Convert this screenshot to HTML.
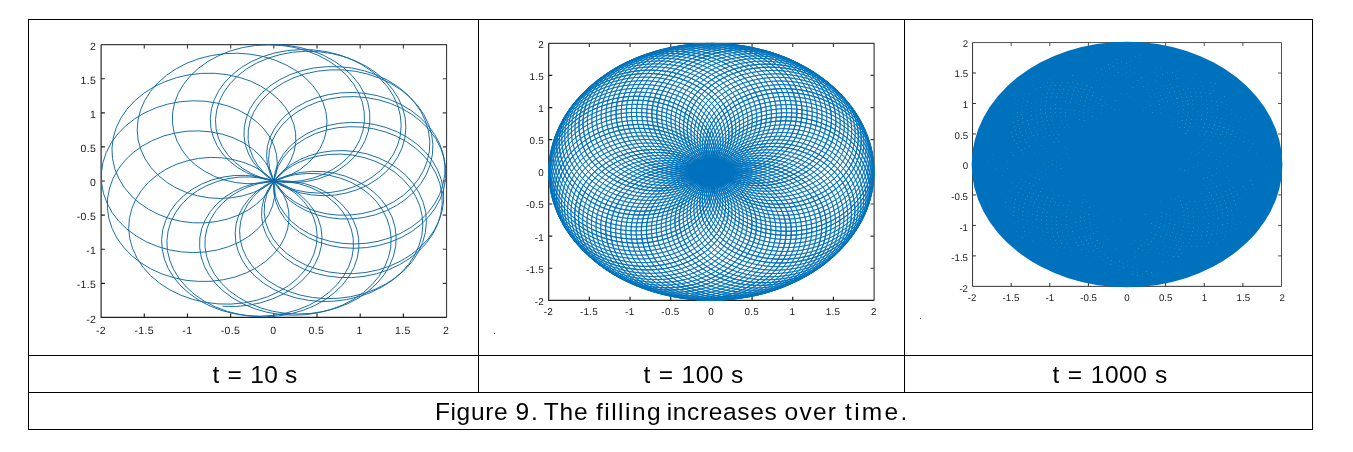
<!DOCTYPE html>
<html lang="en"><head><meta charset="utf-8"><title>Figure 9. The filling increases over time.</title>
<style>
html,body{margin:0;padding:0;background:#fff}
body{width:1353px;height:452px;position:relative;overflow:hidden;font-family:"Liberation Sans",sans-serif;color:#000}
.frame{position:absolute;left:28px;top:19px;width:1283px;height:409px;border:1px solid #000}
.v{position:absolute;top:19px;width:1px;height:374px;background:#000}
.h{position:absolute;left:28px;width:1285px;height:1px;background:#000}
.row{position:absolute;left:0;width:1353px;height:40px;font-size:24.5px;line-height:40px;white-space:nowrap;margin:0}
.row span{position:absolute;top:0;white-space:nowrap}
svg{position:absolute;left:0;top:0}
.dot{position:absolute;width:1px;height:1px;background:#555}
</style></head><body>
<div class="frame"></div>
<div class="v" style="left:478px"></div>
<div class="v" style="left:904px"></div>
<div class="h" style="top:355px"></div>
<div class="h" style="top:392px"></div>
<svg width="1353" height="452" viewBox="0 0 1353 452">
<g id="plot-t10"><g fill="none" stroke="#1f1f1f" stroke-width="1.15">
<path d="M101.10 44.65H446.55V317.40M144.28 44.65v3.80M446.55 78.74h-3.80M187.46 44.65v3.80M446.55 112.84h-3.80M230.64 44.65v3.80M446.55 146.93h-3.80M273.83 44.65v3.80M446.55 181.03h-3.80M317.01 44.65v3.80M446.55 215.12h-3.80M360.19 44.65v3.80M446.55 249.21h-3.80M403.37 44.65v3.80M446.55 283.31h-3.80" stroke-opacity=".85"/>
<path d="M101.10 44.65V317.40H446.55M144.28 317.40v-3.80M101.10 78.74h3.80M187.46 317.40v-3.80M101.10 112.84h3.80M230.64 317.40v-3.80M101.10 146.93h3.80M273.83 317.40v-3.80M101.10 181.03h3.80M317.01 317.40v-3.80M101.10 215.12h3.80M360.19 317.40v-3.80M101.10 249.21h3.80M403.37 317.40v-3.80M101.10 283.31h3.80"/>
</g>
<path fill="none" stroke="#0f67a3" stroke-width="0.95" stroke-linejoin="round" d="M273.8 44.6l13.1 .7 12.8 2.1 12.3 3.3 11.6 4.6 10.6 5.8 9.6 6.8 8.3 7.7 6.8 8.4 5.2 9.1 3.7 9.4 1.9 9.7 .1 9.7-1.5 9.5-3.2 9.2-4.8 8.7-6.2 7.9-7.6 7.1-8.7 6.1-9.7 4.9-10.5 3.8-11 2.4-11.3 1.1-11.4-.2-11.1-1.6-10.8-2.9-10-4.1-9.2-5.3-8.1-6.4-6.9-7.3-5.5-8.1-3.9-8.6-2.3-9.1-.6-9.4 1.2-9.4 2.8-9.3 4.5-8.9 6.1-8.4 7.6-7.8 9-6.9 10.1-5.9 11.2-4.8 12-3.6 12.5-2.4 12.9-.9 13 .4 12.8 1.7 12.5 3.1 11.8 4.4 11 5.5 9.9 6.7 8.8 7.6 7.3 8.5 5.9 9.1 4.2 9.5 2.5 9.9 .8 10-1 9.9-2.6 9.7-4.2 9.1-5.8 8.6-7.2 7.7-8.4 6.8-9.4 5.8-10.4 4.5-10.9 3.3-11.4 2-11.5 .6-11.4-.8-11.2-2-10.5-3.4-9.8-4.5-8.8-5.7-7.6-6.6-6.2-7.5-4.8-8.2-3.2-8.7-1.5-9 .2-9.2 1.9-9.1 3.5-8.8 5.3-8.4 6.7-7.9 8.2-7 9.5-6.1 10.5-5.1 11.4-3.9 12.1-2.6 12.5-1.3 12.8 0 12.7 1.4 12.4 2.8 11.9 4.1 11.1 5.2 10.2 6.5 9 7.4 7.7 8.4 6.2 9 4.7 9.6 3 10 1.3 10.2-.5 10.2-2.2 10-3.8 9.6-5.4 9-6.9 8.4-8.2 7.4-9.3 6.4-10.3 5.2-11 4.1-11.5 2.7-11.7 1.4-11.8 0-11.6-1.3-11.2-2.6-10.4-3.9-9.5-5-8.5-6.1-7.1-7-5.8-7.7-4.2-8.3-2.5-8.7-.9-9 .8-9 2.6-8.8 4.2-8.5 5.8-7.9 7.3-7.2 8.5-6.4 9.8-5.4 10.7-4.3 11.5-3 12.1-1.8 12.3-.4 12.4 1 12.2 2.3 11.8 3.6 11.2 4.9 10.2 6.1 9.2 7.2 8 8 6.5 8.9 5 9.5 3.3 10 1.7 10.2-.1 10.3-1.8 10.2-3.5 9.9-5.1 9.4-6.6 8.8-8 7.9-9.2 6.9-10.3 5.9-11.1 4.6-11.7 3.4-12 2-12.2 .7-12.1-.7-11.7-2-11.1-3.3-10.4-4.4-9.3-5.6-8.1-6.6-6.7-7.3-5.3-8.1-3.6-8.5-2-8.8-.3-9 1.5-8.9 3.1-8.6 4.8-8.2 6.2-7.5 7.7-6.7 8.9-5.8 9.9-4.8 10.9-3.5 11.4-2.3 11.9-1 12 .4 11.9 1.7 11.6 3.1 11.1 4.3 10.3 5.6 9.3 6.7 8.1 7.7 6.8 8.5 5.3 9.3 3.7 9.7 2 10.2 .3 10.2-1.5 10.3-3.1 10-4.8 9.6-6.4 9-7.8 8.2-9.1 7.3-10.2 6.3-11.1 5.1-11.9 3.9-12.3 2.6-12.5 1.2-12.5-.2-12.3-1.5-11.8-2.8-11.1-4-10.1-5.2-9-6.3-7.7-7.1-6.3-7.8-4.7-8.5-3.1-8.8-1.3-9 .3-9 2.1-8.9 3.7-8.5 5.3-7.9 6.7-7.2 8-6.3 9.2-5.4 10.1-4.2 10.9-2.9 11.3-1.7 11.7-.3 11.6 1 11.5 2.4 11 3.7 10.3 4.9 9.4 6.1 8.3 7.1 7 8.1 5.6 8.8 4.1 9.4 2.4 9.9 .7 10-1 10.2-2.8 9.9-4.4 9.7-6 9.1-7.6 8.4-8.8 7.6-10.1 6.5-11.1 5.5-11.9 4.2-12.4 3-12.8 1.6-12.8 .3-12.7-1.2-12.4-2.4-11.7-3.7-10.8-4.9-9.8-6-8.6-7-7.2-7.7-5.7-8.4-4-8.9-2.4-9.2-.6-9.2 1-9.2 2.7-8.9 4.4-8.4 5.8-7.7 7.3-7 8.4-6 9.5-4.9 10.3-3.7 10.9-2.5 11.3-1.1 11.5 .2 11.3 1.6 11 2.9 10.4 4.1 9.6 5.4 8.5 6.5 7.4 7.4 6 8.3 4.5 8.9 2.9 9.5 1.2 9.7-.4 9.9-2.3 9.8-3.9 9.5-5.5 9.1-7.1 8.5-8.5 7.7-9.8 6.8-10.9 5.7-11.7 4.5-12.4 3.2-12.8 2-13.1 .5-13-.8-12.6-2.1-12.2-3.5-11.4-4.7-10.4-5.8-9.3-6.8-8-7.7-6.5-8.4-4.9-9-3.2-9.4-1.5-9.5 .1-9.5 1.9-9.3 3.6-8.9 5.1-8.3 6.5-7.6 7.8-6.7 9-5.7 9.9-4.6 10.6-3.3 11-2 11.3-.6 11.3 .7 11.1 2 10.6 3.4 9.9 4.5 8.9 5.8 7.9 6.7 6.5 7.6 5.1 8.4 3.5 9 1.9 9.3 .2 9.6-1.5 9.5-3.3 9.4-4.9 9-6.5 8.5-7.9 7.7-9.3 6.9-10.4 5.9-11.5 4.7-12.1 3.5-12.7 2.2-13 .9-13.1-.6-12.8-1.8-12.4-3.2-11.8-4.5-10.8-5.6-9.8-6.8-8.6-7.6-7.1-8.4-5.6-9.1-3.9-9.5-2.2-9.8-.6-9.8 1.2-9.7 2.9-9.4 4.5-8.9 6-8.3 7.3-7.4 8.6-6.4 9.5-5.3 10.4-4.2 11-2.8 11.3-1.6 11.4-.1 11.3 1.1 10.9 2.5 10.3 3.8 9.4 4.9 8.4 6.1 7.2 6.9 5.9 7.8 4.3 8.5 2.7 8.9 1 9.2-.6 9.3-2.4 9.2-4.1 8.9-5.7 8.4-7.2 7.8-8.6 7-9.9 6-10.9 5-11.7 3.7-12.3 2.5-12.8 1.2-12.9-.2-12.8-1.6-12.5-2.9-11.9-4.2-11.1-5.4-10.1-6.6-8.9-7.5-7.6-8.4-6-9.1-4.5-9.6-2.8-9.9-1.1-10.1 .7-10 2.4-9.9 4-9.4 5.5-8.7 7-8.1 8.3-7.1 9.3-6.1 10.3-4.9 11-3.6 11.4-2.4 11.6-1 11.6 .4 11.3 1.7 10.8 3 10.1 4.2 9.1 5.3 8 6.4 6.7 7.2 5.2 8 3.7 8.5 2 8.8 .3 9.1-1.4 9-3.1 8.9-4.7 8.4-6.3 7.9-7.8 7.1-9.1 6.3-10.1 5.2-11.1 4.1-11.9 2.8-12.3 1.6-12.6 .1-12.6-1.1-12.3-2.6-11.9-3.8-11.2-5.1-10.2-6.3-9.2-7.3-7.8-8.2-6.5-9-4.8-9.6-3.2-10-1.5-10.2 .2-10.2 2-10.1 3.6-9.8 5.2-9.2 6.7-8.6 8.1-7.7 9.2-6.6 10.3-5.6 11-4.4 11.5-3 11.9-1.8 12-.3 11.8 1 11.4 2.3 10.8 3.5 9.9 4.8 8.8 5.8 7.6 6.7 6.3 7.6 4.6 8.1 3.1 8.7 1.4 8.8-.3 9-2 8.8-3.7 8.6-5.3 8-6.8 7.4-8.2 6.6-9.3 5.5-10.4 4.5-11.2 3.3-11.8 2-12.1 .7-12.2-.7-12.1-2-11.8-3.4-11.1-4.6-10.3-5.9-9.3-6.9-8.1-7.9-6.7-8.7-5.1-9.4-3.6-9.9-1.8-10.2-.2-10.3 1.6-10.3 3.3-10 4.9-9.5 6.5-8.9 7.9-8.1 9.1-7.1 10.2-6.1 11.1-4.9 11.8-3.7 12.1-2.3 12.4-1 12.3 .4 11.9 1.8 11.5 3 10.7 4.2 9.7 5.4 8.5 6.4 7.2 7.2 5.8 7.9 4.1 8.5 2.5 8.8 .8 9-.9 8.9-2.6 8.7-4.2 8.3-5.8 7.8-7.2 6.9-8.5 6.1-9.6 5-10.5 3.8-11.2 2.6-11.6 1.3-11.8 0-11.9-1.4-11.5-2.7-11.1-4.1-10.3-5.3-9.4-6.4-8.2-7.4-6.9-8.3-5.5-9.1-3.9-9.6-2.2-10-.5-10.2 1.2-10.3 2.9-10 4.6-9.6 6.2-9.1 7.7-8.4 9-7.4 10.1-6.5 11.1-5.3 11.8-4.1 12.4-2.8 12.6-1.4 12.7-.1 12.5 1.3 12.1 2.6 11.3 3.8 10.5 5.1 9.4 6.1 8.2 7 6.7 7.7 5.2 8.4 3.6 8.9 1.8 9 .2 9.2-1.6 8.9-3.2 8.7-4.8 8.1-6.3 7.5-7.6 6.6-8.8 5.7-9.9 4.5-10.5 3.3-11.2 2-11.5 .8-11.5-.7-11.4-2-11-3.3-10.4-4.6-9.5-5.7-8.4-6.9-7.2-7.7-5.8-8.6-4.3-9.2-2.7-9.7-1-9.9 .8-10.1 2.5-9.9 4.2-9.6 5.8-9.2 7.3-8.4 8.7-7.7 9.9-6.7 11-5.6 11.8-4.4 12.4-3.1 12.8-1.8 13-.5 12.8 1 12.5 2.2 12 3.6 11.1 4.8 10.2 5.8 8.9 6.9 7.6 7.7 6.1 8.4 4.5 8.9 2.8 9.2 1.1 9.4-.6 9.3-2.3 9.1-3.9 8.6-5.5 8-6.9 7.3-8.1 6.3-9.2 5.3-10.1 4.1-10.7 2.9-11.2 1.5-11.4 .2-11.3-1.1-11-2.5-10.5-3.8-9.7-5-8.8-6.1-7.6-7.1-6.2-8-4.8-8.7-3.2-9.2-1.6-9.6 .2-9.7 1.9-9.8 3.6-9.5 5.2-9 6.8-8.5 8.3-7.8 9.5-6.8 10.7-5.8 11.6-4.7 12.3-3.4 12.8-2.1 13-.7 13.1 .6 12.8 2 12.3 3.3 11.6 4.6 10.7 5.7 9.5 6.7 8.3 7.7 6.8 8.4 5.3 9 3.6 9.4 1.9 9.6 .2 9.7-1.5 9.5-3.2 9.1-4.8 8.6-6.2 7.9-7.6 7.1-8.7 6-9.7 4.9-10.4 3.7-11 2.4-11.3 1.1-11.4-.2-11.1-1.7-10.7-2.9-10.1-4.2-9.2-5.3-8.1-6.4-6.9-7.4-5.4-8.1-3.9-8.7-2.3-9.1-.6-9.4 1.2-9.5 2.8-9.3 4.5-9 6.1-8.4 7.7-7.8 8.9-7 10.2-6 11.2-4.8 12-3.7 12.5-2.3 12.9-1 13 .3 12.9 1.7 12.5 3.1 11.8 4.3 11.1 5.5 9.9 6.6 8.8 7.6 7.4 8.4 5.8 9.1 4.3 9.5 2.5 9.9 .9 9.9-.9 9.9-2.6 9.6-4.2 9.1-5.8 8.5-7.1 7.8-8.4 6.7-9.4 5.7-10.3 4.5-10.9 3.3-11.3 1.9-11.5 .6-11.4-.8-11.1-2.1-10.6-3.3-9.7-4.6-8.8-5.7-7.5-6.7-6.3-7.5-4.7-8.2-3.2-8.7-1.5-9.1 .3-9.2 1.9-9.1 3.6-8.9 5.3-8.4 6.8-7.9 8.2-7.1 9.5-6.1 10.5-5.1 11.5-3.9 12.1-2.7 12.6-1.3 12.8 0 12.7 1.3 12.5 2.8 11.9 4 11.2 5.3 10.2 6.4 9.1 7.4 7.7 8.3 6.3 9 4.7 9.6 3 10 1.4 10.1-.4 10.2-2.2 10-3.7 9.5-5.4 9.1-6.8 8.3-8.1 7.4-9.3 6.3-10.2 5.3-11 4-11.4 2.7-11.8 1.4-11.7 0-11.6-1.3-11-2.7-10.4-3.8-9.5-5.1-8.4-6.1-7.1-7-5.7-7.7-4.2-8.3-2.5-8.8-.8-8.9 .8-9 2.6-8.9 4.3-8.5 5.8-7.9 7.3-7.3 8.7-6.4 9.8-5.4 10.8-4.3 11.5-3 12.1-1.8 12.4-.4 12.4 .9 12.3 2.3 11.9 3.6 11.2 4.9 10.3 6.1 9.2 7.1 8 8.1 6.6 8.9 5.1 9.5 3.4 9.9 1.7 10.3 0 10.3-1.8 10.1-3.4 9.9-5 9.4-6.6 8.8-7.9 7.9-9.2 6.9-10.2 5.9-11 4.6-11.7 3.4-12 2-12.1 .7-12-.7-11.7-2-11.1-3.2-10.2-4.5-9.3-5.6-8.1-6.5-6.7-7.4-5.2-8-3.6-8.6-1.9-8.8-.2-9 1.5-8.8 3.2-8.7 4.8-8.1 6.3-7.5 7.7-6.8 8.9-5.8 10-4.7 10.9-3.6 11.5-2.3 11.9-1 12.1 .4 12 1.7 11.7 3.1 11.1 4.4 10.3 5.6 9.4 6.7 8.2 7.7 6.8 8.5 5.3 9.3 3.8 9.8 2.1 10.1 .3 10.3-1.4 10.2-3.1 10-4.7 9.7-6.3 9-7.8 8.2-9 7.4-10.2 6.3-11 5.1-11.8 3.9-12.3 2.6-12.4 1.2-12.5-.1-12.3-1.5-11.7-2.8-11-4-10.1-5.2-9-6.2-7.6-7.1-6.3-7.8-4.6-8.4-3.1-8.8-1.3-9 .4-9 2.1-8.9 3.8-8.4 5.3-7.9 6.7-7.2 8.1-6.4 9.2-5.3 10.2-4.1 10.9-3 11.4-1.6 11.7-.3 11.7 1 11.5 2.4 11 3.7 10.4 5 9.4 6.1 8.4 7.1 7.1 8.1 5.6 8.9 4.1 9.4 2.5 9.9 .7 10.1-1 10.1-2.7 10-4.4 9.7-5.9 9.2-7.5 8.4-8.8 7.6-10.1 6.6-11 5.5-11.8 4.3-12.4 3-12.8 1.6-12.8 .3-12.7-1.1-12.3-2.4-11.6-3.7-10.8-4.8-9.8-6-8.6-6.9-7.1-7.7-5.7-8.4-4-8.8-2.4-9.2-.6-9.2 1.1-9.1 2.7-8.9 4.4-8.3 5.9-7.7 7.3-7 8.4-5.9 9.5-4.9 10.4-3.7 10.9-2.4 11.3-1.1 11.5 .2 11.4 1.6 11 3 10.4 4.2 9.6 5.4 8.6 6.5 7.4 7.4 6 8.3 4.6 9 2.9 9.5 1.3 9.8-.5 9.9-2.2 9.8-3.9 9.6-5.5 9.2-7.1 8.5-8.5 7.7-9.7 6.9-10.9 5.7-11.7 4.5-12.4 3.3-12.8 2-13 .6-13-.7-12.6-2.1-12.2-3.4-11.4-4.7-10.4-5.8-9.3-6.7-7.9-7.7-6.5-8.4-4.9-8.9-3.2-9.3-1.6-9.5 .2-9.5 1.9-9.2 3.6-8.9 5.1-8.3 6.5-7.5 7.8-6.7 9-5.6 9.9-4.5 10.5-3.3 11.1-2 11.3-.6 11.3 .8 11.1 2 10.6 3.4 9.9 4.6 8.9 5.8 7.9 6.8 6.5 7.6 5.1 8.4 3.6 9 1.9 9.4 .2 9.6-1.6 9.6-3.2 9.5-4.9 9-6.5 8.5-8 7.8-9.2 7-10.5 5.9-11.4 4.7-12.2 3.6-12.7 2.2-13 .9-13-.4-12.9-1.9-12.4-3.1-11.8-4.4-10.9-5.6-9.8-6.7-8.5-7.6-7.2-8.4-5.5-9-4-9.5-2.3-9.7-.5-9.8 1.2-9.7 2.8-9.3 4.5-8.9 5.9-8.2 7.4-7.4 8.5-6.4 9.5-5.2 10.4-4.1 10.9-2.9 11.3-1.5 11.4-.1 11.2 1.2 10.9 2.5 10.3 3.8 9.4 5 8.5 6.1 7.1 7 5.9 7.8 4.3 8.5 2.7 8.9 1 9.3-.7 9.3-2.5 9.2-4.1 9-5.7 8.5-7.2 7.8-8.6 7-9.9 6.1-10.9 5-11.8 3.8-12.3 2.5-12.8 1.2-12.9-.2"/>
<g font-family="'Liberation Sans',sans-serif" font-size="10.50" fill="#1a1a1a" text-rendering="geometricPrecision" letter-spacing="0.35">
<g text-anchor="middle">
<text x="100.98" y="334.06">-2</text>
<text x="144.16" y="334.06">-1.5</text>
<text x="187.34" y="334.06">-1</text>
<text x="230.52" y="334.06">-0.5</text>
<text x="273.25" y="334.06">0</text>
<text x="316.43" y="334.06">0.5</text>
<text x="359.61" y="334.06">1</text>
<text x="402.79" y="334.06">1.5</text>
<text x="445.98" y="334.06">2</text>
</g><g text-anchor="end">
<text x="96.25" y="322.50">-2</text>
<text x="96.25" y="288.41">-1.5</text>
<text x="96.25" y="254.32">-1</text>
<text x="96.25" y="220.22">-0.5</text>
<text x="96.25" y="186.13">0</text>
<text x="96.25" y="152.03">0.5</text>
<text x="96.25" y="117.94">1</text>
<text x="96.25" y="83.85">1.5</text>
<text x="96.25" y="49.75">2</text>
</g></g></g>
<g id="plot-t100"><g fill="none" stroke="#1f1f1f" stroke-width="1.20">
<path d="M548.70 43.30H874.10V300.40M589.38 43.30v3.58M874.10 75.44h-3.58M630.05 43.30v3.58M874.10 107.57h-3.58M670.73 43.30v3.58M874.10 139.71h-3.58M711.40 43.30v3.58M874.10 171.85h-3.58M752.08 43.30v3.58M874.10 203.99h-3.58M792.75 43.30v3.58M874.10 236.12h-3.58M833.42 43.30v3.58M874.10 268.26h-3.58" stroke-opacity=".85"/>
<path d="M548.70 43.30V300.40H874.10M589.38 300.40v-3.58M548.70 75.44h3.58M630.05 300.40v-3.58M548.70 107.57h3.58M670.73 300.40v-3.58M548.70 139.71h3.58M711.40 300.40v-3.58M548.70 171.85h3.58M752.08 300.40v-3.58M548.70 203.99h3.58M792.75 300.40v-3.58M548.70 236.12h3.58M833.42 300.40v-3.58M548.70 268.26h3.58"/>
</g>
<path fill="none" stroke="#0072BD" stroke-width="0.80" stroke-linejoin="round" d="M711.4 43.3l12.3 .6 12 2 11.6 3.1 11 4.4 10 5.4 9 6.4 7.8 7.3 6.4 7.9 5 8.6 3.4 8.9 1.8 9.1 .1 9.1-1.4 9-3 8.7-4.5 8.1-5.9 7.5-7.1 6.7-8.3 5.7-9.1 4.7-9.9 3.5-10.3 2.3-10.7 1.1-10.7-.3-10.5-1.4-10.1-2.8-9.5-3.9-8.7-5-7.6-6-6.5-6.9-5.1-7.6-3.7-8.1-2.1-8.6-.6-8.8 1.1-8.9 2.6-8.7 4.3-8.5 5.7-7.9 7.2-7.3 8.4-6.5 9.6-5.6 10.5-4.6 11.3-3.4 11.8-2.1 12.1-1 12.2 .4 12.1 1.7 11.8 2.9 11.1 4.1 10.4 5.2 9.4 6.3 8.2 7.2 6.9 8 5.5 8.5 4 9.1 2.3 9.3 .8 9.4-.9 9.3-2.5 9.1-4 8.7-5.4 8-6.7 7.3-8 6.4-8.9 5.4-9.7 4.3-10.3 3.1-10.7 1.9-10.9 .6-10.8-.7-10.4-2-10-3.1-9.2-4.3-8.3-5.4-7.1-6.2-5.9-7.1-4.5-7.7-3-8.2-1.5-8.5 .2-8.6 1.8-8.6 3.4-8.3 4.9-8 6.4-7.3 7.7-6.7 8.9-5.7 9.9-4.8 10.8-3.7 11.4-2.5 11.8-1.2 12 0 11.9 1.4 11.7 2.6 11.2 3.8 10.5 5 9.6 6 8.5 7.1 7.2 7.8 5.9 8.5 4.4 9.1 2.8 9.4 1.2 9.6-.4 9.6-2.1 9.5-3.6 9-5.1 8.5-6.5 7.9-7.7 7-8.7 6-9.7 5-10.4 3.8-10.8 2.5-11.1 1.3-11.1 .1-10.9-1.3-10.5-2.4-9.8-3.7-9-4.7-8-5.7-6.7-6.6-5.4-7.3-4-7.8-2.4-8.3-.8-8.4 .8-8.5 2.4-8.3 3.9-8 5.5-7.5 6.8-6.8 8.1-6 9.2-5.1 10.1-4 10.8-2.9 11.4-1.6 11.6-.4 11.7 .9 11.5 2.2 11.1 3.4 10.5 4.6 9.7 5.7 8.6 6.8 7.5 7.6 6.2 8.4 4.7 8.9 3.1 9.4 1.6 9.7-.1 9.7-1.7 9.6-3.3 9.3-4.8 8.9-6.2 8.2-7.6 7.5-8.6 6.5-9.7 5.5-10.4 4.4-11.1 3.2-11.3 1.9-11.5 .7-11.4-.7-11-1.9-10.5-3.1-9.7-4.2-8.8-5.2-7.6-6.2-6.4-7-4.9-7.5-3.5-8.1-1.8-8.3-.3-8.4 1.4-8.4 2.9-8.1 4.5-7.7 5.9-7.1 7.2-6.4 8.4-5.5 9.4-4.4 10.2-3.4 10.8-2.2 11.1-.9 11.4 .4 11.2 1.6 11 2.9 10.4 4.1 9.7 5.3 8.7 6.3 7.7 7.2 6.3 8.1 5 8.7 3.5 9.2 1.9 9.5 .3 9.7-1.4 9.7-3 9.4-4.5 9.1-6 8.4-7.3 7.8-8.6 6.9-9.6 5.9-10.5 4.9-11.1 3.6-11.6 2.4-11.8 1.2-11.8-.2-11.6-1.4-11.1-2.7-10.4-3.8-9.6-4.9-8.5-5.8-7.2-6.7-5.9-7.5-4.5-7.9-2.9-8.3-1.2-8.5 .3-8.5 1.9-8.4 3.5-8 5-7.4 6.3-6.8 7.6-6 8.6-5 9.6-4 10.2-2.8 10.7-1.5 10.9-.4 11 1 10.8 2.2 10.4 3.5 9.7 4.7 8.8 5.7 7.9 6.7 6.6 7.6 5.3 8.4 3.8 8.8 2.2 9.3 .7 9.5-1 9.5-2.5 9.5-4.2 9-5.7 8.6-7.1 8-8.3 7.1-9.5 6.2-10.5 5.1-11.1 4-11.7 2.8-12.1 1.5-12.1 .3-12-1.1-11.6-2.3-11-3.5-10.2-4.6-9.2-5.7-8.1-6.5-6.8-7.3-5.3-8-3.9-8.3-2.2-8.7-.6-8.7 1-8.6 2.5-8.4 4.1-7.9 5.5-7.3 6.9-6.6 7.9-5.6 8.9-4.6 9.8-3.6 10.3-2.3 10.6-1 10.8 .2 10.6 1.4 10.4 2.8 9.8 3.9 9 5 8.1 6.1 6.9 7.1 5.7 7.7 4.2 8.5 2.8 8.9 1.1 9.2-.5 9.3-2 9.2-3.7 9-5.3 8.6-6.7 8-8 7.3-9.2 6.3-10.2 5.4-11.1 4.2-11.6 3.1-12.1 1.8-12.3 .5-12.2-.7-12-2-11.4-3.3-10.8-4.4-9.8-5.5-8.7-6.4-7.5-7.3-6.1-7.9-4.7-8.5-3-8.8-1.5-9 .2-8.9 1.8-8.8 3.3-8.4 4.8-7.9 6.2-7.1 7.4-6.3 8.4-5.4 9.3-4.3 10-3.1 10.4-1.9 10.6-.6 10.7 .7 10.4 1.9 10 3.1 9.3 4.4 8.4 5.3 7.4 6.4 6.2 7.2 4.8 7.9 3.3 8.4 1.8 8.8 .2 9-1.5 9.1-3 8.8-4.7 8.5-6.1 8-7.5 7.3-8.7 6.5-9.8 5.5-10.8 4.5-11.5 3.3-11.9 2-12.2 .8-12.3-.5-12.1-1.7-11.7-3-11.1-4.3-10.2-5.3-9.3-6.3-8-7.2-6.7-8-5.3-8.5-3.7-9-2.1-9.2-.5-9.2 1.2-9.2 2.7-8.9 4.2-8.4 5.6-7.7 6.9-7 8.1-6.1 9-5 9.8-3.9 10.3-2.7 10.6-1.4 10.8-.2 10.6 1.1 10.3 2.4 9.7 3.5 8.9 4.7 7.9 5.7 6.8 6.5 5.5 7.4 4.1 7.9 2.5 8.4 1 8.7-.6 8.8-2.3 8.6-3.8 8.4-5.4 8-6.8 7.3-8.1 6.6-9.3 5.7-10.2 4.7-11.1 3.5-11.6 2.4-12 1.1-12.2-.2-12-1.5-11.8-2.8-11.2-3.9-10.4-5.1-9.6-6.2-8.4-7.1-7.1-7.9-5.7-8.6-4.2-9-2.6-9.4-1.1-9.5 .7-9.5 2.2-9.2 3.8-8.9 5.2-8.3 6.6-7.5 7.8-6.7 8.8-5.8 9.6-4.6 10.4-3.4 10.7-2.3 11-.9 10.9 .3 10.6 1.6 10.2 2.8 9.5 4 8.6 5.1 7.6 5.9 6.2 6.9 5 7.5 3.4 8 1.9 8.3 .3 8.6-1.3 8.5-2.9 8.3-4.5 8-5.9 7.4-7.4 6.8-8.5 5.9-9.6 4.9-10.4 3.8-11.2 2.7-11.6 1.4-11.8 .2-11.9-1.1-11.6-2.4-11.2-3.6-10.5-4.8-9.7-5.9-8.6-6.9-7.4-7.8-6.1-8.4-4.6-9.1-3-9.4-1.4-9.6 .2-9.7 1.9-9.5 3.4-9.2 4.9-8.7 6.3-8.1 7.6-7.2 8.7-6.3 9.7-5.3 10.3-4.1 10.9-2.9 11.2-1.6 11.3-.3 11.1 .9 10.8 2.2 10.1 3.3 9.3 4.5 8.4 5.5 7.1 6.3 5.9 7.1 4.4 7.7 2.9 8.2 1.3 8.3-.3 8.5-1.9 8.3-3.4 8.1-5 7.6-6.4 6.9-7.7 6.2-8.8 5.3-9.8 4.2-10.5 3.1-11.1 1.9-11.5 .6-11.5-.6-11.4-1.9-11.1-3.2-10.5-4.4-9.7-5.5-8.7-6.5-7.6-7.5-6.3-8.2-4.9-8.9-3.3-9.3-1.8-9.6-.1-9.7 1.5-9.7 3.1-9.4 4.7-9 6.1-8.3 7.4-7.7 8.6-6.7 9.6-5.8 10.4-4.6 11.1-3.4 11.5-2.2 11.6-.9 11.6 .3 11.2 1.7 10.8 2.8 10.1 4 9.1 5.1 8.1 6 6.8 6.8 5.4 7.5 3.9 8 2.4 8.3 .7 8.4-.8 8.4-2.5 8.3-4 7.8-5.5 7.3-6.7 6.5-8 5.7-9.1 4.7-9.8 3.7-10.6 2.4-10.9 1.3-11.2-.1-11.1-1.3-10.9-2.6-10.4-3.8-9.8-5-8.8-6-7.7-7-6.6-7.9-5.1-8.5-3.7-9.1-2.1-9.4-.4-9.6 1.1-9.7 2.8-9.4 4.3-9.1 5.8-8.6 7.2-7.8 8.5-7.1 9.5-6.1 10.5-5 11.1-3.9 11.7-2.6 11.9-1.3 12-.1 11.7 1.2 11.4 2.5 10.7 3.6 9.9 4.7 8.8 5.8 7.7 6.6 6.3 7.3 4.9 7.9 3.4 8.4 1.7 8.5 .2 8.6-1.5 8.5-3 8.1-4.5 7.7-6 7-7.2 6.3-8.3 5.3-9.2 4.3-10 3.1-10.5 1.9-10.8 .7-10.9-.6-10.7-1.9-10.4-3.1-9.7-4.3-9-5.5-7.9-6.4-6.8-7.3-5.5-8.1-4-8.7-2.5-9.1-1-9.4 .8-9.5 2.3-9.3 3.9-9.1 5.5-8.6 6.9-8 8.2-7.2 9.3-6.3 10.4-5.3 11.1-4.2 11.7-2.9 12.1-1.7 12.2-.4 12.1 .9 11.8 2.1 11.2 3.4 10.5 4.5 9.6 5.5 8.4 6.5 7.1 7.2 5.8 7.9 4.2 8.4 2.7 8.7 1 8.9-.6 8.7-2.1 8.6-3.7 8.1-5.2 7.6-6.5 6.8-7.6 6-8.7 5-9.5 3.8-10.1 2.7-10.5 1.5-10.8 .2-10.6-1.1-10.4-2.4-9.9-3.5-9.1-4.7-8.3-5.8-7.1-6.7-5.9-7.5-4.5-8.2-3.1-8.7-1.4-9 .1-9.2 1.8-9.2 3.4-8.9 5-8.6 6.4-8 7.7-7.3 9-6.5 10.1-5.4 10.9-4.4 11.6-3.2 12-2 12.3-.7 12.3 .6 12.1 1.9 11.6 3.1 10.9 4.3 10 5.4 9.1 6.4 7.7 7.2 6.5 7.9 4.9 8.5 3.4 8.9 1.8 9 .2 9.1-1.4 9-3 8.6-4.5 8.1-5.9 7.5-7.1 6.6-8.2 5.7-9.2 4.6-9.8 3.5-10.4 2.3-10.6 1-10.7-.3-10.5-1.5-10.1-2.7-9.5-4-8.6-5-7.7-6.1-6.4-6.9-5.1-7.6-3.7-8.2-2.2-8.6-.5-8.9 1.1-8.9 2.6-8.8 4.3-8.5 5.8-7.9 7.1-7.4 8.5-6.5 9.6-5.7 10.5-4.5 11.3-3.5 11.8-2.2 12.2-1 12.2 .4 12.1 1.6 11.8 2.8 11.2 4.1 10.3 5.2 9.5 6.3 8.2 7.1 7 7.9 5.5 8.6 4 9 2.4 9.2 .8 9.4-.9 9.3-2.4 9.1-4 8.6-5.4 8-6.7 7.3-7.9 6.4-8.9 5.3-9.7 4.3-10.3 3.1-10.6 1.8-10.9 .5-10.7-.7-10.5-2-9.9-3.1-9.2-4.4-8.2-5.3-7.1-6.3-5.9-7.1-4.5-7.7-3-8.3-1.4-8.5 .2-8.6 1.9-8.6 3.4-8.4 4.9-8 6.4-7.4 7.8-6.7 8.9-5.8 10-4.8 10.7-3.7 11.5-2.5 11.8-1.2 12.1 0 11.9 1.3 11.8 2.5 11.2 3.8 10.6 5 9.6 6 8.5 7 7.3 7.8 6 8.5 4.4 9.1 2.8 9.4 1.3 9.6-.4 9.5-2 9.4-3.6 9.1-5 8.5-6.4 7.8-7.7 7-8.7 6-9.6 4.9-10.4 3.8-10.7 2.6-11.1 1.3-11.1 0-10.8-1.3-10.5-2.5-9.8-3.6-8.9-4.8-7.9-5.7-6.7-6.6-5.4-7.3-3.9-7.8-2.4-8.3-.7-8.4 .8-8.5 2.4-8.4 4-8 5.5-7.5 6.9-6.8 8.2-6 9.2-5.1 10.2-4.1 10.8-2.8 11.4-1.7 11.7-.4 11.7 .9 11.6 2.1 11.1 3.4 10.6 4.6 9.7 5.8 8.7 6.7 7.6 7.6 6.2 8.4 4.7 8.9 3.2 9.4 1.6 9.7 0 9.7-1.6 9.6-3.2 9.3-4.8 8.8-6.2 8.3-7.5 7.4-8.6 6.6-9.6 5.5-10.4 4.4-10.9 3.1-11.3 2-11.5 .6-11.3-.6-11-1.9-10.4-3.1-9.7-4.2-8.7-5.3-7.6-6.1-6.3-7-4.9-7.6-3.4-8-1.8-8.3-.2-8.5 1.4-8.3 3-8.2 4.5-7.6 5.9-7.1 7.3-6.4 8.4-5.5 9.5-4.4 10.2-3.4 10.8-2.2 11.2-.9 11.4 .4 11.3 1.6 11 2.9 10.5 4.1 9.7 5.3 8.9 6.3 7.7 7.3 6.4 8 5 8.7 3.5 9.3 2 9.5 .3 9.7-1.3 9.7-2.9 9.4-4.5 9.1-5.9 8.5-7.3 7.8-8.5 6.9-9.6 5.9-10.4 4.9-11.1 3.6-11.5 2.5-11.8 1.1-11.8-.1-11.5-1.4-11-2.6-10.4-3.8-9.5-4.9-8.5-5.9-7.2-6.6-5.9-7.4-4.3-8-2.9-8.2-1.2-8.5 .3-8.5 2-8.3 3.5-8 5-7.5 6.4-6.8 7.6-5.9 8.7-5 9.6-3.9 10.2-2.8 10.8-1.6 11-.3 11 1 10.8 2.3 10.4 3.5 9.8 4.6 8.9 5.8 7.9 6.8 6.6 7.6 5.3 8.3 3.9 8.9 2.3 9.3 .7 9.5-.9 9.6-2.5 9.4-4.2 9.2-5.6 8.6-7 7.9-8.4 7.2-9.4 6.2-10.4 5.2-11.1 4-11.7 2.9-12 1.5-12.1 .3-11.9-1-11.6-2.3-11-3.5-10.2-4.6-9.2-5.6-8.1-6.5-6.7-7.3-5.3-7.9-3.8-8.3-2.2-8.6-.6-8.7 1-8.6 2.6-8.3 4.1-7.9 5.5-7.3 6.9-6.5 8-5.6 8.9-4.6 9.7-3.5 10.4-2.3 10.6-1 10.8 .2 10.7 1.5 10.4 2.8 9.8 3.9 9.1 5.1 8.1 6.1 6.9 7.1 5.7 7.8 4.3 8.5 2.8 8.9 1.1 9.2-.4 9.4-2.1 9.3-3.6 9-5.2 8.6-6.7 8.1-8 7.3-9.2 6.4-10.2 5.4-11 4.3-11.7 3.1-12.1 1.8-12.2 .6-12.2-.7-12-2-11.4-3.2-10.7-4.4-9.9-5.4-8.7-6.4-7.5-7.2-6.1-7.9-4.6-8.4-3.1-8.8-1.4-8.9 .2-9 1.8-8.7 3.3-8.4 4.8-7.8 6.2-7.1 7.3-6.3 8.5-5.3 9.3-4.2 10-3.1 10.4-1.9 10.6-.5 10.7 .7 10.4 1.9 10 3.2 9.3 4.3 8.4 5.5 7.4 6.4 6.2 7.2 4.8 7.9 3.3 8.5 1.8 8.9 .2 9-1.4 9-3.1 8.9-4.6 8.6-6.1 8-7.5 7.4-8.8 6.5-9.8 5.6-10.8 4.5-11.4 3.3-12 2.1-12.2 .9-12.3-.5-12.1-1.7-11.7-3-11.1-4.1-10.3-5.3-9.2-6.3-8.1-7.2-6.7-7.9-5.3-8.5-3.7-8.9-2.1-9.2-.5-9.2 1.1-9.1 2.7-8.8 4.2-8.4 5.6-7.7 6.9-7 8-6 9-5 9.8-3.8 10.3-2.7 10.6-1.4 10.7-.2 10.6 1.2 10.3 2.4 9.6 3.5 8.9 4.7 8 5.7 6.7 6.7 5.5 7.3 4.1 8 2.5 8.5 .9 8.7-.6 8.8-2.3 8.7-3.9 8.4-5.3 8-6.9 7.4-8.1 6.6-9.3 5.7-10.3 4.7-11 3.6-11.7 2.4-12 1.1-12.2-.1-12.1-1.5-11.8-2.7-11.2-3.9-10.5-5.1-9.6-6.1-8.4-7.1-7.2-7.8-5.7-8.6-4.3-9-2.6-9.3-1.1-9.5 .6-9.4 2.2-9.3 3.7-8.8 5.2-8.3 6.5-7.5 7.8-6.7 8.8-5.7 9.6-4.6 10.3-3.4 10.7-2.2 10.9-.9 10.9 .3 10.6 1.7 10.1 2.8 9.5 4 8.6 5.1 7.5 6 6.2 6.8 4.9 7.5 3.4 8.1 1.9 8.4 .3 8.5-1.4 8.6-3 8.3-4.5 8-6 7.5-7.3 6.7-8.6 5.9-9.6 5-10.5 3.9-11.2 2.7-11.6 1.4-11.9 .2-11.9-1.1-11.7-2.3-11.2-3.6-10.6-4.8-9.7-5.9-8.7-6.9-7.5-7.7-6.1-8.4-4.6-9.1-3.1-9.4-1.4-9.6 .1-9.6 1.8-9.5 3.4-9.2 4.9-8.7 6.2-8 7.6-7.3 8.6-6.3 9.6-5.2 10.3-4.1 10.9-2.9 11.1-1.6 11.3-.3 11 .9 10.7 2.2 10.1 3.3 9.3 4.5 8.3 5.5 7.1 6.4 5.8 7.1 4.4 7.7 2.9 8.1 1.2 8.4-.3 8.5-2 8.3-3.5 8.1-5 7.5-6.5 7-7.7 6.2-8.9 5.3-9.8 4.2-10.6 3.1-11.1 1.9-11.5 .7-11.6-.7-11.4-1.9-11.2-3.1-10.5-4.4-9.8-5.5-8.8-6.5-7.6-7.5-6.4-8.2-4.9-8.9-3.4-9.3-1.8-9.6-.2-9.7 1.5-9.7 3-9.4 4.6-9 6-8.4 7.4-7.6 8.6-6.8 9.5-5.7 10.4-4.6 11-3.5 11.4-2.2 11.6-.9 11.5 .3 11.3 1.7 10.7 2.8 10 4 9.1 5.1 8 5.9 6.7 6.8 5.4 7.5 3.9 8 2.3 8.3 .7 8.4-.9 8.4-2.5 8.2-4 7.8-5.5 7.3-6.9 6.6-8 5.7-9.1 4.7-9.9 3.6-10.6 2.5-11 1.2-11.2-.1-11.2-1.3-10.9-2.6-10.5-3.8-9.7-5-8.9-6.1-7.8-7-6.6-7.9-5.2-8.5-3.7-9.1-2.2-9.5-.5-9.6 1.1-9.6 2.7-9.5 4.3-9.1 5.8-8.6 7.1-7.9 8.4-7.1 9.5-6.1 10.4-5 11.1-3.9 11.6-2.7 11.9-1.3 11.9-.1 11.8 1.1 11.3 2.5 10.6 3.6 9.9 4.7 8.8 5.7 7.6 6.6 6.4 7.3 4.8 7.9 3.3 8.3 1.8 8.5 .1 8.6-1.5 8.4-3.1 8.1-4.6 7.7-5.9 7-7.3 6.2-8.3 5.3-9.3 4.2-10 3.1-10.5 1.9-10.9 .7-10.9-.6-10.8-1.9-10.3-3.2-9.8-4.3-9-5.5-8-6.5-6.9-7.3-5.5-8.1-4-8.7-2.6-9.2-.9-9.4 .7-9.5 2.3-9.4 3.9-9.1 5.4-8.6 6.8-8.1 8.2-7.2 9.3-6.4 10.3-5.3 11.1-4.2 11.7-3 12-1.7 12.2-.4 12.1 .8 11.7 2.1 11.3 3.3 10.4 4.5 9.6 5.5 8.4 6.4 7.1 7.2 5.7 7.9 4.2 8.4 2.7 8.6 1 8.8-.6 8.8-2.2 8.5-3.7 8.1-5.1 7.5-6.5 6.8-7.7 5.9-8.7 5-9.5 3.8-10.1 2.7-10.6 1.4-10.7 .1-10.7-1.1-10.4-2.4-9.9-3.6-9.1-4.7-8.3-5.8-7.2-6.7-5.9-7.6-4.5-8.2-3.1-8.8-1.4-9 .1-9.2 1.8-9.2 3.3-9 5-8.6 6.4-8.1 7.7-7.4 9-6.4 10.1-5.6 10.9-4.4 11.6-3.2 12-2.1 12.3-.7 12.2 .6 12.1 1.8 11.6 3.1 10.9 4.2 10.1 5.4 9 6.3 7.8 7.2 6.4 7.8 5 8.5 3.4 8.8 1.8 9 .2 9.1-1.4 8.9-3 8.6-4.5 8.1-5.9 7.4-7.1 6.6-8.2 5.6-9.1 4.6-9.9 3.5-10.3 2.2-10.6 1-10.7-.3-10.5-1.6-10.1-2.8-9.5-3.9-8.6-5.1-7.7-6.1-6.4-6.9-5.1-7.7-3.7-8.3-2.2-8.6-.5-8.9 1.1-9 2.7-8.8 4.2-8.5 5.8-8 7.2-7.4 8.4-6.6 9.6-5.7 10.6-4.6 11.3-3.5 11.8-2.2 12.2-1 12.3 .2 12.1 1.6 11.8 2.8 11.2 4.1 10.4 5.1 9.4 6.2 8.3 7.1 6.9 7.9 5.6 8.5 4 9 2.5 9.2 .8 9.4-.9 9.2-2.4 9.1-3.9 8.5-5.4 8-6.7 7.3-7.8 6.3-8.9 5.4-9.6 4.2-10.3 3-10.6 1.8-10.8 .5-10.8-.7-10.4-2-9.9-3.2-9.1-4.4-8.2-5.4-7.1-6.3-5.9-7.1-4.4-7.8-3-8.2-1.4-8.6 .3-8.7 1.8-8.6 3.5-8.4 4.9-8 6.5-7.5 7.7-6.7 9-5.8 10-4.8 10.8-3.8 11.5-2.5 11.8-1.3 12.1 0 12 1.2 11.8 2.6 11.3 3.7 10.6 4.9 9.6 6 8.6 7 7.4 7.8 5.9 8.5 4.5 9 2.9 9.4 1.3 9.5-.3 9.6-2 9.4-3.5 9-5 8.5-6.4 7.7-7.6 7-8.7 6-9.5 4.9-10.3 3.8-10.8 2.5-11 1.3-11 0-10.8-1.3-10.4-2.5-9.8-3.6-8.9-4.8-7.8-5.8-6.7-6.6-5.3-7.3-3.9-7.8-2.3-8.3-.8-8.5 .9-8.5 2.5-8.3 4.1-8 5.5-7.6 6.9-6.8 8.2-6.1 9.3-5.1 10.2-4 10.9-2.9 11.4-1.7 11.7-.4 11.8 .8 11.6 2.2 11.2 3.4 10.6 4.5 9.8 5.7 8.8 6.8 7.6 7.6 6.2 8.3 4.9 9 3.2 9.3 1.7 9.7 0 9.7-1.5 9.6-3.2 9.3-4.7 8.8-6.1 8.2-7.5 7.5-8.5 6.5-9.6 5.5-10.3 4.4-10.9 3.2-11.3 1.9-11.4 .7-11.2-.7-11-1.8-10.4-3.1-9.6-4.2-8.7-5.3-7.5-6.2-6.3-6.9-4.8-7.6-3.4-8-1.7-8.4-.2-8.4 1.4-8.4 3.1-8.1 4.5-7.7 6-7.1 7.3-6.3 8.5-5.5 9.5-4.5 10.3-3.3 10.9-2.2 11.2-.9 11.5 .3 11.3 1.7 11.1 2.9 10.5 4.1 9.8 5.3 8.9 6.3 7.7 7.2 6.5 8.1 5.1 8.7 3.6 9.3 2 9.5 .4 9.7-1.3 9.7-2.8 9.4-4.5 9.1-5.8 8.5-7.3 7.8-8.4 7-9.6 5.9-10.3 4.9-11.1 3.7-11.5 2.4-11.7 1.2-11.7-.1-11.5-1.4-11-2.6-10.3-3.8-9.5-4.8-8.4-5.9-7.1-6.6-5.9-7.4-4.3-7.9-2.8-8.3-1.2-8.5 .4-8.4 2-8.3 3.6-8 5-7.4 6.4-6.8 7.7-5.9 8.7-5 9.6-3.9 10.3-2.8 10.8-1.5 11-.3 11.1 1 10.9 2.3 10.4 3.5 9.8 4.7 9 5.7 7.9 6.8 6.7 7.6 5.4 8.4 3.9 8.9 2.3 9.4 .8 9.5-.9 9.6-2.5 9.5-4.1 9.1-5.6 8.7-7 7.9-8.2 7.2-9.4 6.3-10.4 5.2-11.1 4.1-11.6 2.8-12 1.6-12 .3-11.9-1-11.6-2.2-10.9-3.4-10.2-4.6-9.2-5.6-8-6.5-6.7-7.2-5.3-7.9-3.8-8.3-2.2-8.5-.5-8.7 1-8.6 2.6-8.3 4.2-7.8 5.5-7.3 6.9-6.5 8-5.6 9-4.5 9.8-3.5 10.3-2.2 10.7-1.1 10.8 .3 10.7 1.5 10.4 2.8 9.9 4 9.1 5.2 8.1 6.1 7 7.1 5.7 7.9 4.3 8.4 2.8 9 1.2 9.3-.4 9.4-2 9.3-3.7 9.1-5.1 8.6-6.7 8.1-7.9 7.3-9.2 6.5-10.2 5.4-11 4.4-11.6 3.1-12.1 1.9-12.2 .6-12.2-.6-12-2-11.4-3.1-10.7-4.4-9.8-5.4-8.7-6.3-7.5-7.2-6.1-7.9-4.6-8.3-3.1-8.8-1.4-8.9 .2-8.8 1.8-8.7 3.3-8.4 4.8-7.7 6.2-7.1 7.4-6.3 8.4-5.2 9.3-4.2 10-3.1 10.4-1.8 10.7-.6 10.7 .8 10.4 2 10 3.2 9.3 4.4 8.4 5.4 7.4 6.5 6.2 7.2 4.8 8 3.4 8.5 1.8 8.9 .1 9.1-1.4 9.1-3 8.9-4.7 8.6-6.1 8.1-7.5 7.4-8.7 6.5-9.8 5.7-10.8 4.5-11.5 3.4-11.9 2.2-12.3 .8-12.3-.4-12.1-1.6-11.7-3-11.1-4.1-10.3-5.2-9.2-6.3-8.1-7.1-6.7-7.9-5.3-8.4-3.7-8.9-2.2-9.1-.5-9.2 1.1-9.1 2.7-8.8 4.1-8.3 5.6-7.7 6.9-6.9 8-6 9-4.9 9.7-3.9 10.3-2.6 10.6-1.4 10.7-.1 10.6 1.2 10.3 2.4 9.6 3.6 8.9 4.8 7.9 5.7 6.8 6.7 5.4 7.4 4.1 8 2.5 8.5 .9 8.7-.7 8.8-2.2 8.8-3.9 8.5-5.4 8-6.9 7.4-8.1 6.7-9.3 5.7-10.3 4.8-11.1 3.6-11.7 2.4-12.1 1.2-12.2-.1-12.1-1.4-11.8-2.7-11.3-3.9-10.5-5-9.6-6.1-8.4-7-7.2-7.9-5.8-8.5-4.3-8.9-2.7-9.4-1.1-9.4 .5-9.4 2.2-9.2 3.7-8.8 5.1-8.2 6.5-7.5 7.7-6.7 8.8-5.7 9.6-4.5 10.2-3.4 10.7-2.2 10.9-.9 10.8 .4 10.6 1.6 10.1 2.9 9.4 4 8.6 5.1 7.4 6 6.3 6.9 4.8 7.5 3.4 8.1 1.8 8.4 .3 8.6-1.4 8.6-3 8.4-4.6 8-6 7.5-7.4 6.7-8.6 6-9.6 5-10.6 3.9-11.2 2.7-11.7 1.5-11.9 .2-12-1.1-11.7-2.3-11.3-3.6-10.6-4.7-9.8-5.9-8.7-6.8-7.5-7.7-6.1-8.5-4.7-9-3.2-9.3-1.5-9.6 .1-9.7 1.8-9.5 3.3-9.1 4.8-8.7 6.2-8 7.5-7.2 8.6-6.3 9.6-5.2 10.2-4.1 10.8-2.9 11.1-1.6 11.2-.3 11 .9 10.7 2.2 10 3.4 9.3 4.4 8.2 5.5 7.1 6.4 5.8 7.1 4.3 7.8 2.8 8.1 1.2 8.4-.3 8.5-2 8.3-3.6 8.1-5.1 7.6-6.5 7-7.8 6.2-8.9 5.2-9.8 4.3-10.7 3.1-11.2 1.9-11.5 .7-11.6-.6-11.5-1.9-11.2-3.2-10.6-4.4-9.8-5.5-8.9-6.5-7.7-7.4-6.4-8.2-5-8.9-3.4-9.3-1.9-9.6-.2-9.8 1.3-9.6 3-9.4 4.6-9 5.9-8.4 7.4-7.6 8.5-6.8 9.5-5.7 10.3-4.7 10.9-3.4 11.4-2.2 11.5-1 11.5 .4 11.2 1.6 10.7 2.8 9.9 4 9.1 5.1 7.9 5.9 6.7 6.8 5.4 7.5 3.8 7.9 2.3 8.3 .6 8.5-.9 8.4-2.6 8.2-4 7.8-5.6 7.2-6.9 6.6-8.1 5.7-9.1 4.7-9.9 3.6-10.7 2.4-11 1.3-11.3-.1-11.2-1.3-11-2.6-10.5-3.9-9.8-5-9-6-7.8-7.1-6.7-7.9-5.2-8.5-3.8-9.1-2.2-9.5-.6-9.6 1.1-9.7 2.6-9.5 4.3-9.1 5.7-8.6 7.1-8 8.4-7 9.4-6.2 10.4-5 11-3.9 11.6-2.7 11.8-1.4 11.9-.1 11.7 1.1 11.2 2.4 10.7 3.6 9.8 4.7 8.8 5.7 7.6 6.5 6.2 7.3 4.8 7.9 3.3 8.2 1.7 8.5 .1 8.6-1.5 8.4-3.2 8.1-4.6 7.6-6 7-7.2 6.2-8.4 5.3-9.3 4.2-10 3.1-10.6 1.9-10.9 .6-11-.7-10.8-1.9-10.4-3.2-9.8-4.3-9.1-5.5-8-6.5-6.9-7.4-5.5-8.1-4.1-8.8-2.6-9.1-1-9.5 .6-9.5 2.3-9.4 3.9-9.2 5.4-8.6 6.8-8.1 8.1-7.3 9.3-6.4 10.2-5.4 11.1-4.2 11.6-3 12.1-1.8 12.1-.5 12.1 .8 11.7 2.1 11.2 3.3 10.5 4.4 9.5 5.5 8.3 6.4 7.1 7.1 5.7 7.9 4.2 8.3 2.7 8.6 1 8.8-.6 8.7-2.2 8.5-3.8 8-5.1 7.5-6.5 6.8-7.7 5.9-8.7 4.9-9.6 3.8-10.1 2.6-10.6 1.4-10.7 .1-10.7-1.1-10.4-2.4-9.9-3.7-9.2-4.7-8.3-5.9-7.2-6.8-6-7.5-4.5-8.3-3.1-8.8-1.5-9.1 .2-9.2 1.7-9.3 3.4-9 4.9-8.7 6.3-8.1 7.8-7.4 9-6.5 10-5.5 10.9-4.5 11.6-3.3 12-2.1 12.2-.7 12.3 .5 12.1 1.7 11.5 3.1 11 4.2 10 5.3 9 6.2 7.8 7.2 6.5 7.8 4.9 8.4 3.5 8.8 1.8 9 .2 9-1.5 8.9-2.9 8.5-4.5 8.1-5.9 7.3-7.1 6.6-8.2 5.6-9.1 4.6-9.9 3.4-10.3 2.2-10.6 .9-10.7-.3-10.5-1.6-10.1-2.8-9.5-4-8.6-5.1-7.6-6.2-6.5-6.9-5.1-7.8-3.7-8.2-2.1-8.7-.6-9 1.1-9 2.7-8.8 4.3-8.6 5.7-8 7.2-7.5 8.5-6.6 9.6-5.7 10.6-4.7 11.3-3.5 11.8-2.3 12.2-1.1 12.3 .3 12.1 1.5 11.8 2.8 11.2 4 10.5 5.1 9.4 6.1 8.3 7.1 7 7.8 5.6 8.5 4 8.9 2.5 9.2 .8 9.4-.8 9.2-2.3 9-3.9 8.5-5.4 8-6.7 7.2-7.8 6.3-8.8 5.3-9.7 4.2-10.2 3-10.6 1.8-10.8 .4-10.7-.7-10.4-2.1-9.8-3.2-9.2-4.4-8.2-5.4-7-6.4-5.9-7.1-4.4-7.8-2.9-8.3-1.4-8.6 .3-8.7 1.9-8.7 3.4-8.4 5-8.1 6.5-7.4 7.8-6.8 9-5.8 10-4.9 10.8-3.8 11.5-2.6 11.9-1.3 12.1-.1 12.1 1.3 11.8 2.5 11.3 3.7 10.7 4.9 9.7 6 8.6 6.9 7.4 7.8 6 8.4 4.5 9 3 9.3 1.3 9.6-.3 9.5-1.9 9.3-3.5 9-4.9 8.5-6.4 7.8-7.5 6.9-8.7 6-9.5 4.9-10.2 3.7-10.7 2.5-11 1.3-11 0-10.8-1.3-10.3-2.5-9.7-3.7-8.9-4.8-7.8-5.8-6.6-6.6-5.3-7.3-3.9-7.9-2.3-8.3-.7-8.5 1-8.5 2.5-8.4 4.1-8 5.6-7.6 6.9-6.8 8.2-6.1 9.4-5.1 10.2-4.1 11-2.9 11.4-1.7 11.8-.5 11.8 .9 11.7 2.1 11.3 3.4 10.6 4.5 9.8 5.7 8.9 6.7 7.6 7.6 6.3 8.3 4.9 9 3.3 9.3 1.7 9.6 .1 9.7-1.5 9.6-3.1 9.3-4.7 8.9-6 8.2-7.4 7.4-8.5 6.6-9.5 5.5-10.3 4.3-10.9 3.2-11.2 1.9-11.3 .7-11.2-.7-10.9-1.8-10.4-3.1-9.5-4.3-8.7-5.2-7.5-6.2-6.2-6.9-4.8-7.6-3.3-8-1.7-8.4-.1-8.4 1.5-8.4 3.1-8.1 4.6-7.7 6-7.1 7.4-6.4 8.5-5.4 9.5-4.5 10.4-3.4 10.9-2.1 11.3-1 11.5 .4 11.4 1.6 11.1 2.9 10.6 4.1 9.8 5.3 9 6.3 7.8 7.3 6.5 8 5.2 8.8 3.6 9.2 2.1 9.6 .4 9.7-1.2 9.7-2.8 9.4-4.4 9.1-5.8 8.5-7.2 7.8-8.4 7-9.4 5.9-10.4 4.9-11 3.7-11.4 2.5-11.7 1.2-11.6-.1-11.4-1.4-11-2.6-10.3-3.7-9.4-4.9-8.4-5.8-7.1-6.6-5.8-7.4-4.3-7.9-2.8-8.2-1.1-8.5 .4-8.5 2.1-8.2 3.6-8 5.1-7.4 6.4-6.8 7.7-5.9 8.8-5 9.7-3.9 10.3-2.7 10.8-1.5 11.1-.3 11.1 1 11 2.3 10.4 3.5 9.9 4.7 9 5.8 8 6.8 6.7 7.7 5.4 8.4 4 8.9 2.4 9.4 .8 9.5-.8 9.6-2.5 9.5-4 9.2-5.6 8.7-6.9 8-8.2 7.2-9.4 6.3-10.3 5.2-11.1 4.1-11.6 2.9-11.9 1.6-12 .4-11.9-1-11.5-2.2-10.9-3.4-10.1-4.5-9.2-5.6-7.9-6.4-6.7-7.2-5.3-7.9-3.7-8.2-2.2-8.6-.5-8.6 1-8.6 2.7-8.2 4.2-7.9 5.6-7.2 6.8-6.4 8.1-5.6 9-4.5 9.8-3.5 10.4-2.2 10.7-1 10.8 .3 10.8 1.6 10.4 2.8 9.9 4 9.1 5.2 8.2 6.2 7 7.1 5.8 7.9 4.3 8.5 2.8 9 1.3 9.3-.4 9.4-2 9.4-3.6 9.1-5.2 8.7-6.6 8.1-7.9 7.4-9.2 6.5-10.1 5.5-11 4.3-11.6 3.2-12.1 2-12.2 .6-12.2-.6-11.9-1.9-11.4-3.1-10.7-4.3-9.8-5.4-8.7-6.3-7.4-7.1-6.1-7.8-4.6-8.4-3.1-8.7-1.4-8.8 .2-8.9 1.8-8.6 3.3-8.3 4.9-7.8 6.1-7 7.4-6.2 8.5-5.3 9.3-4.1 10-3 10.4-1.8 10.7-.5 10.7 .7 10.4 2.1 10 3.2 9.3 4.4 8.5 5.5 7.4 6.5 6.2 7.3 4.8 8 3.4 8.6 1.8 8.9 .2 9.1-1.5 9.2-3 8.9-4.6 8.7-6.1 8.1-7.5 7.4-8.7 6.6-9.9 5.7-10.7 4.6-11.5 3.4-11.9 2.2-12.3 1-12.3-.4-12.1-1.6-11.7-2.9-11.1-4.1-10.3-5.2-9.3-6.2-8-7.1-6.8-7.8-5.3-8.4-3.7-8.8-2.2-9.1-.5-9.2 1-9 2.7-8.8 4.2-8.2 5.6-7.7 6.8-6.9 8-5.9 9-4.9 9.7-3.8 10.3-2.6 10.6-1.4 10.7 0 10.5 1.2 10.3 2.4 9.6 3.7 8.9 4.7 7.9 5.8 6.7 6.7 5.5 7.5 4 8 2.5 8.5 .9 8.8-.7 8.9-2.3 8.8-3.9 8.5-5.4 8-6.8 7.5-8.2 6.7-9.3 5.8-10.3 4.8-11.1 3.7-11.8 2.4-12 1.2-12.3 0-12.1-1.4-11.8-2.6-11.3-3.9-10.6-5-9.6-6-8.5-7-7.2-7.8-5.9-8.5-4.3-8.9-2.7-9.3-1.1-9.4 .5-9.4 2.1-9.1 3.6-8.8 5.2-8.2 6.4-7.5 7.7-6.6 8.7-5.7 9.6-4.5 10.2-3.4 10.6-2.1 10.8-.9 10.9 .4 10.5 1.7 10.1 2.9 9.4 4 8.5 5.1 7.4 6.1 6.2 6.9 4.9 7.6 3.3 8 1.8 8.5 .2 8.6-1.4 8.6-3 8.4-4.6 8.1-6.1 7.5-7.4 6.8-8.6 6-9.7 5-10.6 3.9-11.3 2.8-11.7 1.5-12 .2-12-1-11.7-2.3-11.4-3.6-10.6-4.7-9.8-5.8-8.8-6.8-7.6-7.7-6.2-8.4-4.7-9-3.2-9.3-1.5-9.6 0-9.6 1.7-9.5 3.3-9.2 4.8-8.6 6.1-8 7.5-7.2 8.5-6.3 9.5-5.2 10.2-4.1 10.8-2.8 11-1.6 11.2-.3 10.9 .9 10.6 2.2 10 3.4 9.2 4.5 8.2 5.5 7.1 6.4 5.7 7.1 4.3 7.8 2.8 8.1 1.2 8.4-.5 8.5-2 8.4-3.6 8-5.2 7.7-6.5 6.9-7.8 6.3-9 5.3-9.9 4.2-10.7 3.2-11.2 1.9-11.6 .7-11.7-.7-11.5-1.8-11.2-3.2-10.7-4.3-9.9-5.5-8.9-6.5-7.7-7.5-6.5-8.2-5-8.8-3.6-9.4-1.9-9.6-.3-9.7 1.4-9.6 2.9-9.4 4.5-9 5.9-8.4 7.2-7.6 8.5-6.8 9.4-5.8 10.3-4.6 10.9-3.5 11.3-2.2 11.5-.9 11.4 .3 11.1 1.6 10.7 2.9 9.9 3.9 9 5.1 7.9 6 6.7 6.7 5.2 7.5 3.8 7.9 2.2 8.3 .7 8.5-1 8.4-2.6 8.2-4.1 7.8-5.6 7.2-7 6.6-8.1 5.6-9.2 4.7-10 3.7-10.6 2.4-11.2 1.2-11.3-.1-11.2-1.3-11.1-2.6-10.5-3.8-9.9-5.1-9-6-7.9-7.1-6.7-7.9-5.3-8.5-3.8-9.2-2.3-9.4-.6-9.7 1-9.7 2.6-9.5 4.2-9.1 5.6-8.6 7.1-8 8.3-7.1 9.4-6.2 10.3-5 11-4 11.5-2.7 11.8-1.4 11.8-.1 11.6 1.1 11.3 2.4 10.6 3.5 9.7 4.7 8.8 5.7 7.5 6.5 6.3 7.3 4.7 7.8 3.3 8.2 1.6 8.5 .1 8.5-1.6 8.4-3.1 8.1-4.7 7.6-6 7-7.3 6.2-8.4 5.2-9.4 4.2-10.1 3.1-10.6 1.8-10.9 .6-11-.6-10.8-2-10.5-3.2-9.9-4.4-9.1-5.5-8-6.5-6.9-7.4-5.6-8.2-4.2-8.7-2.6-9.2-1-9.5 .6-9.5 2.2-9.5 3.8-9.2 5.3-8.7 6.8-8.1 8.1-7.3 9.2-6.4 10.3-5.4 11-4.3 11.6-3 12-1.9 12.1-.5 12 .8 11.7 2 11.2 3.3 10.4 4.3 9.5 5.5 8.4 6.3 7.1 7.2 5.6 7.8 4.2 8.3 2.6 8.6 1 8.7-.6 8.6-2.2 8.5-3.8 8-5.2 7.5-6.5 6.7-7.7 5.9-8.8 4.9-9.5 3.7-10.2 2.6-10.6 1.4-10.7 .1-10.8-1.2-10.4-2.5-9.9-3.6-9.2-4.8-8.4-5.9-7.2-6.8-5.9-7.6-4.6-8.3-3.1-8.8-1.5-9.2 .1-9.3 1.7-9.3 3.3-9 4.9-8.7 6.4-8.2 7.7-7.4 9-6.6 10-5.6 10.9-4.5 11.5-3.3 12-2.1 12.3-.9 12.2 .5 12.1 1.8 11.6 2.9 10.9 4.2 10 5.2 9 6.3 7.8 7.1 6.5 7.8 4.9 8.3 3.5 8.8 1.8 8.9 .2 9-1.5 8.8-2.9 8.5-4.5 8-5.9 7.4-7.1 6.5-8.2 5.6-9.1 4.5-9.9 3.4-10.3 2.1-10.6 1-10.7-.4-10.5-1.7-10.1-2.8-9.5-4.1-8.6-5.1-7.6-6.2-6.5-7-5.1-7.7-3.7-8.4-2.1-8.7-.6-9 1.1-9 2.7-8.9 4.3-8.6 5.7-8.1 7.2-7.5 8.5-6.7 9.6-5.7 10.6-4.7 11.3-3.6 11.9-2.4 12.1-1.1 12.3 .2 12.2 1.5 11.8 2.8 11.2 3.9 10.5 5.1 9.5 6.1 8.3 7 7 7.8 5.6 8.4 4.1 8.9 2.4 9.2 .9 9.3-.8 9.2-2.3 8.9-3.9 8.5-5.3 7.9-6.7 7.2-7.8 6.3-8.8 5.3-9.6 4.1-10.2 3-10.6 1.7-10.8 .5-10.6-.8-10.4-2.1-9.9-3.3-9.1-4.4-8.1-5.4-7.1-6.4-5.8-7.2-4.4-7.8-2.9-8.4-1.3-8.6 .2-8.7 1.9-8.7 3.5-8.5 5-8.1 6.5-7.5 7.8-6.8 9.1-5.9 10-4.9 10.9-3.8 11.5-2.6 11.9-1.4 12.2-.1 12.1 1.2 11.8 2.5 11.4 3.7 10.6 4.8 9.8 6 8.6 6.9 7.5 7.7 6 8.4 4.6 9 3 9.3 1.3 9.5-.2 9.5-1.9 9.3-3.4 9-4.9 8.4-6.3 7.7-7.5 7-8.6 5.9-9.5 4.9-10.2 3.7-10.7 2.5-10.9 1.3-10.9-.1-10.8-1.3-10.3-2.5-9.7-3.8-8.8-4.8-7.8-5.8-6.6-6.6-5.2-7.3-3.8-8-2.3-8.3-.6-8.5 .9-8.5 2.6-8.4 4.1-8.1 5.6-7.5 7-6.9 8.3-6.1 9.4-5.2 10.2-4.1 11.1-2.9 11.5-1.8 11.8-.4 11.9 .8 11.7 2.1 11.3 3.4 10.7 4.5 9.8 5.7 8.9 6.6 7.7 7.6 6.4 8.3 4.9 8.9 3.4 9.4 1.8 9.6 .1 9.7-1.5 9.5-3 9.3-4.6 8.9-6 8.2-7.4 7.4-8.4 6.5-9.5 5.5-10.2 4.4-10.8 3.2-11.2 1.9-11.2 .6-11.2-.6-10.9-1.9-10.2-3.1-9.6-4.2-8.6-5.3-7.4-6.2-6.2-6.9-4.7-7.6-3.3-8-1.7-8.4 0-8.4 1.5-8.4 3.1-8.1 4.7-7.7 6.1-7.1 7.4-6.4 8.5-5.5 9.6-4.5 10.4-3.3 11-2.2 11.4-.9 11.5 .3 11.4 1.7 11.2 2.8 10.6 4.2 9.9 5.2 9 6.3 7.9 7.3 6.6 8.1 5.2 8.7 3.7 9.2 2.1 9.6 .5 9.7-1.1 9.7-2.8 9.5-4.3 9-5.8 8.6-7.1 7.8-8.3 6.9-9.4 6-10.3 4.9-11 3.7-11.3 2.5-11.7 1.2-11.6-.1-11.3-1.3-10.9-2.6-10.3-3.8-9.4-4.8-8.3-5.8-7.1-6.6-5.7-7.4-4.3-7.8-2.7-8.3-1.1-8.4 .5-8.5 2.1-8.2 3.6-8 5.2-7.4 6.5-6.7 7.7-5.9 8.8-5 9.7-3.9 10.4-2.7 10.9-1.5 11.1-.3 11.2 1 10.9 2.3 10.6 3.6 9.9 4.7 9 5.8 8 6.8 6.8 7.7 5.5 8.4 4 9 2.5 9.3 .8 9.6-.7 9.7-2.4 9.5-4 9.1-5.5 8.7-6.9 8.1-8.2 7.2-9.3 6.4-10.3 5.2-11 4.1-11.6 3-11.8 1.6-12 .4-11.8-1-11.5-2.1-10.9-3.4-10.1-4.5-9.1-5.5-7.9-6.5-6.7-7.1-5.2-7.8-3.7-8.3-2.2-8.5-.5-8.6 1.1-8.5 2.7-8.3 4.2-7.8 5.6-7.2 7-6.4 8-5.5 9.1-4.5 9.8-3.4 10.4-2.2 10.8-1 10.8 .3 10.8 1.6 10.5 2.9 9.9 4 9.2 5.2 8.2 6.2 7 7.1 5.8 8 4.4 8.5 2.8 9.1 1.3 9.3-.3 9.4-2 9.4-3.6 9.2-5.1 8.7-6.6 8.2-7.9 7.4-9.1 6.5-10.1 5.5-11 4.5-11.6 3.2-12 2-12.2 .7-12.1-.6-11.9-1.9-11.4-3.1-10.7-4.2-9.8-5.3-8.7-6.3-7.4-7.1-6.1-7.8-4.6-8.3-3-8.6-1.4-8.8 .2-8.8 1.8-8.7 3.4-8.2 4.8-7.7 6.2-7 7.4-6.2 8.5-5.2 9.3-4.1 10-3 10.4-1.8 10.7-.4 10.7 .8 10.5 2 10 3.3 9.3 4.5 8.5 5.5 7.4 6.5 6.2 7.4 4.8 8 3.4 8.6 1.8 9 .2 9.1-1.4 9.2-3 9-4.6 8.7-6.1 8.1-7.5 7.5-8.7 6.7-9.8 5.7-10.7 4.6-11.5 3.5-12 2.3-12.2 .9-12.3-.3-12.1-1.6-11.8-2.8-11.1-4-10.2-5.2-9.3-6.1-8.1-7.1-6.7-7.8-5.3-8.3-3.8-8.8-2.2-9.1-.5-9.1 1-9 2.7-8.7 4.2-8.2 5.5-7.6 6.9-6.9 8-5.9 8.9-4.9 9.7-3.7 10.3-2.6 10.6-1.3 10.7 0 10.5 1.2 10.2 2.5 9.7 3.7 8.8 4.8 7.9 5.8 6.8 6.7 5.4 7.5 4 8.1 2.5 8.5 .9 8.9-.7 8.9-2.3 8.8-3.9 8.5-5.4 8.2-6.9 7.5-8.1 6.7-9.4 5.9-10.3 4.8-11.1 3.7-11.8 2.5-12.1 1.2-12.2 0-12.2-1.3-11.8-2.6-11.4-3.8-10.6-5-9.6-6-8.5-6.9-7.3-7.8-5.8-8.4-4.4-8.9-2.7-9.3-1.2-9.3 .5-9.4 2.1-9.1 3.6-8.7 5.1-8.2 6.4-7.5 7.7-6.5 8.6-5.7 9.6-4.5 10.1-3.3 10.6-2.1 10.8-.9 10.8 .5 10.6 1.7 10 2.9 9.4 4 8.4 5.2 7.4 6.1 6.2 6.9 4.8 7.6 3.3 8.1 1.8 8.5 .2 8.6-1.5 8.7-3 8.4-4.6 8.1-6.1 7.5-7.5 6.9-8.6 6-9.8 5-10.6 4-11.3 2.8-11.8 1.5-12 .3-12-1-11.8-2.3-11.4-3.5-10.7-4.7-9.8-5.8-8.9-6.8-7.5-7.6-6.3-8.4-4.8-9-3.2-9.3-1.6-9.5 0-9.6 1.6-9.5 3.3-9.1 4.7-8.7 6.1-7.9 7.4-7.2 8.5-6.3 9.4-5.2 10.2-4 10.7-2.9 11-1.5 11.1-.3 10.9 .9 10.6 2.2 10 3.4 9.1 4.5 8.2 5.6 7 6.4 5.6 7.1 4.3 7.8 2.7 8.1 1.2 8.4-.5 8.5-2.1 8.4-3.6 8.1-5.2 7.6-6.6 7.1-7.8 6.2-9 5.3-10 4.3-10.7 3.1-11.3 2-11.6 .7-11.8-.6-11.6-1.9-11.3-3.1-10.7-4.4-9.9-5.4-9-6.5-7.8-7.5-6.5-8.2-5.1-8.8-3.6-9.3-1.9-9.6-.4-9.7 1.3-9.7 2.9-9.4 4.4-9 5.8-8.3 7.2-7.7 8.4-6.7 9.4-5.8 10.2-4.6 10.9-3.5 11.2-2.2 11.5-1 11.3 .4 11.1 1.6 10.6 2.8 9.9 4 8.9 5 7.9 6 6.6 6.8 5.2 7.4 3.8 8 2.2 8.2 .5 8.5-1 8.4-2.6 8.2-4.2 7.8-5.7 7.2-6.9 6.6-8.2 5.6-9.2 4.7-10.1 3.7-10.7 2.4-11.2 1.2-11.3-.1-11.4-1.3-11-2.6-10.7-3.9-9.9-5-9-6.1-8-7-6.7-7.9-5.4-8.6-3.9-9.1-2.3-9.5-.7-9.7 1-9.7 2.5-9.5 4.1-9.1 5.7-8.7 7-7.9 8.2-7.2 9.4-6.1 10.2-5.1 11-4 11.4-2.7 11.8-1.4 11.7-.2 11.6 1.1 11.2 2.4 10.6 3.5 9.7 4.6 8.7 5.7 7.5 6.5 6.2 7.2 4.7 7.9 3.2 8.2 1.6 8.4 0 8.5-1.6 8.4-3.1 8.1-4.7 7.6-6.1 6.9-7.3 6.2-8.5 5.2-9.4 4.2-10.1 3-10.7 1.9-10.9 .5-11.1-.6-10.8-2-10.6-3.2-9.9-4.4-9.1-5.6-8.1-6.5-7-7.4-5.6-8.2-4.2-8.8-2.7-9.2-1-9.5 .5-9.6 2.2-9.5 3.8-9.2 5.3-8.7 6.7-8.2 8-7.3 9.2-6.5 10.2-5.4 11-4.3 11.6-3.1 11.9-1.8 12.1-.6 12 .7 11.7 2 11.1 3.2 10.4 4.4 9.5 5.4 8.3 6.3 7.1 7.1 5.6 7.8 4.2 8.2 2.5 8.6 1 8.7-.6 8.6-2.3 8.4-3.8 8-5.2 7.5-6.5 6.7-7.8 5.8-8.7 4.8-9.6 3.8-10.2 2.5-10.6 1.4-10.8 0-10.7-1.2-10.5-2.5-10-3.7-9.2-4.8-8.3-5.9-7.3-6.8-6-7.7-4.6-8.3-3.1-8.9-1.5-9.2 0-9.3 1.7-9.3 3.4-9.1 4.8-8.7 6.4-8.2 7.7-7.5 8.9-6.6 10-5.7 10.8-4.5 11.6-3.4 12-2.2 12.2-.8 12.3 .4 12 1.7 11.6 2.9 10.9 4.2 10 5.2 9 6.2 7.8 7 6.4 7.8 5 8.3 3.4 8.7 1.8 8.9 .2 8.9-1.4 8.8-3 8.5-4.5 7.9-5.9 7.3-7.1 6.5-8.2 5.6-9.1 4.5-9.9 3.3-10.3 2.1-10.6 .9-10.7-.4-10.5-1.7-10.1-2.9-9.5-4.1-8.6-5.1-7.7-6.2-6.4-7.1-5.1-7.8-3.7-8.3-2.2-8.8-.5-9 1.1-9.1 2.7-8.9 4.2-8.7 5.8-8.1 7.2-7.6 8.5-6.7 9.6-5.8 10.5-4.7 11.4-3.6 11.8-2.4 12.2-1.2 12.3 .2 12.2 1.4 11.8 2.7 11.3 3.9 10.4 5 9.5 6.1 8.3 7 7.1 7.7 5.6 8.4 4.1 8.9 2.5 9.1 .8 9.2-.7 9.2-2.3 8.9-3.9 8.5-5.3 7.9-6.6 7.1-7.8 6.2-8.8 5.3-9.6 4.1-10.2 2.9-10.6 1.7-10.7 .5-10.6-.9-10.4-2.1-9.8-3.3-9.1-4.4-8.2-5.5-7-6.5-5.8-7.2-4.4-7.8-2.9-8.4-1.3-8.6 .3-8.8 1.9-8.8 3.5-8.5 5.1-8.1 6.5-7.5 7.8-6.8 9.1-6 10-4.9 10.9-3.9 11.6-2.6 11.9-1.5 12.2-.1 12.1 1.2 11.9 2.4 11.4 3.6 10.7 4.9 9.8 5.9 8.7 6.8 7.4 7.7 6.1 8.4 4.6 8.9 3 9.3 1.5 9.5-.3 9.5-1.8 9.2-3.4 9-4.8 8.4-6.3 7.7-7.5 6.9-8.5 5.9-9.5 4.9-10.1 3.7-10.7 2.5-10.8 1.2-11-.1-10.7-1.3-10.2-2.6-9.7-3.7-8.8-4.9-7.7-5.8-6.6-6.6-5.2-7.4-3.7-7.9-2.3-8.4-.6-8.5 1-8.6 2.6-8.4 4.2-8.1 5.6-7.6 7.1-6.9 8.3-6.1 9.4-5.2 10.3-4.1 11-3 11.6-1.7 11.9-.5 11.9 .8 11.7 2 11.4 3.4 10.7 4.5 10 5.6 8.9 6.7 7.7 7.5 6.4 8.3 5 8.9 3.4 9.4 1.9 9.5 .2 9.7-1.4 9.6-3.1 9.2-4.5 8.9-6 8.2-7.2 7.4-8.4 6.5-9.4 5.5-10.2 4.3-10.8 3.2-11.1 1.9-11.2 .6-11.1-.6-10.8-1.9-10.3-3.1-9.4-4.2-8.6-5.3-7.4-6.2-6.1-6.9-4.7-7.6-3.2-8.1-1.7-8.3 0-8.5 1.6-8.4 3.2-8.1 4.7-7.7 6.1-7.1 7.5-6.4 8.6-5.5 9.6-4.5 10.4-3.3 11.1-2.2 11.4-1 11.6 .4 11.5 1.6 11.2 2.9 10.7 4.1 9.9 5.2 9.1 6.4 7.9 7.2 6.6 8.1 5.3 8.7 3.7 9.2 2.2 9.6 .6 9.7-1.1 9.7-2.7 9.5-4.2 9.1-5.7 8.5-7.1 7.8-8.3 7-9.4 6-10.2 4.9-10.9 3.7-11.3 2.5-11.6 1.2-11.5-.1-11.4-1.3-10.8-2.6-10.2-3.7-9.3-4.8-8.3-5.8-7-6.7-5.7-7.3-4.3-7.9-2.6-8.2-1.1-8.4 .5-8.5 2.2-8.2 3.7-7.9 5.1-7.5 6.6-6.7 7.8-5.9 8.8-4.9 9.8-3.9 10.4-2.7 10.9-1.5 11.2-.3 11.2 1.1 11 2.3 10.6 3.5 10 4.8 9.1 5.8 8 6.8 6.9 7.7 5.5 8.4 4.1 9 2.5 9.4 .9 9.6-.7 9.6-2.4 9.5-3.9 9.3-5.5 8.7-6.8 8-8.2 7.3-9.2 6.4-10.2 5.3-11 4.1-11.5 2.9-11.9 1.7-11.9 .4-11.8-.9-11.4-2.1-10.8-3.4-10.1-4.5-9.1-5.5-7.9-6.4-6.6-7.1-5.2-7.8-3.7-8.2-2.1-8.5-.4-8.6 1.1-8.4 2.7-8.3 4.2-7.7 5.7-7.2 7-6.4 8.1-5.5 9-4.5 9.9-3.4 10.4-2.2 10.8-.9 10.9 .3 10.9 1.7 10.5 2.8 9.9 4.1 9.2 5.2 8.2 6.3 7.1 7.1 5.9 8 4.4 8.6 2.9 9 1.3 9.4-.3 9.5-2 9.4-3.5 9.2-5.1 8.7-6.5 8.2-7.9 7.5-9.1 6.5-10.1 5.6-10.9 4.5-11.6 3.2-11.9 2.1-12.2 .7-12.1-.5-11.9-1.9-11.4-3-10.6-4.2-9.8-5.3-8.7-6.2-7.4-7.1-6-7.7-4.6-8.3-3-8.6-1.4-8.8 .2-8.7 1.8-8.6 3.4-8.2 4.9-7.7 6.2-7 7.4-6.1 8.4-5.2 9.4-4.1 10-2.9 10.5-1.7 10.7-.5 10.7 .8 10.5 2.1 10 3.4 9.3 4.5 8.5 5.5 7.5 6.6 6.2 7.3 4.8 8.1 3.4 8.7 1.8 9 .3 9.2-1.4 9.2-3 9-4.6 8.7-6.1 8.2-7.4 7.6-8.8 6.7-9.8 5.7-10.7 4.7-11.5 3.5-11.9 2.3-12.3 1-12.3-.2-12.1-1.6-11.7-2.8-11.1-3.9-10.3-5.1-9.2-6.2-8.1-7-6.8-7.7-5.3-8.3-3.8-8.8-2.1-9-.6-9.1 1.1-8.9 2.6-8.7 4.2-8.2 5.5-7.6 6.9-6.8 8-5.8 8.9-4.9 9.7-3.7 10.2-2.5 10.6-1.3 10.7 0 10.6 1.3 10.2 2.5 9.6 3.7 8.9 4.9 7.8 5.8 6.8 6.8 5.4 7.5 4 8.1 2.5 8.6 .9 8.9-.7 8.9-2.3 8.9-3.9 8.6-5.4 8.1-6.9 7.6-8.2 6.8-9.4 5.9-10.3 4.8-11.1 3.8-11.8 2.5-12.1 1.3-12.3 0-12.1-1.3-11.9-2.5-11.4-3.8-10.6-4.9-9.6-6-8.6-6.9-7.3-7.7-5.9-8.4-4.3-8.8-2.8-9.2-1.2-9.4 .4-9.3 2.1-9.1 3.6-8.7 5.1-8.1 6.4-7.4 7.6-6.6 8.6-5.6 9.5-4.5 10.2-3.3 10.5-2.1 10.8-.8 10.8 .5 10.5 1.7 10 3 9.3 4.1 8.5 5.1 7.4 6.2 6.1 6.9 4.8 7.6 3.3 8.2 1.7 8.5 .2 8.7-1.5 8.6-3.1 8.5-4.6 8.1-6.2 7.6-7.4 6.9-8.7 6-9.8 5.1-10.7 4-11.3 2.8-11.8 1.6-12 .3-12.1-1-11.8-2.2-11.5-3.5-10.7-4.7-9.9-5.7-8.8-6.8-7.7-7.6-6.3-8.4-4.8-8.9-3.3-9.3-1.6-9.5-.1-9.6 1.6-9.4 3.2-9.1 4.7-8.6 6-8 7.4-7.2 8.4-6.2 9.4-5.2 10.2-4 10.6-2.8 11-1.6 11-.3 10.9 1 10.5 2.2 10 3.4 9.1 4.6 8.1 5.5 6.9 6.4 5.7 7.2 4.2 7.8 2.7 8.1 1.1 8.5-.5 8.5-2.1 8.4-3.7 8.1-5.3 7.6-6.6 7.1-7.9 6.2-9 5.4-10 4.3-10.8 3.1-11.3 2-11.7 .7-11.8-.6-11.7-1.8-11.3-3.2-10.7-4.3-10-5.4-9-6.5-7.9-7.4-6.6-8.2-5.1-8.8-3.6-9.3-2.1-9.6-.4-9.7 1.2-9.7 2.8-9.4 4.4-8.9 5.8-8.4 7.2-7.7 8.3-6.7 9.3-5.8 10.2-4.6 10.8-3.5 11.2-2.2 11.4-.9 11.3 .3 11 1.6 10.6 2.9 9.8 3.9 8.9 5.1 7.8 5.9 6.6 6.8 5.2 7.4 3.6 8 2.2 8.3 .5 8.4-1.1 8.4-2.7 8.2-4.2 7.8-5.7 7.3-7 6.5-8.2 5.7-9.3 4.7-10.1 3.6-10.7 2.4-11.2 1.2-11.5 0-11.3-1.4-11.2-2.6-10.7-3.8-9.9-5-9.1-6.1-8.1-7.1-6.7-7.9-5.5-8.6-3.9-9.1-2.4-9.5-.7-9.7 .9-9.7 2.5-9.5 4-9.2 5.6-8.6 6.9-8 8.2-7.1 9.3-6.2 10.2-5.1 10.9-4 11.5-2.7 11.6-1.5 11.8-.2 11.5 1.1 11.1 2.3 10.6 3.6 9.6 4.6 8.7 5.6 7.5 6.5 6.1 7.2 4.7 7.8 3.2 8.2 1.5 8.5 0 8.5-1.7 8.3-3.2 8.1-4.7 7.5-6.1 7-7.4 6.1-8.5 5.2-9.4 4.2-10.2 3-10.7 1.8-11 .6-11.1-.7-10.9-2-10.6-3.2-9.9-4.5-9.2-5.5-8.1-6.6-7-7.4-5.7-8.2-4.3-8.8-2.7-9.3-1.1-9.5 .5-9.6 2.1-9.5 3.8-9.2 5.2-8.8 6.7-8.2 8-7.3 9.2-6.5 10.1-5.5 11-4.3 11.5-3.1 11.9-1.9 12.1-.6 11.9 .7 11.7 1.9 11.1 3.2 10.3 4.3 9.4 5.4 8.3 6.3 7.1 7.1 5.6 7.7 4.1 8.2 2.6 8.5 .9 8.7-.7 8.6-2.2 8.4-3.8 8-5.3 7.4-6.6 6.6-7.7 5.8-8.8 4.8-9.6 3.8-10.2 2.5-10.7 1.3-10.8 0-10.8-1.2-10.4-2.5-10-3.8-9.3-4.8-8.4-6-7.2-6.8-6.1-7.7-4.6-8.4-3.1-8.9-1.6-9.2 0-9.4 1.7-9.3 3.3-9.2 4.8-8.7 6.3-8.3 7.7-7.5 8.9-6.6 10-5.7 10.8-4.6 11.5-3.4 12-2.2 12.2-.9 12.3 .3 12 1.7 11.5 2.9 10.9 4.1 10.1 5.1 9 6.2 7.7 7 6.4 7.7 5 8.3 3.4 8.6 1.8 8.9 .2 8.9-1.4 8.8-3 8.4-4.5 7.9-5.9 7.3-7.1 6.4-8.2 5.5-9.1 4.5-9.9 3.3-10.3 2.1-10.7 .8-10.7-.4-10.5-1.7-10.1-3-9.5-4.1-8.6-5.2-7.7-6.2-6.4-7.1-5.2-7.9-3.6-8.4-2.2-8.8-.5-9 1-9.1 2.7-9 4.3-8.7 5.7-8.2 7.2-7.6 8.5-6.7 9.6-5.9 10.6-4.8 11.3-3.6 11.9-2.5 12.2-1.2 12.3 .2 12.2 1.3 11.8 2.7 11.2 3.9 10.5 4.9 9.5 6.1 8.3 6.9 7.1 7.7 5.6 8.4 4.1 8.8 2.5 9 .9 9.2-.7 9.2-2.3 8.8-3.9 8.5-5.3 7.8-6.6 7.1-7.7 6.2-8.8 5.2-9.6 4.1-10.2 2.9-10.5 1.7-10.7 .4-10.7-.9-10.3-2.1-9.8-3.4-9.1-4.5-8.1-5.5-7.1-6.4-5.7-7.3-4.4-7.9-2.9-8.4-1.3-8.7 .3-8.8 2-8.8 3.5-8.5 5.1-8.2 6.5-7.6 7.8-6.8 9.1-6 10.1-5 10.9-3.9 11.6-2.7 12-1.4 12.2-.2 12.1 1.1 11.9 2.4 11.4 3.6 10.8 4.8 9.8 5.9 8.7 6.8 7.5 7.7 6.1 8.3 4.7 8.9 3 9.3 1.5 9.4-.2 9.4-1.8 9.3-3.3 8.9-4.9 8.4-6.2 7.7-7.4 6.8-8.6 5.9-9.4 4.8-10.1 3.7-10.6 2.5-10.8 1.2-10.9-.1-10.7-1.4-10.2-2.6-9.6-3.7-8.8-4.9-7.7-5.8-6.5-6.7-5.2-7.4-3.7-8-2.2-8.3-.6-8.6 1-8.6 2.7-8.4 4.2-8.1 5.7-7.7 7-6.9 8.4-6.2 9.4-5.2 10.4-4.1 11.1-3 11.6-1.8 11.9-.5 11.9 .8 11.8 2 11.4 3.3 10.8 4.5 10 5.6 9 6.7 7.8 7.5 6.4 8.3 5 8.8 3.5 9.3 1.9 9.6 .3 9.6-1.4 9.6-3 9.2-4.4 8.9-6 8.1-7.2 7.4-8.3 6.5-9.4 5.5-10.1 4.4-10.7 3.1-11.1 1.9-11.1 .6-11.1-.6-10.8-1.9-10.2-3.1-9.4-4.3-8.5-5.2-7.4-6.2-6-7-4.7-7.6-3.2-8.1-1.6-8.3 0-8.5 1.7-8.4 3.2-8.1 4.7-7.7 6.2-7.2 7.5-6.4 8.7-5.5 9.6-4.4 10.5-3.4 11.1-2.2 11.5-1 11.6 .4 11.6 1.6 11.2 2.8 10.8 4.1 10 5.3 9.1 6.3 8 7.2 6.7 8.1 5.3 8.7 3.8 9.2 2.2 9.6 .6 9.7-1 9.7-2.6 9.5-4.2 9.1-5.7 8.5-7 7.8-8.2 7-9.3 6-10.2 4.9-10.8 3.7-11.3 2.5-11.5 1.2-11.5 0-11.3-1.4-10.8-2.5-10.2-3.7-9.2-4.9-8.2-5.7-7-6.7-5.7-7.3-4.2-7.8-2.6-8.3-1-8.4 .5-8.4 2.2-8.3 3.8-7.9 5.2-7.4 6.6-6.7 7.8-5.9 8.9-4.9 9.8-3.9 10.5-2.7 11-1.5 11.2-.3 11.3 1.1 11 2.3 10.7 3.6 10 4.7 9.1 5.8 8.1 6.9 6.9 7.7 5.6 8.4 4.1 9 2.6 9.4 .9 9.6-.6 9.7-2.3 9.5-3.9 9.3-5.4 8.7-6.8 8.1-8.1 7.3-9.2 6.3-10.2 5.4-10.9 4.1-11.5 3-11.8 1.7-11.8 .4-11.8-.9-11.4-2.1-10.8-3.3-10-4.5-9-5.4-7.9-6.4-6.6-7.1-5.1-7.8-3.7-8.2-2-8.4-.5-8.6 1.2-8.4 2.8-8.2 4.2-7.8 5.7-7.1 7-6.4 8.1-5.5 9.2-4.5 9.9-3.3 10.4-2.2 10.9-.9 10.9 .4 10.9 1.6 10.5 2.9 10 4.1 9.2 5.2 8.3 6.3 7.1 7.2 5.9 8 4.5 8.6 2.9 9.1 1.3 9.4-.2 9.5-1.9 9.4-3.5 9.3-5.1 8.8-6.5 8.2-7.8 7.5-9 6.6-10.1 5.6-10.9 4.5-11.5 3.3-12 2-12.1 .8-12.1-.5-11.9-1.8-11.3-3-10.6-4.2-9.8-5.2-8.6-6.2-7.4-7-6.1-7.7-4.5-8.2-3-8.6-1.4-8.8 .3-8.7 1.8-8.5 3.4-8.2 4.9-7.7 6.2-6.9 7.4-6.1 8.5-5.1 9.4-4.1 10-2.9 10.5-1.7 10.7-.4 10.7 .9 10.5 2.1 10.1 3.4 9.3 4.5 8.6 5.6 7.4 6.6 6.2 7.4 4.9 8.1 3.4 8.7 1.9 9 .2 9.3-1.3 9.2-3 9.1-4.6 8.8-6.1 8.2-7.4 7.6-8.7 6.7-9.8 5.8-10.7 4.7-11.5 3.6-11.9 2.3-12.2 1.1-12.3-.2-12.1-1.5-11.8-2.8-11.1-3.9-10.2-5.1-9.3-6-8.1-7-6.7-7.7-5.3-8.3-3.8-8.7-2.2-8.9-.6-9.1 1.1-8.9 2.6-8.6 4.2-8.2 5.5-7.5 6.9-6.8 8-5.8 8.9-4.8 9.7-3.7 10.2-2.5 10.6-1.2 10.7 0 10.6 1.3 10.2 2.6 9.6 3.7 8.8 4.9 7.9 5.9 6.8 6.8 5.4 7.5 4 8.2 2.5 8.6 .9 8.9-.7 9-2.3 8.9-4 8.7-5.4 8.1-6.9 7.6-8.2 6.9-9.3 5.9-10.4 4.9-11.1 3.8-11.8 2.6-12.1 1.3-12.3 .1-12.2-1.3-11.9-2.5-11.4-3.7-10.6-4.9-9.7-5.9-8.5-6.9-7.3-7.6-5.9-8.4-4.4-8.8-2.9-9.2-1.2-9.3 .4-9.2 2.1-9.1 3.5-8.6 5.1-8.2 6.4-7.3 7.5-6.6 8.7-5.5 9.4-4.5 10.1-3.3 10.6-2 10.8-.8 10.7 .5 10.5 1.8 10 2.9 9.3 4.2 8.4 5.2 7.4 6.1 6.1 7 4.7 7.7 3.3 8.2 1.7 8.5 .1 8.7-1.5 8.7-3.1 8.5-4.6 8.1-6.2 7.7-7.5 6.9-8.7 6-9.8 5.1-10.7 4.1-11.4 2.8-11.8 1.7-12.1 .3-12.1-.9-11.8-2.2-11.5-3.5-10.8-4.6-9.9-5.8-8.9-6.7-7.7-7.6-6.3-8.3-4.9-8.9-3.3-9.3-1.7-9.5-.1-9.5 1.6-9.4 3.1-9.1 4.6-8.6 6.1-7.9 7.3-7.2 8.4-6.2 9.3-5.1 10.1-4 10.6-2.8 10.9-1.6 11-.3 10.9 1 10.5 2.3 9.8 3.4 9.1 4.6 8.1 5.5 6.9 6.5 5.6 7.1 4.2 7.8 2.6 8.2 1.1 8.5-.6 8.5-2.1 8.4-3.8 8.2-5.2 7.6-6.7 7.1-7.9 6.3-9.1 5.3-10.1 4.3-10.8 3.2-11.3 2-11.8 .7-11.8-.5-11.7-1.9-11.4-3.1-10.8-4.3-10-5.4-9.1-6.5-7.9-7.4-6.6-8.1-5.2-8.9-3.7-9.2-2.1-9.6-.5-9.7 1.2-9.6 2.8-9.4 4.3-9 5.7-8.3 7.1-7.7 8.3-6.7 9.3-5.8 10.1-4.6 10.7-3.5 11.2-2.2 11.3-.9 11.3 .3 11 1.6 10.4 2.9 9.8 3.9 8.9 5.1 7.7 5.9 6.6 6.8 5.1 7.5 3.6 7.9 2.1 8.3 .5 8.4-1.1 8.4-2.7 8.2-4.3 7.8-5.7 7.3-7.1 6.5-8.3 5.7-9.3 4.7-10.1 3.6-10.9 2.5-11.2 1.2-11.5-.1-11.4-1.3-11.2-2.6-10.7-3.9-10.1-5-9.1-6.1-8.1-7-6.8-7.9-5.5-8.6-4-9.1-2.4-9.5-.8-9.7 .8-9.7 2.4-9.6 4-9.2 5.6-8.6 6.8-8 8.2-7.2 9.2-6.2 10.2-5.1 10.8-4 11.4-2.7 11.6-1.5 11.7-.2 11.5 1.1 11.1 2.3 10.4 3.5 9.7 4.6 8.6 5.6 7.4 6.5 6.1 7.2 4.7 7.8 3.1 8.2 1.5 8.4-.1 8.5-1.6 8.3-3.3 8.1-4.8 7.5-6.1 6.9-7.4 6.2-8.6 5.2-9.5 4.1-10.2 3-10.7 1.8-11.1 .6-11.1-.7-11-2-10.6-3.3-10-4.4-9.2-5.6-8.2-6.6-7-7.4-5.8-8.3-4.3-8.8-2.7-9.3-1.2-9.5 .4-9.6 2.1-9.6 3.7-9.2 5.2-8.8 6.7-8.2 7.9-7.4 9.1-6.5 10.1-5.5 11-4.4 11.4-3.1 11.9-1.9 12-.7 11.9 .7 11.7 1.9 11 3.2 10.3 4.2 9.4 5.4 8.3 6.2 7 7.1 5.6 7.7 4.1 8.2 2.5 8.5 .9 8.6-.7 8.6-2.3 8.3-3.8 8-5.3 7.3-6.6 6.7-7.8 5.8-8.8 4.7-9.6 3.7-10.3 2.5-10.7 1.3-10.8 0-10.8-1.3-10.5-2.5-10-3.8-9.3-4.9-8.4-5.9-7.3-6.9-6.1-7.8-4.7-8.4-3.1-8.9-1.6-9.2 0-9.4 1.6-9.4 3.3-9.2 4.8-8.8 6.3-8.3 7.6-7.5 8.9-6.7 9.9-5.7 10.8-4.7 11.5-3.4 12-2.3 12.2-.9 12.2 .3 12 1.6 11.5 2.9 10.9 4 10 5.1 9 6.2 7.8 6.9 6.4 7.7 4.9 8.2 3.4 8.7 1.8 8.8 .2 8.9-1.5 8.7-3 8.3-4.5 7.9-5.8 7.3-7.2 6.4-8.2 5.4-9.1 4.5-9.9 3.2-10.3 2.1-10.7 .8-10.7-.5-10.5-1.7-10.1-3-9.5-4.2-8.7-5.2-7.6-6.3-6.5-7.1-5.1-7.9-3.7-8.4-2.2-8.9-.6-9.1 1.1-9.1 2.7-9 4.2-8.8 5.8-8.2 7.2-7.6 8.4-6.8 9.6-5.9 10.6-4.8 11.3-3.8 11.9-2.4 12.2-1.3 12.3 .1 12.2 1.3 11.8 2.6 11.3 3.9 10.4 4.9 9.6 6 8.3 6.9 7.1 7.6 5.6 8.3 4.1 8.8 2.5 9.1 .9 9.1-.7 9.1-2.3 8.8-3.8 8.4-5.3 7.8-6.6 7.1-7.7 6.2-8.8 5.1-9.5 4.1-10.2 2.9-10.5 1.6-10.7 .3-10.7-.9-10.3-2.2-9.8-3.3-9.1-4.5-8.1-5.6-7-6.5-5.8-7.3-4.3-7.9-2.9-8.4-1.3-8.8 .3-8.8 2-8.9 3.5-8.5 5.1-8.2 6.5-7.6 7.9-6.9 9.1-6.1 10.1-5 10.9-3.9 11.6-2.7 12-1.5 12.3-.3 12.1 1.1 12 2.4 11.4 3.5 10.8 4.8 9.8 5.8 8.8 6.8 7.5 7.6 6.1 8.3 4.7 8.9 3.1 9.2 1.5 9.4-.1 9.4-1.8 9.2-3.3 8.9-4.8 8.3-6.2 7.7-7.4 6.8-8.5 5.9-9.4 4.8-10 3.7-10.6 2.4-10.8 1.1-10.8-.1-10.7-1.4-10.2-2.6-9.6-3.8-8.7-4.8-7.7-5.9-6.5-6.7-5.1-7.4-3.7-8-2.2-8.4-.5-8.6 1-8.6 2.7-8.5 4.2-8.1 5.7-7.7 7.2-7 8.3-6.1 9.5-5.3 10.4-4.2 11.1-3 11.7-1.8 11.9-.5 12 .7 11.8 2 11.5 3.3 10.8 4.5 10.1 5.6 9 6.6 7.8 7.5 6.5 8.2 5.1 8.9 3.5 9.2 2 9.6 .3 9.6-1.4 9.5-2.9 9.3-4.4 8.8-5.9 8.1-7.1 7.4-8.3 6.5-9.3 5.5-10.1 4.3-10.7 3.1-11 1.9-11.1 .6-11-.6-10.7-1.9-10.2-3.2-9.4-4.2-8.4-5.3-7.4-6.2-6-7-4.6-7.6-3.1-8.1-1.6-8.3 .1-8.5 1.6-8.4 3.3-8.2 4.8-7.7 6.2-7.2 7.6-6.4 8.7-5.5 9.7-4.5 10.5-3.4 11.1-2.2 11.6-.9 11.6 .3 11.6 1.6 11.4 2.8 10.8 4.1 10 5.3 9.2 6.2 8 7.3 6.8 8 5.3 8.8 3.9 9.2 2.3 9.5 .7 9.7-1 9.7-2.6 9.5-4.1 9.1-5.6 8.5-7 7.9-8.2 6.9-9.2 6-10.1 4.9-10.8 3.8-11.2 2.5-11.5 1.2-11.4-.1-11.3-1.3-10.7-2.6-10.1-3.7-9.2-4.8-8.2-5.8-7-6.6-5.6-7.3-4.1-7.8-2.6-8.3-1-8.4 .6-8.4 2.3-8.2 3.8-8 5.2-7.4 6.7-6.7 7.8-5.9 9-4.9 9.8-3.9 10.6-2.7 11-1.5 11.3-.2 11.3 1.1 11.1 2.3 10.7 3.5 10 4.8 9.2 5.8 8.2 6.9 7 7.7 5.6 8.4 4.2 9 2.6 9.4 1 9.7-.6 9.7-2.3 9.5-3.8 9.3-5.3 8.7-6.8 8.1-8 7.3-9.2 6.4-10.1 5.4-10.9 4.1-11.4 3-11.7 1.7-11.9 .5-11.7-.9-11.3-2.1-10.8-3.3-9.9-4.4-9-5.4-7.9-6.4-6.5-7.1-5.1-7.7-3.6-8.2-2.1-8.4-.4-8.5 1.3-8.5 2.7-8.2 4.3-7.7 5.8-7.1 7-6.4 8.2-5.4 9.1-4.5 10-3.3 10.5-2.2 10.8-.9 11 .4 10.9 1.7 10.6 2.9 10 4.1 9.3 5.3 8.3 6.3 7.2 7.2 5.9 8 4.5 8.6 3 9.2 1.4 9.4-.2 9.5-1.9 9.5-3.5 9.3-5 8.8-6.4 8.2-7.8 7.6-9 6.6-10 5.6-10.9 4.6-11.5 3.3-11.9 2.1-12.1 .8-12.1-.5-11.8-1.7-11.3-3-10.6-4.1-9.7-5.2-8.7-6.2-7.3-6.9-6.1-7.7-4.5-8.2-2.9-8.5-1.4-8.8 .3-8.7 1.8-8.5 3.4-8.1 4.9-7.6 6.3-6.9 7.4-6.1 8.5-5.1 9.4-4 10.1-2.9 10.5-1.7 10.7-.3 10.8 .9 10.5 2.1 10 3.4 9.4 4.6 8.6 5.6 7.4 6.6 6.3 7.5 4.9 8.1 3.4 8.7 1.9 9.1 .3 9.3-1.4 9.3-2.9 9.1-4.6 8.8-6 8.3-7.4 7.6-8.7 6.8-9.8 5.8-10.7 4.8-11.4 3.6-12 2.4-12.2 1.1-12.3-.2-12.1-1.4-11.7-2.7-11.1-3.9-10.2-5-9.3-6.1-8.1-6.9-6.7-7.6-5.3-8.3-3.8-8.6-2.2-9-.5-9 1-8.8 2.6-8.6 4.2-8.2 5.6-7.5 6.8-6.7 8-5.8 8.9-4.8 9.7-3.6 10.2-2.5 10.6-1.2 10.7 .1 10.6 1.4 10.2 2.6 9.6 3.8 8.8 4.9 7.9 5.9 6.8 6.8 5.4 7.6 4 8.2 2.5 8.7 .9 8.9-.7 9.1-2.3 8.9-3.9 8.7-5.5 8.2-6.9 7.7-8.2 6.8-9.3 6-10.4 5-11.2 3.8-11.7 2.6-12.2 1.4-12.2 .1-12.3-1.2-11.9-2.5-11.3-3.6-10.7-4.9-9.7-5.8-8.6-6.9-7.3-7.6-5.9-8.3-4.5-8.8-2.8-9.1-1.2-9.3 .4-9.2 2-9 3.5-8.7 5-8 6.4-7.4 7.5-6.5 8.6-5.5 9.5-4.4 10.1-3.3 10.5-2 10.7-.7 10.8 .5 10.4 1.8 10 3 9.3 4.2 8.4 5.2 7.3 6.2 6.1 7 4.8 7.7 3.2 8.2 1.7 8.6 .1 8.7-1.5 8.7-3.2 8.6-4.6 8.2-6.2 7.6-7.5 7-8.8 6.1-9.8 5.1-10.7 4.1-11.4 2.9-11.9 1.6-12.1 .4-12.1-.9-11.9-2.2-11.5-3.4-10.8-4.6-10-5.7-8.9-6.7-7.8-7.5-6.3-8.3-4.9-8.9-3.4-9.2-1.7-9.5-.2-9.5 1.6-9.4 3-9 4.6-8.6 6-7.9 7.3-7.1 8.3-6.2 9.3-5.1 10.1-4 10.6-2.8 10.9-1.5 10.9-.3 10.8 1 10.5 2.3 9.8 3.5 9 4.5 8.1 5.6 6.8 6.5 5.6 7.2 4.1 7.8 2.7 8.2 1 8.5-.6 8.5-2.2 8.5-3.8 8.1-5.3 7.7-6.7 7.1-8 6.3-9.1 5.3-10.1 4.4-10.8 3.2-11.5 2-11.7 .8-11.9-.6-11.8-1.8-11.4-3.1-10.8-4.2-10.1-5.5-9.1-6.4-8-7.4-6.7-8.1-5.2-8.8-3.8-9.3-2.1-9.6-.5-9.6 1.1-9.7 2.7-9.3 4.2-9 5.7-8.3 7.1-7.7 8.2-6.7 9.2-5.7 10.1-4.7 10.7-3.4 11.1-2.2 11.2-1 11.3 .4 10.9 1.6 10.4 2.8 9.8 4 8.8 5 7.7 6 6.5 6.8 5.1 7.4 3.6 8 2 8.3 .5 8.4-1.2 8.4-2.8 8.2-4.3 7.8-5.8 7.3-7.1 6.6-8.3 5.6-9.4 4.8-10.2 3.6-10.9 2.4-11.3 1.3-11.5-.1-11.5-1.3-11.2-2.7-10.8-3.8-10.1-5-9.2-6.1-8.1-7-6.9-7.9-5.5-8.6-4.1-9.2-2.5-9.5-.8-9.7 .7-9.7 2.4-9.5 4-9.2 5.4-8.7 6.9-8 8.1-7.1 9.1-6.2 10.1-5.2 10.8-4 11.3-2.7 11.6-1.5 11.7-.2 11.4 1 11 2.3 10.5 3.5 9.5 4.6 8.6 5.6 7.4 6.5 6 7.2 4.7 7.7 3 8.2 1.5 8.4-.1 8.5-1.7 8.3-3.3 8-4.8 7.6-6.2 6.9-7.5 6.1-8.6 5.2-9.5 4.1-10.3 3-10.7 1.8-11.1 .6-11.2-.8-11-2-10.7-3.2-10.1-4.5-9.2-5.6-8.3-6.6-7.1-7.4-5.8-8.3-4.3-8.8-2.8-9.3-1.2-9.6 .4-9.6 2-9.6 3.6-9.3 5.2-8.8 6.6-8.2 7.9-7.4 9.1-6.6 10-5.5 10.9-4.4 11.5-3.2 11.8-1.9 11.9-.6 11.9 .6 11.6 1.9 11 3.1 10.3 4.2 9.4 5.3 8.2 6.3 7 7 5.5 7.7 4.1 8.1 2.5 8.5 .8 8.6-.7 8.5-2.3 8.4-3.9 7.9-5.3 7.3-6.6 6.6-7.8 5.8-8.9 4.8-9.6 3.6-10.3 2.5-10.7 1.2-10.9 0-10.8-1.3-10.6-2.6-10-3.7-9.4-5-8.4-6-7.4-6.9-6-7.8-4.7-8.4-3.3-8.9-1.6-9.3 0-9.4 1.6-9.5 3.2-9.2 4.8-8.8 6.2-8.3 7.7-7.6 8.8-6.8 9.9-5.7 10.8-4.7 11.5-3.5 11.9-2.3 12.2-1 12.2 .3 11.9 1.6 11.5 2.8 10.9 4 10 5.1 9 6.1 7.7 6.9 6.4 7.6 4.9 8.2 3.4 8.6 1.8 8.8 .2 8.8-1.5 8.7-3 8.3-4.5 7.9-5.9 7.2-7.1 6.4-8.3 5.4-9.1 4.4-9.9 3.2-10.4 2-10.6 .8-10.7-.5-10.5-1.8-10.2-3-9.5-4.2-8.7-5.3-7.6-6.3-6.5-7.1-5.2-7.9-3.7-8.5-2.2-8.9-.6-9.2 1.1-9.1 2.7-9.1 4.2-8.8 5.8-8.3 7.1-7.6 8.5-6.9 9.6-5.9 10.5-4.9 11.3-3.7 11.9-2.6 12.2-1.2 12.3 0 12.2 1.3 11.8 2.6 11.3 3.7 10.5 4.9 9.5 6 8.3 6.8 7.1 7.6 5.7 8.3 4.1 8.7 2.5 9 .9 9.1-.7 9.1-2.3 8.8-3.8 8.3-5.3 7.8-6.5 7-7.8 6.1-8.7 5.2-9.6 4-10.1 2.8-10.6 1.6-10.6 .3-10.7-.9-10.3-2.2-9.8-3.4-9-4.6-8.1-5.6-7.1-6.5-5.7-7.3-4.4-8-2.8-8.5-1.3-8.7 .3-8.9 2-8.9 3.5-8.6 5.1-8.2 6.6-7.7 7.9-6.9 9.1-6.1 10.1-5.1 10.9-3.9 11.7-2.8 12-1.5 12.2-.3 12.2 1 12 2.3 11.4 3.6 10.8 4.7 9.9 5.8 8.8 6.7 7.5 7.6 6.2 8.3 4.7 8.8 3.1 9.2 1.6 9.3-.1 9.4-1.8 9.2-3.3 8.8-4.7 8.3-6.2 7.7-7.3 6.8-8.5 5.8-9.3 4.8-10.1 3.6-10.5 2.4-10.8 1.1-10.8-.1-10.6-1.4-10.2-2.7-9.5-3.8-8.7-4.9-7.7-5.9-6.5-6.7-5.1-7.5-3.7-8-2.1-8.4-.5-8.6 1.1-8.7 2.7-8.5 4.2-8.1 5.8-7.7 7.1-7 8.4-6.2 9.6-5.3 10.4-4.2 11.1-3.1 11.7-1.8 12-.6 12 .7 11.9 2 11.5 3.3 10.9 4.4 10.1 5.5 9 6.6 7.9 7.5 6.6 8.2 5.1 8.8 3.6 9.3 1.9 9.5 .4 9.6-1.3 9.5-2.8 9.2-4.4 8.8-5.8 8.2-7.2 7.3-8.2 6.5-9.3 5.4-10 4.4-10.6 3.1-11 1.9-11.1 .6-10.9-.7-10.7-2-10.1-3.1-9.4-4.3-8.4-5.3-7.2-6.2-6-7-4.6-7.6-3.1-8.1-1.5-8.4 .1-8.4 1.7-8.5 3.3-8.1 4.8-7.8 6.3-7.2 7.6-6.4 8.7-5.5 9.8-4.5 10.6-3.4 11.2-2.3 11.5-.9 11.7 .3 11.7 1.5 11.4 2.9 10.8 4.1 10.2 5.2 9.1 6.3 8.1 7.2 6.9 8 5.4 8.7 3.9 9.2 2.3 9.6 .8 9.7-.9 9.7-2.5 9.4-4.1 9.1-5.6 8.6-6.9 7.8-8.1 7-9.2 6-10.1 4.9-10.7 3.7-11.2 2.5-11.4 1.2-11.4 0-11.1-1.4-10.8-2.5-10-3.7-9.2-4.8-8.1-5.8-6.9-6.6-5.6-7.3-4.1-7.9-2.5-8.2-.9-8.4 .6-8.4 2.3-8.3 3.8-7.9 5.3-7.4 6.7-6.7 7.9-5.9 9-4.9 9.9-3.9 10.6-2.7 11.1-1.5 11.3-.2 11.4 1.1 11.1 2.3 10.8 3.6 10.1 4.7 9.2 5.9 8.3 6.8 7 7.7 5.7 8.5 4.2 9 2.7 9.4 1 9.6-.5 9.7-2.2 9.6-3.8 9.3-5.3 8.7-6.7 8.2-8 7.3-9.1 6.4-10 5.3-10.9 4.3-11.3 3-11.7 1.7-11.8 .4-11.7-.8-11.3-2.1-10.7-3.2-9.9-4.4-8.9-5.5-7.8-6.3-6.5-7.1-5.1-7.7-3.6-8.1-2-8.4-.3-8.5 1.2-8.5 2.8-8.1 4.4-7.7 5.8-7.1 7-6.4 8.2-5.4 9.2-4.5 10-3.3 10.6-2.1 10.9-.9 11 .4 11 1.7 10.6 3 10 4.1 9.4 5.3 8.3 6.3 7.2 7.2 6 8.1 4.5 8.6 3.1 9.2 1.4 9.4-.2 9.6-1.8 9.5-3.4 9.3-5 8.8-6.4 8.3-7.8 7.6-8.9 6.6-10 5.7-10.8 4.6-11.5 3.3-11.9 2.2-12 .8-12.1-.4-11.7-1.7-11.3-3-10.6-4.1-9.7-5.1-8.6-6.1-7.3-7-6-7.6-4.5-8.2-3-8.5-1.3-8.7 .3-8.6 1.9-8.5 3.4-8.1 4.9-7.6 6.3-6.9 7.4-6 8.6-5.1 9.4-4 10.1-2.8 10.5-1.6 10.8-.4 10.7 .9 10.6 2.2 10.1 3.4 9.4 4.6 8.6 5.7 7.5 6.6 6.2 7.5 5 8.2 3.4 8.8 1.9 9.1 .3 9.3-1.3 9.3-2.9 9.2-4.6 8.8-6 8.4-7.4 7.6-8.6 6.8-9.8 5.9-10.7 4.8-11.4 3.7-11.9 2.4-12.2 1.2-12.3-.2-12.1-1.4-11.7-2.6-11-3.9-10.3-5-9.3-5.9-8-6.9-6.8-7.6-5.3-8.2-3.7-8.7-2.2-8.8-.6-9 1.1-8.8 2.6-8.6 4.2-8.1 5.5-7.4 6.9-6.7 7.9-5.8 9-4.7 9.7-3.6 10.2-2.5 10.6-1.1 10.7 .1 10.5 1.4 10.3 2.6 9.6 3.8 8.8 5 7.9 5.9 6.8 6.9 5.4 7.7 4 8.2 2.5 8.7 .9 9-.7 9-2.3 9-3.9 8.7-5.5 8.3-6.8 7.7-8.2 6.9-9.4 6-10.4 5-11.1 3.9-11.8 2.7-12.1 1.4-12.3 .2-12.3-1.2-11.9-2.4-11.4-3.6-10.6-4.8-9.7-5.9-8.6-6.7-7.4-7.6-5.9-8.3-4.5-8.7-2.8-9.1-1.3-9.3 .4-9.1 2-9 3.5-8.6 5-8 6.3-7.4 7.6-6.4 8.5-5.5 9.5-4.4 10-3.2 10.6-2 10.7-.7 10.7 .6 10.4 1.8 10 3 9.2 4.2 8.4 5.3 7.3 6.2 6.1 7 4.7 7.8 3.3 8.2 1.6 8.6 .1 8.8-1.5 8.8-3.2 8.6-4.7 8.2-6.2 7.7-7.5 6.9-8.8 6.2-9.8 5.2-10.8 4.1-11.4 2.9-11.9 1.7-12.1 .4-12.2-.8-11.9-2.2-11.5-3.4-10.9-4.5-10-5.7-9-6.6-7.7-7.6-6.4-8.2-5-8.8-3.4-9.2-1.8-9.5-.1-9.5 1.5-9.3 3-9 4.5-8.6 6-7.9 7.2-7.1 8.3-6.1 9.3-5.1 10-4 10.6-2.8 10.8-1.5 10.9-.2 10.8 1.1 10.4 2.3 9.8 3.4 9 4.6 8 5.6 6.8 6.5 5.6 7.2 4.1 7.8 2.5 8.3 1 8.5-.6 8.6-2.2 8.4-3.8 8.2-5.4 7.7-6.7 7.1-8 6.3-9.2 5.5-10.1 4.3-10.9 3.3-11.5 2-11.8 .8-11.9-.5-11.8-1.8-11.5-3.1-10.9-4.2-10.1-5.4-9.2-6.5-8-7.3-6.8-8.2-5.3-8.7-3.7-9.3-2.2-9.5-.6-9.7 1-9.6 2.7-9.3 4.2-9 5.6-8.3 7-7.6 8.2-6.8 9.2-5.7 10-4.6 10.6-3.5 11.1-2.2 11.2-.9 11.2 .4 10.9 1.6 10.4 2.8 9.6 4 8.8 5 7.7 6 6.4 6.8 5.1 7.5 3.5 7.9 2 8.3 .4 8.5-1.2 8.4-2.8 8.2-4.4 7.8-5.8 7.3-7.2 6.5-8.3 5.8-9.4 4.7-10.3 3.6-10.9 2.5-11.4 1.2-11.5-.1-11.6-1.3-11.3-2.6-10.8-3.8-10.1-5-9.3-6.1-8.2-7.1-6.9-7.8-5.6-8.6-4.1-9.2-2.6-9.5-.9-9.7 .7-9.7 2.3-9.5 3.9-9.2 5.4-8.7 6.8-8 8-7.2 9.2-6.2 10-5.1 10.8-4 11.2-2.8 11.5-1.5 11.6-.2 11.4 1 11 2.3 10.4 3.5 9.5 4.6 8.5 5.6 7.4 6.4 6 7.2 4.6 7.8 3 8.1 1.4 8.4-.1 8.5-1.8 8.3-3.4 8-4.8 7.6-6.3 6.8-7.5 6.1-8.6 5.2-9.5 4.2-10.4 3-10.8 1.7-11.1 .6-11.3-.8-11-2-10.7-3.3-10.1-4.4-9.3-5.6-8.4-6.6-7.1-7.5-5.8-8.3-4.4-8.9-2.9-9.3-1.3-9.5 .4-9.7 2-9.6 3.5-9.3 5.2-8.8 6.5-8.2 7.9-7.5 9-6.6 10-5.5 10.8-4.4 11.4-3.2 11.8-2 11.9-.7 11.9 .6 11.5 1.9 11 3.1 10.2 4.2 9.4 5.3 8.1 6.2 7 7 5.5 7.6 4 8.1 2.5 8.5 .8 8.6-.7 8.5-2.4 8.3-3.9 7.9-5.3 7.3-6.7 6.6-7.9 5.7-8.8 4.7-9.7 3.7-10.4 2.4-10.7 1.3-10.9-.1-10.9-1.3-10.6-2.6-10-3.8-9.4-5-8.5-6-7.4-7-6.1-7.8-4.7-8.4-3.3-9-1.7-9.3 0-9.5 1.6-9.4 3.1-9.3 4.8-8.8 6.2-8.4 7.6-7.6 8.8-6.8 9.9-5.8 10.7-4.7 11.5-3.5 11.9-2.4 12.1-1 12.2 .3 11.9 1.5 11.5 2.8 10.9 3.9 9.9 5.1 9 6 7.7 6.9 6.4 7.6 4.9 8.1 3.3 8.6 1.8 8.7 .2 8.8-1.5 8.7-3 8.3-4.5 7.8-5.9 7.1-7.2 6.4-8.3 5.4-9.1 4.3-9.9 3.3-10.4 1.9-10.7 .8-10.7-.6-10.5-1.8-10.2-3-9.5-4.3-8.7-5.3-7.7-6.3-6.5-7.2-5.2-8-3.7-8.5-2.2-8.9-.6-9.2 1-9.2 2.7-9.1 4.2-8.8 5.8-8.4 7.1-7.6 8.5-6.9 9.6-6 10.5-4.9 11.3-3.8 11.9-2.6 12.2-1.3 12.3-.1 12.1 1.3 11.9 2.5 11.2 3.7 10.5 4.9 9.5 5.9 8.4 6.8 7.1 7.6 5.6 8.2 4.1 8.7 2.6 8.9 .9 9.1-.7 9-2.3 8.7-3.8 8.4-5.3 7.7-6.5 7-7.8 6.1-8.7 5.1-9.5 4-10.2 2.8-10.5 1.5-10.7 .3-10.6-1-10.3-2.2-9.8-3.5-9-4.6-8.2-5.6-7-6.6-5.7-7.3-4.4-8-2.8-8.5-1.3-8.8 .4-9 1.9-8.9 3.6-8.6 5.1-8.3 6.5-7.7 7.9-7 9.1-6.1 10.2-5.1 10.9-4 11.7-2.8 12-1.6 12.3-.3 12.2 1 11.9 2.2 11.5 3.5 10.8 4.7 9.9 5.7 8.8 6.8 7.6 7.5 6.2 8.2 4.8 8.8 3.1 9.2 1.6 9.3-.1 9.3-1.7 9.2-3.3 8.8-4.7 8.3-6.1 7.6-7.4 6.7-8.4 5.8-9.3 4.8-10 3.6-10.5 2.3-10.8 1.1-10.8-.1-10.5-1.5-10.2-2.7-9.5-3.8-8.7-4.9-7.6-6-6.4-6.7-5.1-7.5-3.7-8.1-2.1-8.4-.5-8.6 1.1-8.7 2.7-8.6 4.3-8.2 5.8-7.7 7.2-7 8.4-6.3 9.6-5.3 10.4-4.2 11.2-3.1 11.7-1.9 12.1-.6 12 .7 11.9 1.9 11.6 3.3 10.9 4.4 10.1 5.5 9.1 6.5 7.9 7.5 6.6 8.2 5.2 8.8 3.6 9.2 2.1 9.5 .4 9.6-1.3 9.4-2.8 9.2-4.3 8.8-5.8 8.1-7.1 7.4-8.2 6.4-9.2 5.4-10 4.4-10.5 3.1-10.9 1.8-11.1 .6-10.9-.7-10.7-2-10-3.1-9.3-4.3-8.4-5.3-7.2-6.2-6-7-4.5-7.7-3.1-8.1-1.4-8.4 .1-8.5 1.8-8.4 3.3-8.2 4.9-7.8 6.3-7.2 7.6-6.4 8.8-5.6 9.8-4.5 10.6-3.4 11.3-2.3 11.6-1 11.8 .3 11.7 1.6 11.4 2.8 10.9 4.1 10.2 5.2 9.2 6.2 8.1 7.2 6.9 8.1 5.5 8.7 4 9.2 2.4 9.5 .8 9.7-.9 9.7-2.4 9.4-4.1 9.1-5.5 8.5-6.8 7.9-8.1 6.9-9.1 6-10 4.9-10.7 3.8-11.1 2.5-11.4 1.2-11.3-.1-11.2-1.3-10.6-2.5-10-3.8-9.2-4.8-8-5.7-6.9-6.6-5.5-7.3-4-7.9-2.5-8.2-.9-8.4 .7-8.4 2.3-8.3 3.9-7.9 5.3-7.4 6.8-6.7 7.9-5.9 9.1-4.9 9.9-3.9 10.7-2.7 11.1-1.5 11.4-.2 11.4 1 11.2 2.4 10.8 3.5 10.1 4.8 9.3 5.8 8.3 6.9 7.1 7.7 5.7 8.4 4.3 9.1 2.7 9.4 1.2 9.6-.5 9.8-2.2 9.5-3.7 9.3-5.2 8.8-6.7 8.1-7.9 7.4-9.1 6.4-10 5.4-10.7 4.2-11.4 3-11.6 1.8-11.7 .4-11.6-.8-11.3-2-10.7-3.3-9.8-4.4-9-5.4-7.7-6.3-6.5-7.1-5-7.6-3.5-8.2-2-8.4-.3-8.5 1.3-8.4 2.9-8.1 4.4-7.7 5.8-7.1 7.1-6.3 8.2-5.5 9.3-4.4 10-3.3 10.6-2.1 10.9-.8 11.1 .4 11 1.7 10.7 3 10.1 4.1 9.3 5.3 8.4 6.3 7.3 7.3 6 8.1 4.6 8.6 3.1 9.2 1.4 9.5-.1 9.6-1.8 9.5-3.3 9.3-4.9 8.9-6.4 8.3-7.7 7.6-9 6.7-9.9 5.7-10.8 4.6-11.4 3.4-11.8 2.2-12.1 .8-12-.4-11.7-1.6-11.3-2.9-10.5-4.1-9.7-5.1-8.5-6.1-7.4-6.9-5.9-7.6-4.5-8.2-2.9-8.4-1.3-8.7 .3-8.6 1.9-8.5 3.5-8 4.9-7.6 6.3-6.8 7.5-6.1 8.6-5 9.4-4 10.1-2.8 10.6-1.6 10.8-.3 10.8 1 10.5 2.2 10.1 3.4 9.5 4.7 8.6 5.7 7.5 6.6 6.3 7.6 5 8.2 3.5 8.8 1.9 9.1 .3 9.4-1.3 9.3-2.9 9.2-4.5 8.9-6 8.4-7.3 7.7-8.7 6.8-9.7 5.9-10.7 4.9-11.4 3.7-11.9 2.5-12.1 1.2-12.3-.1-12.1-1.4-11.6-2.6-11.1-3.8-10.3-4.9-9.2-6-8.1-6.8-6.7-7.6-5.3-8.1-3.8-8.6-2.1-8.9-.6-8.9 1.1-8.8 2.6-8.5 4.2-8 5.5-7.5 6.9-6.6 8-5.8 8.9-4.7 9.7-3.5 10.3-2.4 10.6-1.1 10.6 .1 10.6 1.4 10.2 2.7 9.7 3.9 8.8 4.9 7.9 6 6.8 7 5.4 7.6 4 8.3 2.6 8.8 .9 9-.7 9.1-2.3 9-4 8.8-5.4 8.3-6.9 7.7-8.2 7-9.3 6-10.4 5.1-11.2 3.9-11.7 2.7-12.2 1.5-12.3 .2-12.2-1.1-11.9-2.4-11.4-3.6-10.7-4.7-9.7-5.8-8.7-6.8-7.3-7.5-6-8.2-4.4-8.7-2.9-9.1-1.3-9.2 .4-9.1 2-9 3.5-8.5 4.9-8 6.4-7.3 7.5-6.4 8.5-5.5 9.5-4.3 10-3.2 10.5-1.9 10.7-.7 10.7 .6 10.4 1.8 9.9 3.1 9.3 4.2 8.4 5.3 7.3 6.3 6 7.1 4.7 7.7 3.3 8.3 1.6 8.7 .1 8.8-1.6 8.8-3.1 8.6-4.8 8.2-6.2 7.8-7.5 7-8.8 6.2-9.9 5.2-10.7 4.1-11.5 3-11.9 1.8-12.2 .4-12.2-.8-11.9-2.1-11.6-3.3-10.9-4.6-10-5.6-9-6.6-7.8-7.5-6.4-8.2-5-8.8-3.4-9.2-1.9-9.4-.2-9.4 1.5-9.4 3-8.9 4.5-8.6 5.9-7.8 7.2-7.1 8.3-6.1 9.2-5.1 10-3.9 10.5-2.8 10.8-1.5 10.9-.2 10.7 1.1 10.4 2.3 9.7 3.5 9 4.6 8 5.7 6.8 6.5 5.5 7.2 4 7.9 2.6 8.2 .9 8.6-.6 8.6-2.3 8.5-3.8 8.2-5.4 7.7-6.8 7.1-8 6.4-9.2 5.4-10.2 4.4-11 3.3-11.5 2-11.8 .8-12-.4-11.8-1.8-11.5-3-11-4.3-10.2-5.3-9.2-6.4-8-7.4-6.8-8.1-5.4-8.7-3.8-9.3-2.3-9.5-.6-9.6 1-9.6 2.6-9.3 4.2-9 5.6-8.3 6.9-7.6 8.1-6.7 9.1-5.7 10-4.7 10.6-3.4 11-2.2 11.2-.9 11.1 .4 10.8 1.6 10.4 2.9 9.6 3.9 8.7 5.1 7.7 6 6.4 6.8 5 7.5 3.5 7.9 1.9 8.3 .4 8.5-1.3 8.4-2.9 8.2-4.4 7.9-5.8 7.2-7.2 6.6-8.4 5.7-9.5 4.8-10.3 3.6-11 2.5-11.4 1.2-11.6 0-11.6-1.4-11.3-2.5-10.9-3.9-10.2-5-9.3-6-8.3-7.1-7-7.9-5.6-8.6-4.2-9.1-2.6-9.5-.9-9.7 .6-9.7 2.3-9.5 3.8-9.2 5.4-8.7 6.7-8 8-7.2 9-6.2 10-5.2 10.7-4 11.2-2.7 11.5-1.5 11.5-.3 11.4 1.1 10.9 2.3 10.3 3.4 9.5 4.6 8.5 5.6 7.3 6.4 6 7.2 4.5 7.7 3 8.2 1.4 8.4-.3 8.4-1.8 8.3-3.4 8-4.9 7.6-6.3 6.9-7.5 6.1-8.7 5.1-9.6 4.2-10.3 2.9-10.9 1.8-11.2 .5-11.3-.7-11.1-2-10.8-3.3-10.1-4.5-9.4-5.6-8.3-6.6-7.2-7.5-5.9-8.3-4.5-8.9-2.9-9.3-1.3-9.6 .3-9.7 1.9-9.5 3.5-9.4 5.1-8.8 6.5-8.3 7.8-7.5 9-6.6 9.9-5.5 10.8-4.5 11.4-3.2 11.7-2 11.9-.7 11.8 .6 11.5 1.8 10.9 3.1 10.2 4.2 9.3 5.2 8.2 6.2 6.8 7 5.5 7.6 4 8.1 2.4 8.4 .9 8.6-.8 8.5-2.4 8.3-4 7.8-5.4 7.3-6.7 6.6-7.8 5.7-9 4.7-9.7 3.6-10.3 2.4-10.8 1.2-11 0-10.9-1.4-10.6-2.6-10.1-3.8-9.4-5-8.6-6-7.4-7-6.1-7.9-4.8-8.4-3.3-9-1.7-9.4-.1-9.5 1.5-9.5 3.2-9.3 4.7-8.9 6.1-8.3 7.6-7.7 8.8-6.8 9.8-5.8 10.7-4.8 11.4-3.6 11.9-2.3 12.1-1.1 12.2 .2 11.9 1.5 11.5 2.8 10.8 3.9 9.9 5 8.9 6 7.7 6.8 6.4 7.6 4.9 8.1 3.3 8.5 1.8 8.7 .1 8.8-1.5 8.6-3 8.3-4.6 7.7-5.9 7.2-7.1 6.3-8.3 5.3-9.2 4.4-9.9 3.1-10.4 2-10.7 .7-10.7-.6-10.6-1.8-10.2-3.1-9.5-4.3-8.7-5.3-7.7-6.4-6.6-7.3-5.2-7.9-3.7-8.6-2.2-9-.6-9.2 1-9.2 2.6-9.2 4.2-8.8 5.7-8.4 7.2-7.7 8.4-7 9.6-6 10.5-5 11.3-3.8 11.9-2.6 12.1-1.4 12.3-.1 12.2 1.3 11.8 2.4 11.3 3.7 10.5 4.8 9.5 5.9 8.3 6.7 7.1 7.6 5.7 8.1 4.1 8.7 2.5 8.9 1 9-.7 9-2.3 8.7-3.8 8.3-5.3 7.7-6.5 6.9-7.8 6.1-8.7 5-9.5 4-10.2 2.8-10.5 1.5-10.7 .2-10.6-1-10.3-2.3-9.8-3.5-9-4.6-8.1-5.7-7-6.6-5.8-7.4-4.3-8-2.9-8.5-1.2-8.9 .3-9 2-8.9 3.5-8.7 5.1-8.3 6.6-7.8 7.9-7 9.1-6.1 10.1-5.2 11-4 11.7-2.9 12-1.6 12.3-.4 12.2 1 12 2.2 11.5 3.5 10.8 4.6 9.9 5.7 8.9 6.6 7.6 7.5 6.2 8.2 4.8 8.8 3.2 9.1 1.5 9.3 0 9.3-1.7 9.1-3.2 8.8-4.7 8.2-6.1 7.6-7.3 6.7-8.4 5.8-9.3 4.7-10 3.5-10.5 2.4-10.7 1.1-10.8-.3-10.5-1.4-10.2-2.7-9.5-3.9-8.6-5-7.6-5.9-6.4-6.8-5.1-7.5-3.6-8.1-2.1-8.5-.5-8.7 1.2-8.7 2.7-8.6 4.3-8.2 5.8-7.7 7.2-7.1 8.5-6.3 9.6-5.3 10.5-4.3 11.2-3.1 11.7-2 12.1-.6 12.1 .6 11.9 2 11.6 3.2 11 4.3 10.1 5.5 9.2 6.5 7.9 7.4 6.7 8.2 5.2 8.8 3.6 9.2 2.1 9.4 .5 9.6-1.2 9.4-2.8 9.2-4.3 8.7-5.7 8.1-7 7.4-8.2 6.4-9.2 5.4-9.9 4.3-10.5 3.1-10.9 1.8-11 .6-10.9-.8-10.6-1.9-10-3.2-9.3-4.3-8.3-5.3-7.2-6.3-5.9-7-4.5-7.7-3-8.1-1.4-8.4 .1-8.5 1.8-8.5 3.4-8.2 4.9-7.8 6.4-7.2 7.6-6.4 8.9-5.6 9.8-4.6 10.7-3.4 11.3-2.3 11.6-1 11.9 .3 11.7 1.5 11.5 2.8 10.9 4 10.3 5.2 9.3 6.3 8.1 7.2 7 8 5.5 8.7 4 9.2 2.5 9.5 .8 9.7-.8 9.6-2.4 9.5-3.9 9-5.5 8.6-6.8 7.8-8 6.9-9.1 6-9.9 4.9-10.6 3.8-11.1 2.5-11.3 1.2-11.3-.1-11.1-1.3-10.6-2.5-10-3.8-9-4.8-8.1-5.7-6.8-6.6-5.4-7.4-4-7.8-2.5-8.2-.8-8.4 .7-8.5 2.4-8.2 3.9-7.9 5.4-7.4 6.8-6.7 8-5.9 9.1-5 10-3.8 10.7-2.8 11.1-1.5 11.5-.2 11.4 1.1 11.3 2.3 10.8 3.6 10.3 4.7 9.3 5.9 8.4 6.8 7.1 7.7 5.8 8.5 4.3 9 2.8 9.4 1.2 9.7-.5 9.7-2.1 9.6-3.6 9.3-5.2 8.8-6.6 8.1-7.9 7.4-9 6.4-9.9 5.4-10.7 4.2-11.3 3.1-11.6 1.7-11.7 .5-11.5-.8-11.2-2-10.7-3.3-9.8-4.3-8.9-5.4-7.7-6.3-6.4-7-5-7.7-3.5-8.1-1.9-8.4-.2-8.5 1.3-8.4 2.9-8.1 4.4-7.7 5.9-7.1 7.1-6.3 8.3-5.4 9.3-4.4 10.1-3.3 10.6-2.1 11-.8 11.1 .4 11.1 1.7 10.7 3 10.1 4.2 9.4 5.3 8.5 6.4 7.3 7.2 6.1 8.1 4.6 8.7 3.1 9.2 1.5 9.5-.1 9.6-1.7 9.6-3.3 9.3-4.9 8.9-6.3 8.4-7.7 7.6-8.8 6.7-9.9 5.7-10.8 4.6-11.4 3.5-11.8 2.2-12 .9-11.9-.4-11.7-1.6-11.2-2.9-10.5-4-9.7-5.1-8.5-6.1-7.3-6.9-5.9-7.5-4.5-8.1-2.8-8.5-1.3-8.6 .3-8.6 2-8.4 3.5-8.1 4.9-7.5 6.3-6.8 7.6-6 8.6-5 9.4-4 10.1-2.7 10.6-1.6 10.9-.3 10.8 1 10.6 2.3 10.1 3.4 9.5 4.7 8.6 5.7 7.6 6.7 6.4 7.6 5 8.2 3.5 8.8 1.9 9.2 .4 9.4-1.3 9.4-2.9 9.3-4.4 8.9-6 8.4-7.3 7.7-8.6 6.9-9.8 6-10.6 4.9-11.4 3.7-11.8 2.5-12.2 1.2-12.2 0-12.1-1.3-11.6-2.6-11.1-3.8-10.2-4.9-9.2-5.9-8.1-6.7-6.7-7.6-5.3-8.1-3.8-8.5-2.1-8.8-.6-8.9 1.1-8.8 2.7-8.5 4.1-8 5.6-7.4 6.9-6.6 7.9-5.7 9-4.6 9.7-3.6 10.3-2.3 10.6-1.1 10.7 .2 10.5 1.4 10.3 2.7 9.6 3.9 8.9 5 7.9 6.1 6.7 6.9 5.5 7.7 4 8.4 2.6 8.7 .9 9.1-.7 9.2-2.3 9-3.9 8.8-5.4 8.4-6.9 7.8-8.2 7-9.4 6.1-10.3 5-11.2 4-11.7 2.8-12.2 1.5-12.3 .2-12.2-1-12-2.3-11.4-3.6-10.6-4.7-9.8-5.7-8.6-6.7-7.4-7.6-5.9-8.1-4.5-8.7-2.9-9-1.3-9.1 .4-9.1 1.9-9 3.5-8.5 5-7.9 6.3-7.3 7.5-6.4 8.5-5.4 9.4-4.3 10.1-3.1 10.4-1.9 10.7-.7 10.7 .6 10.4 1.9 9.9 3.1 9.3 4.3 8.3 5.3 7.3 6.3 6.1 7.1 4.7 7.8 3.2 8.4 1.6 8.6 .1 8.9-1.6 8.8-3.2 8.7-4.7 8.3-6.2 7.8-7.6 7-8.8 6.2-9.9 5.3-10.8 4.2-11.4 3-12 1.8-12.2 .5-12.2-.8-12-2.1-11.5-3.3-11-4.4-10-5.6-9.1-6.6-7.8-7.5-6.5-8.1-5-8.8-3.4-9.1-1.9-9.4-.2-9.4 1.4-9.3 2.9-9 4.5-8.4 5.9-7.9 7.1-7 8.3-6.1 9.2-5.1 9.9-3.9 10.5-2.7 10.8-1.4 10.8-.2 10.7 1.1 10.4 2.3 9.7 3.6 8.9 4.6 8 5.6 6.7 6.6 5.5 7.2 4 7.9 2.6 8.3 .9 8.6-.7 8.6-2.3 8.5-3.9 8.3-5.4 7.7-6.8 7.2-8.1 6.4-9.2 5.4-10.2 4.4-11 3.3-11.6 2.1-11.8 .9-12.1-.5-11.8-1.7-11.6-3-11-4.2-10.2-5.4-9.3-6.3-8.1-7.3-6.8-8.1-5.4-8.8-3.9-9.2-2.3-9.5-.7-9.6 1-9.6 2.5-9.3 4.1-8.9 5.6-8.3 6.8-7.6 8.1-6.7 9.1-5.7 9.9-4.6 10.6-3.4 10.9-2.2 11.1-.9 11.1 .4 10.8 1.6 10.3 2.9 9.6 4 8.7 5.1 7.6 6 6.3 6.8 5 7.4 3.4 8 1.9 8.3 .4 8.5-1.4 8.4-2.9 8.3-4.4 7.8-5.9 7.3-7.3 6.6-8.4 5.7-9.5 4.8-10.4 3.6-11 2.5-11.4 1.3-11.7-.1-11.6-1.3-11.5-2.5-10.9-3.9-10.2-4.9-9.4-6.1-8.3-7-7.1-7.9-5.7-8.6-4.2-9.1-2.6-9.5-1.1-9.7 .6-9.7 2.2-9.5 3.8-9.2 5.3-8.7 6.7-8 7.9-7.2 9-6.2 9.9-5.2 10.7-4 11.1-2.8 11.5-1.5 11.4-.2 11.3 1 10.9 2.3 10.3 3.5 9.4 4.5 8.5 5.6 7.2 6.4 5.9 7.2 4.5 7.7 3 8.2 1.3 8.4-.3 8.4-1.8 8.3-3.5 8-4.9 7.6-6.3 6.8-7.6 6.1-8.8 5.2-9.6 4.1-10.4 3-10.9 1.8-11.3 .5-11.3-.8-11.2-2-10.8-3.3-10.2-4.5-9.4-5.6-8.4-6.6-7.3-7.5-5.9-8.3-4.5-8.9-3-9.3-1.4-9.6 .3-9.7 1.9-9.6 3.4-9.4 5-8.8 6.5-8.3 7.7-7.5 9-6.6 9.9-5.6 10.7-4.5 11.3-3.2 11.7-2 11.8-.8 11.8 .6 11.4 1.8 10.9 3.1 10.2 4.1 9.2 5.2 8.1 6.2 6.9 6.9 5.4 7.6 4 8.1 2.4 8.4 .8 8.5-.9 8.5-2.4 8.3-4 7.8-5.4 7.3-6.7 6.6-8 5.6-8.9 4.7-9.8 3.6-10.4 2.4-10.8 1.2-11-.1-10.9-1.4-10.7-2.6-10.2-3.8-9.4-5.1-8.6-6-7.4-7-6.2-7.9-4.9-8.5-3.3-9-1.7-9.4-.2-9.5 1.5-9.5 3.1-9.3 4.7-9 6.1-8.4 7.5-7.7 8.8-6.8 9.8-5.9 10.6-4.8 11.4-3.6 11.9-2.4 12-1.1 12.1 .2 11.9 1.5 11.5 2.6 10.8 3.9 9.9 5 8.9 5.9 7.7 6.9 6.3 7.5 4.9 8.1 3.3 8.4 1.7 8.7 .1 8.7-1.5 8.6-3.1 8.3-4.5 7.7-5.9 7.1-7.2 6.3-8.3 5.3-9.2 4.3-10 3.1-10.4 2-10.7 .6-10.7-.6-10.6-1.9-10.2-3.1-9.6-4.3-8.7-5.4-7.8-6.4-6.5-7.2-5.2-8.1-3.8-8.6-2.2-9-.7-9.2 1-9.3 2.6-9.2 4.2-8.9 5.7-8.4 7.1-7.8 8.4-7 9.6-6 10.5-5 11.3-3.9 11.8-2.7 12.2-1.4 12.3-.1 12.1 1.2 11.9 2.4 11.2 3.6 10.5 4.8 9.5 5.8 8.3 6.7 7.1 7.5 5.6 8.1 4.2 8.6 2.5 8.9 1 9-.7 8.9-2.3 8.7-3.8 8.3-5.3 7.6-6.5 6.9-7.8 6-8.7 5.1-9.5 3.9-10.2 2.7-10.5 1.5-10.7 .2-10.6-1.1-10.3-2.3-9.8-3.5-9-4.7-8.1-5.7-7-6.6-5.8-7.4-4.3-8.1-2.9-8.6-1.3-8.9 .4-9 2-9 3.5-8.7 5.1-8.4 6.6-7.8 7.9-7 9.1-6.2 10.2-5.2 11-4.1 11.6-2.9 12.1-1.7 12.2-.4 12.3 .9 12 2.2 11.5 3.4 10.8 4.6 10 5.6 8.8 6.7 7.7 7.4 6.2 8.2 4.8 8.7 3.2 9 1.6 9.3-.1 9.3-1.6 9-3.2 8.8-4.7 8.2-6 7.5-7.3 6.7-8.4 5.8-9.3 4.6-10 3.6-10.4 2.3-10.7 1-10.8-.2-10.5-1.5-10.1-2.8-9.5-3.9-8.6-5-7.6-6-6.4-6.8-5-7.6-3.6-8.1-2.1-8.5-.4-8.7 1.1-8.7 2.8-8.6 4.3-8.3 5.9-7.8 7.2-7.1 8.5-6.3 9.6-5.4 10.5-4.3 11.3-3.2 11.7-1.9 12.1-.7 12.1 .6 12 1.9 11.6 3.1 11 4.4 10.2 5.4 9.2 6.5 8 7.4 6.7 8.1 5.2 8.8 3.7 9.1 2.1 9.5 .5 9.5-1.1 9.4-2.7 9.1-4.3 8.7-5.7 8.1-6.9 7.3-8.2 6.4-9.1 5.4-9.9 4.3-10.5 3-10.8 1.9-11 .5-10.8-.7-10.6-2-10-3.2-9.2-4.3-8.3-5.4-7.1-6.3-5.9-7-4.5-7.7-2.9-8.1-1.4-8.5 .2-8.5 1.8-8.5 3.4-8.2 5-7.9 6.4-7.2 7.7-6.5 8.9-5.5 9.9-4.6 10.7-3.5 11.3-2.3 11.7-1 11.9 .2 11.8 1.5 11.5 2.8 11 4 10.3 5.2 9.3 6.2 8.2 7.2 7 8 5.6 8.7 4.1 9.1 2.5 9.5 .9 9.7-.7 9.7-2.4 9.4-3.9 9.1-5.4 8.5-6.7 7.8-8 6.9-9 6-9.9 4.9-10.6 3.7-11 2.5-11.3 1.2-11.2 0-11-1.3-10.6-2.6-9.9-3.7-9.1-4.8-7.9-5.8-6.8-6.6-5.4-7.3-4-7.9-2.4-8.2-.8-8.4 .8-8.5 2.4-8.2 4-7.9 5.5-7.4 6.8-6.8 8-5.9 9.2-4.9 10-3.9 10.7-2.7 11.3-1.5 11.4-.2 11.6 1 11.3 2.3 10.9 3.6 10.3 4.7 9.4 5.9 8.4 6.8 7.2 7.7 5.8 8.5 4.4 9 2.8 9.5 1.3 9.6-.4 9.7-2.1 9.6-3.6 9.3-5.1 8.8-6.5 8.2-7.8 7.3-9 6.5-9.9 5.4-10.6 4.2-11.3 3.1-11.5 1.8-11.6 .5-11.5-.8-11.2-2-10.6-3.3-9.8-4.3-8.8-5.4-7.7-6.3-6.3-7-5-7.7-3.4-8.1-1.9-8.3-.2-8.5 1.4-8.4 2.9-8.1 4.5-7.7 5.9-7 7.2-6.3 8.3-5.4 9.3-4.4 10.1-3.3 10.7-2.1 11.1-.8 11.1 .4 11.1 1.8 10.8 3 10.2 4.1 9.5 5.4 8.5 6.3 7.3 7.3 6.1 8.1 4.7 8.7 3.2 9.3 1.6 9.5-.1 9.6-1.7 9.6-3.2 9.3-4.8 9-6.3 8.3-7.7 7.7-8.8 6.7-9.8 5.8-10.7 4.6-11.4 3.5-11.7 2.2-12 1-11.9-.4-11.7-1.6-11.1-2.8-10.5-4-9.6-5.1-8.5-6-7.3-6.9-5.8-7.5-4.5-8.1-2.8-8.4-1.3-8.6 .4-8.6 2-8.4 3.5-8 5-7.5 6.3-6.8 7.6-5.9 8.6-5 9.5-3.9 10.2-2.8 10.6-1.5 10.9-.3 10.8 1 10.7 2.3 10.1 3.5 9.6 4.7 8.6 5.8 7.6 6.7 6.4 7.6 5 8.3 3.6 8.8 2 9.2 .4 9.4-1.3 9.5-2.8 9.3-4.4 8.9-6 8.4-7.3 7.8-8.6 6.9-9.7 6-10.6 5-11.3 3.7-11.8 2.6-12.2 1.3-12.2 0-12-1.3-11.7-2.5-11-3.8-10.2-4.8-9.2-5.9-8-6.7-6.8-7.5-5.2-8.1-3.8-8.5-2.1-8.8-.5-8.8 1-8.7 2.7-8.5 4.2-7.9 5.6-7.4 6.8-6.6 8-5.6 9-4.7 9.7-3.5 10.3-2.3 10.6-1 10.7 .2 10.6 1.5 10.2 2.7 9.7 3.9 8.9 5.1 7.9 6.1 6.8 7 5.4 7.7 4.1 8.4 2.5 8.8 1 9.1-.7 9.2-2.3 9.1-3.9 8.8-5.4 8.4-6.9 7.8-8.2 7.1-9.3 6.1-10.4 5.2-11.1 4-11.8 2.8-12.1 1.6-12.3 .2-12.3-1-11.9-2.3-11.4-3.5-10.7-4.6-9.7-5.7-8.6-6.7-7.4-7.4-6-8.2-4.5-8.6-2.9-9-1.3-9.1 .4-9 1.9-8.9 3.5-8.5 5-7.9 6.2-7.2 7.5-6.3 8.6-5.4 9.4-4.3 10-3.1 10.5-1.9 10.6-.6 10.7 .7 10.4 1.9 9.9 3.1 9.2 4.3 8.4 5.4 7.3 6.3 6 7.2 4.7 7.8 3.2 8.4 1.6 8.7 .1 8.9-1.6 8.9-3.2 8.7-4.7 8.3-6.3 7.8-7.6 7.1-8.8 6.3-9.9 5.3-10.8 4.2-11.5 3.1-11.9 1.8-12.2 .5-12.3-.7-12-2-11.6-3.3-10.9-4.4-10.1-5.6-9.1-6.5-7.8-7.4-6.5-8.2-5.1-8.7-3.4-9.1-1.9-9.3-.3-9.4 1.4-9.3 2.9-8.9 4.4-8.4 5.9-7.8 7.1-7 8.2-6.1 9.2-5 9.9-3.9 10.4-2.7 10.8-1.4 10.8-.2 10.7 1.1 10.3 2.4 9.7 3.6 8.9 4.6 7.9 5.7 6.7 6.6 5.5 7.3 4 7.9 2.5 8.3 .9 8.6-.8 8.7-2.3 8.5-3.9 8.3-5.4 7.8-6.9 7.2-8.1 6.4-9.3 5.5-10.2 4.4-11 3.3-11.6 2.2-11.9 .8-12.1-.4-11.9-1.7-11.6-3-11-4.1-10.3-5.3-9.3-6.4-8.2-7.3-6.8-8-5.5-8.7-3.9-9.2-2.4-9.5-.7-9.6 .9-9.5 2.5-9.3 4.1-8.9 5.5-8.3 6.8-7.6 8-6.7 9-5.7 9.9-4.5 10.5-3.4 10.9-2.2 11.1-.9 11 .4 10.8 1.7 10.2 2.8 9.6 4 8.6 5.1 7.6 6 6.3 6.9 4.9 7.4 3.4 8 1.9 8.4 .2 8.5-1.3 8.4-3 8.3-4.4 7.8-6 7.3-7.3 6.6-8.5 5.8-9.5 4.7-10.4 3.7-11.1 2.5-11.5 1.3-11.7 0-11.7-1.3-11.5-2.6-10.9-3.8-10.4-5-9.4-6-8.3-7-7.1-7.9-5.8-8.6-4.3-9.1-2.7-9.5-1.1-9.7 .6-9.7 2.1-9.5 3.8-9.2 5.2-8.7 6.6-8 7.9-7.1 8.9-6.3 9.9-5.1 10.6-4 11.1-2.8 11.4-1.5 11.4-.3 11.2 1.1 10.9 2.2 10.2 3.5 9.4 4.6 8.4 5.5 7.2 6.5 5.8 7.1 4.5 7.8 2.9 8.1 1.3 8.4-.3 8.4-1.9 8.3-3.5 8-5 7.6-6.4 6.8-7.6 6.1-8.8 5.2-9.7 4.1-10.5 3-10.9 1.8-11.3 .5-11.4-.8-11.2-2-10.9-3.3-10.2-4.5-9.5-5.6-8.5-6.6-7.3-7.6-6-8.2-4.5-8.9-3.1-9.4-1.4-9.6 .2-9.7 1.8-9.6 3.4-9.4 5-8.9 6.4-8.2 7.7-7.6 8.8-6.6 9.9-5.6 10.7-4.5 11.2-3.3 11.7-2 11.8-.7 11.7 .5 11.4 1.8 10.8 3 10.2 4.2 9.1 5.2 8.1 6.1 6.8 6.9 5.4 7.6 3.9 8.1 2.4 8.3 .7 8.6-.9 8.4-2.4 8.2-4 7.9-5.5 7.2-6.8 6.6-7.9 5.6-9 4.7-9.8 3.6-10.5 2.4-10.8 1.1-11-.1-11-1.4-10.7-2.6-10.3-3.9-9.5-5-8.6-6.1-7.5-7.1-6.2-7.8-4.9-8.6-3.3-9-1.8-9.4-.2-9.6 1.4-9.5 3.1-9.4 4.6-8.9 6.1-8.5 7.5-7.7 8.7-6.9 9.7-5.9 10.7-4.8 11.3-3.6 11.8-2.4 12.1-1.2 12 .2 11.9 1.4 11.4 2.6 10.7 3.9 10 4.9 8.8 5.9 7.7 6.8 6.3 7.5 4.8 8.1 3.3 8.4 1.7 8.6 .1 8.7-1.5 8.6-3.1 8.2-4.6 7.7-6 7-7.2 6.3-8.3 5.3-9.2 4.2-10 3.2-10.4 1.9-10.7 .6-10.8-.6-10.6-2-10.3-3.1-9.5-4.3-8.8-5.5-7.8-6.4-6.5-7.3-5.3-8-3.8-8.7-2.3-9-.6-9.3 .9-9.3 2.6-9.3 4.2-8.9 5.7-8.4 7.1-7.9 8.4-7 9.5-6.1 10.5-5 11.2-4 11.9-2.7 12.1-1.4 12.3-.2 12.1 1.1 11.8 2.4 11.3 3.6 10.4 4.7 9.5 5.8 8.4 6.7 7.1 7.4 5.6 8.1 4.1 8.6 2.6 8.8 .9 9-.7 8.8-2.3 8.7-3.8 8.2-5.3 7.6-6.5 6.9-7.8 6-8.7 4.9-9.5 3.9-10.2 2.7-10.5 1.5-10.7 .1-10.6-1.1-10.3-2.3-9.8-3.6-9-4.7-8.1-5.7-7.1-6.7-5.7-7.5-4.4-8.1-2.8-8.6-1.3-8.9 .4-9.1 1.9-9 3.6-8.8 5.1-8.4 6.5-7.8 8-7.1 9.1-6.3 10.1-5.2 11-4.1 11.7-3 12-1.7 12.3-.4 12.3 .8 12 2.2 11.5 3.3 10.9 4.5 9.9 5.7 8.9 6.5 7.6 7.5 6.3 8.1 4.8 8.6 3.2 9.1 1.6 9.2 0 9.2-1.6 9-3.2 8.7-4.7 8.2-6 7.5-7.3 6.7-8.3 5.7-9.3 4.6-9.9 3.5-10.5 2.3-10.6 1-10.8-.3-10.5-1.5-10.1-2.8-9.4-3.9-8.6-5.1-7.6-6-6.4-6.9-5-7.5-3.6-8.2-2-8.5-.5-8.8 1.2-8.8 2.8-8.6 4.4-8.3 5.8-7.8 7.3-7.2 8.5-6.3 9.6-5.4 10.5-4.4 11.3-3.2 11.8-2 12.1-.7 12.2 .6 12 1.8 11.6 3.1 11.1 4.3 10.2 5.4 9.2 6.5 8.1 7.3 6.7 8.1 5.3 8.7 3.7 9.2 2.2 9.4 .5 9.5-1.1 9.4-2.7 9.1-4.2 8.6-5.7 8.1-6.9 7.3-8.1 6.4-9.1 5.3-9.8 4.2-10.5 3.1-10.8 1.8-10.9 .5-10.8-.8-10.5-2-10-3.2-9.2-4.3-8.2-5.4-7.1-6.3-5.9-7.1-4.4-7.7-2.9-8.1-1.4-8.5 .3-8.6 1.8-8.5 3.5-8.2 5-7.9 6.4-7.2 7.8-6.5 8.9-5.7 9.9-4.6 10.8-3.5 11.3-2.3 11.8-1 11.9 .2 11.8 1.5 11.6 2.7 11 4 10.4 5.2 9.4 6.2 8.3 7.1 7 8 5.6 8.7 4.2 9.1 2.5 9.5 1 9.6-.7 9.7-2.3 9.4-3.9 9.1-5.3 8.5-6.7 7.7-7.9 7-9 6-9.8 4.8-10.5 3.8-11 2.4-11.2 1.3-11.2-.1-11-1.3-10.5-2.6-9.9-3.7-9-4.8-7.9-5.8-6.7-6.6-5.4-7.4-3.9-7.8-2.4-8.3-.7-8.4 .8-8.4 2.5-8.3 4-7.9 5.5-7.4 6.8-6.8 8.2-5.9 9.1-4.9 10.1-3.9 10.8-2.7 11.3-1.6 11.5-.2 11.6 1 11.4 2.4 10.9 3.5 10.3 4.8 9.5 5.8 8.4 6.8 7.3 7.8 5.9 8.4 4.4 9 2.9 9.5 1.3 9.6-.3 9.8-2 9.5-3.5 9.3-5.1 8.8-6.5 8.2-7.7 7.4-8.9 6.4-9.9 5.4-10.6 4.3-11.1 3-11.5 1.8-11.6 .6-11.5-.8-11.1-2-10.5-3.3-9.8-4.3-8.7-5.4-7.6-6.2-6.4-7-4.9-7.7-3.4-8.1-1.8-8.3-.2-8.5 1.5-8.4 2.9-8.1 4.6-7.6 5.9-7.1 7.2-6.3 8.4-5.4 9.4-4.3 10.1-3.3 10.8-2.1 11.1-.8 11.2 .5 11.1 1.7 10.8 3 10.3 4.2 9.5 5.3 8.5 6.4 7.5 7.3 6.1 8.1 4.7 8.8 3.3 9.2 1.6 9.5 0 9.7-1.6 9.6-3.2 9.4-4.8 8.9-6.2 8.4-7.6 7.7-8.8 6.7-9.8 5.8-10.6 4.7-11.3 3.5-11.8 2.2-11.9 1-11.8-.3-11.7-1.6-11.1-2.8-10.4-4-9.6-5-8.4-6-7.3-6.9-5.8-7.5-4.4-8-2.8-8.4-1.2-8.6 .4-8.5 2-8.4 3.5-8 5-7.4 6.4-6.8 7.6-5.9 8.7-5 9.5-3.9 10.2-2.7 10.7-1.5 10.9-.3 10.9 1.1 10.6 2.3 10.2 3.5 9.6 4.7 8.7 5.8 7.6 6.8 6.5 7.6 5 8.3 3.6 8.9 2 9.2 .5 9.5-1.2 9.4-2.8 9.3-4.4 9-5.9 8.5-7.3 7.8-8.6 7-9.6 6-10.6 5-11.3 3.8-11.8 2.6-12.1 1.3-12.2 0-12-1.2-11.6-2.5-11-3.7-10.2-4.8-9.2-5.8-8-6.7-6.7-7.5-5.3-8-3.7-8.5-2.1-8.7-.6-8.8 1.1-8.7 2.7-8.4 4.2-7.9 5.6-7.4 6.9-6.5 8-5.6 9-4.6 9.7-3.5 10.3-2.3 10.6-1 10.8 .3 10.6 1.5 10.2 2.7 9.7 4 8.9 5.1 7.9 6.1 6.8 7 5.5 7.8 4.1 8.4 2.5 8.9 1 9.1-.7 9.2-2.2 9.2-3.9 8.9-5.4 8.4-6.9 7.9-8.1 7.1-9.4 6.2-10.3 5.1-11.2 4.1-11.7 2.8-12.2 1.7-12.3 .3-12.2-1-11.9-2.2-11.4-3.5-10.7-4.6-9.7-5.7-8.7-6.6-7.4-7.4-5.9-8.1-4.5-8.6-2.9-8.9-1.3-9 .3-9.1 1.9-8.8 3.5-8.4 5-7.9 6.2-7.2 7.5-6.3 8.6-5.3 9.3-4.3 10.1-3 10.4-1.9 10.7-.6 10.6 .7 10.4 2 9.9 3.2 9.3 4.3 8.3 5.4 7.3 6.4 6 7.2 4.7 7.8 3.2 8.4 1.6 8.8 .1 8.9-1.6 8.9-3.2 8.8-4.8 8.4-6.2 7.8-7.6 7.1-8.8 6.4-10 5.3-10.8 4.3-11.5 3.1-11.9 1.8-12.3 .6-12.2-.7-12-1.9-11.7-3.3-10.9-4.4-10.1-5.5-9.1-6.5-7.9-7.4-6.5-8-5.1-8.7-3.5-9.1-1.9-9.3-.3-9.3 1.3-9.2 2.9-8.9 4.4-8.5 5.8-7.7 7.1-7 8.2-6 9.1-5 9.9-3.9 10.4-2.6 10.7-1.4 10.8-.1 10.7 1.1 10.3 2.4 9.6 3.6 8.9 4.7 7.9 5.7 6.7 6.6 5.4 7.3 4 7.9 2.5 8.4 .8 8.6-.7 8.7-2.4 8.6-3.9 8.3-5.4 7.8-6.9 7.2-8.2 6.5-9.3 5.5-10.3 4.5-11 3.4-11.6 2.1-12 .9-12.1-.4-11.9-1.6-11.7-3-11-4.1-10.4-5.3-9.3-6.3-8.2-7.3-6.9-8-5.5-8.7-4-9.1-2.4-9.5-.8-9.6 .9-9.5 2.5-9.2 4-8.9 5.4-8.3 6.8-7.5 8-6.7 9-5.7 9.8-4.5 10.4-3.4 10.9-2.2 11-.8 11 .4 10.7 1.6 10.3 2.9 9.5 4.1 8.5 5.1 7.6 6 6.2 6.8 4.9 7.5 3.4 8.1 1.8 8.3 .2 8.5-1.4 8.5-3 8.2-4.5 7.9-6 7.3-7.3 6.7-8.6 5.7-9.6 4.8-10.4 3.7-11.1 2.5-11.5 1.3-11.8 0-11.8-1.3-11.5-2.5-11-3.8-10.4-5-9.4-6-8.4-7-7.2-7.9-5.8-8.5-4.3-9.1-2.8-9.5-1.2-9.7 .5-9.7 2.1-9.5 3.7-9.2 5.2-8.6 6.5-8 7.8-7.2 8.9-6.2 9.9-5.2 10.5-4 11.1-2.8 11.3-1.5 11.3-.2 11.2 1 10.8 2.3 10.2 3.4 9.4 4.6 8.3 5.6 7.1 6.4 5.9 7.2 4.4 7.7 2.8 8.1 1.3 8.4-.4 8.5-1.9 8.3-3.6 8-5 7.5-6.4 6.9-7.7 6.1-8.8 5.1-9.8 4.1-10.5 3-11 1.8-11.4 .5-11.4-.7-11.3-2.1-10.9-3.3-10.3-4.5-9.5-5.6-8.5-6.6-7.4-7.5-6-8.3-4.7-8.9-3-9.4-1.5-9.6 .1-9.7 1.8-9.6 3.3-9.4 4.9-8.9 6.4-8.3 7.6-7.5 8.8-6.7 9.9-5.6 10.6-4.5 11.2-3.3 11.6-2 11.7-.8 11.7 .5 11.3 1.8 10.8 3 10.1 4.1 9.2 5.2 8 6.1 6.8 6.9 5.3 7.6 3.9 8 2.3 8.4 .7 8.5-.9 8.4-2.5 8.2-4.1 7.8-5.5 7.3-6.8 6.5-8 5.6-9 4.7-9.9 3.6-10.5 2.3-10.9 1.2-11-.2-11.1-1.4-10.7-2.6-10.3-3.9-9.5-5.1-8.7-6.1-7.5-7-6.3-7.9-4.9-8.6-3.4-9.1-1.9-9.4-.2-9.6 1.4-9.5 3-9.4 4.6-9 6-8.4 7.4-7.8 8.7-6.9 9.7-5.9 10.6-4.9 11.3-3.7 11.8-2.4 12-1.2 12 .1 11.8 1.4 11.4 2.6 10.8 3.8 9.8 4.9 8.9 5.9 7.6 6.8 6.3 7.4 4.8 8 3.2 8.4 1.7 8.7 .1 8.6-1.6 8.5-3.1 8.2-4.6 7.7-6 7-7.2 6.2-8.4 5.3-9.2 4.2-10 3.1-10.5 1.9-10.7 .6-10.8-.7-10.7-1.9-10.2-3.2-9.6-4.4-8.8-5.4-7.8-6.5-6.6-7.3-5.3-8.1-3.8-8.7-2.3-9.1-.7-9.3 .9-9.4 2.6-9.2 4.1-9 5.7-8.5 7-7.8 8.4-7.1 9.5-6.1 10.5-5.1 11.2-4 11.8-2.7 12.1-1.5 12.3-.2 12.1 1 11.8 2.4 11.2 3.5 10.5 4.7 9.5 5.7 8.3 6.7 7.1 7.4 5.6 8 4.1 8.5 2.6 8.8 .9 8.9-.7 8.9-2.3 8.6-3.8 8.2-5.3 7.5-6.5 6.9-7.8 5.9-8.7 5-9.6 3.8-10.1 2.7-10.5 1.4-10.7 .1-10.6-1.1-10.4-2.4-9.8-3.6-9-4.7-8.1-5.8-7.1-6.7-5.7-7.5-4.4-8.2-2.8-8.6-1.3-9 .3-9.1 2-9.1 3.5-8.8 5.1-8.4 6.6-7.9 7.9-7.2 9.1-6.2 10.2-5.3 11-4.2 11.6-3 12.1-1.8 12.3-.4 12.2 .8 12.1 2.1 11.5 3.3 10.8 4.5 10 5.5 8.9 6.6 7.6 7.3 6.3 8.1 4.8 8.6 3.3 9 1.6 9.2 0 9.2-1.6 9-3.2 8.6-4.6 8.2-6 7.4-7.3 6.7-8.3 5.6-9.3 4.6-9.9 3.5-10.4 2.2-10.7 1-10.7-.3-10.5-1.6-10.1-2.8-9.4-4-8.6-5-7.5-6.1-6.4-6.9-5-7.6-3.6-8.2-2-8.5-.4-8.8 1.2-8.9 2.8-8.6 4.3-8.4 5.9-7.8 7.3-7.2 8.5-6.4 9.6-5.5 10.6-4.4 11.3-3.2 11.9-2 12.1-.8 12.2 .5 12 1.8 11.7 3.1 11 4.3 10.3 5.4 9.2 6.4 8.1 7.3 6.8 8 5.3 8.7 3.8 9.1 2.2 9.4 .5 9.4-1 9.4-2.7 9.1-4.2 8.6-5.6 8-6.9 7.3-8 6.4-9.1 5.3-9.8 4.2-10.4 3-10.7 1.8-10.9 .5-10.8-.8-10.5-2.1-9.9-3.2-9.2-4.4-8.2-5.4-7.1-6.3-5.8-7.1-4.4-7.7-2.9-8.2-1.3-8.5 .3-8.6 1.9-8.5 3.5-8.3 5-7.9 6.5-7.2 7.8-6.6 8.9-5.6 10-4.7 10.8-3.5 11.4-2.3 11.8-1.1 11.9 .2 11.9 1.4 11.6 2.8 11.1 4 10.4 5.1 9.4 6.2 8.4 7.1 7.1 7.9 5.6 8.7 4.2 9.1 2.6 9.5 1 9.6-.6 9.6-2.2 9.4-3.8 9-5.3 8.5-6.7 7.8-7.8 6.9-9 6-9.8 4.9-10.4 3.7-10.9 2.5-11.2 1.2-11.2-.1-10.9-1.4-10.5-2.5-9.8-3.8-8.9-4.8-7.9-5.8-6.7-6.6-5.3-7.3-3.9-7.9-2.3-8.3-.7-8.4 .9-8.4 2.5-8.3 4-8 5.6-7.4 6.9-6.7 8.2-5.9 9.2-5 10.1-3.9 10.8-2.7 11.4-1.6 11.5-.2 11.7 1 11.4 2.3 11 3.6 10.4 4.7 9.5 5.8 8.5 6.9 7.3 7.7 6 8.4 4.5 9 2.9 9.5 1.4 9.6-.3 9.8-1.9 9.6-3.5 9.2-5 8.9-6.4 8.1-7.7 7.4-8.9 6.4-9.8 5.5-10.5 4.2-11.1 3.1-11.5 1.8-11.5 .5-11.4-.7-11.1-2.1-10.5-3.2-9.7-4.3-8.7-5.3-7.6-6.3-6.2-7-4.9-7.7-3.3-8-1.8-8.4-.1-8.4 1.4-8.4 3.1-8.1 4.5-7.6 6-7.1 7.3-6.3 8.4-5.4 9.4-4.3 10.2-3.3 10.8-2.1 11.1-.8 11.3 .5 11.2 1.7 10.8 3 10.3 4.3 9.6 5.3 8.6 6.4 7.5 7.3 6.2 8.1 4.8 8.8 3.2 9.2 1.7 9.6 .1 9.6-1.6 9.7-3.1 9.3-4.8 9-6.1 8.4-7.6 7.7-8.7 6.8-9.7 5.8-10.6 4.7-11.3 3.5-11.7 2.3-11.8 1-11.9-.3-11.5-1.6-11.1-2.7-10.4-4-9.5-5-8.5-6-7.2-6.8-5.8-7.5-4.3-8-2.8-8.3-1.2-8.6 .5-8.5 2-8.3 3.6-8 5.1-7.5 6.4-6.7 7.6-5.9 8.7-5 9.6-3.8 10.2-2.7 10.7-1.5 10.9-.2 11 1 10.7 2.3 10.2 3.6 9.6 4.7 8.7 5.8 7.7 6.8 6.5 7.7 5.1 8.3 3.6 8.9 2.1 9.3 .5 9.5-1.2 9.5-2.8 9.3-4.3 9-5.9 8.5-7.2 7.9-8.5 7-9.7 6.1-10.5 5-11.3 3.8-11.8 2.6-12 1.4-12.2 .1-12-1.2-11.6-2.5-11-3.6-10.1-4.8-9.2-5.8-8-6.7-6.7-7.4-5.2-8-3.7-8.4-2.1-8.7-.5-8.8 1.1-8.6 2.7-8.4 4.2-7.9 5.6-7.3 6.9-6.5 8.1-5.6 9-4.5 9.7-3.5 10.3-2.2 10.7-1 10.7 .3 10.6 1.5 10.3 2.8 9.7 4 8.9 5.2 8 6.1 6.8 7.1 5.5 7.8 4.1 8.4 2.6 8.9 .9 9.2-.6 9.3-2.3 9.1-3.8 9-5.4 8.5-6.8 7.9-8.2 7.1-9.3 6.2-10.3 5.2-11.2 4.1-11.7 2.9-12.1 1.7-12.3 .4-12.3-1-11.9-2.1-11.4-3.5-10.7-4.5-9.7-5.6-8.6-6.6-7.4-7.4-6-8-4.5-8.6-2.9-8.8-1.3-9.1 .3-9 2-8.7 3.4-8.4 5-7.9 6.3-7.1 7.4-6.3 8.6-5.3 9.3-4.2 10-3 10.5-1.8 10.7-.6 10.6 .7 10.4 2 9.9 3.3 9.3 4.3 8.3 5.5 7.3 6.4 6 7.2 4.7 7.9 3.2 8.5 1.6 8.7 0 9-1.6 9-3.2 8.8-4.7 8.4-6.3 7.9-7.6 7.1-8.8 6.4-9.9 5.4-10.9 4.3-11.5 3.1-11.9 1.9-12.3 .7-12.3-.7-12-1.9-11.6-3.2-11-4.3-10.2-5.5-9.1-6.5-7.9-7.3-6.5-8.1-5.1-8.6-3.6-9-1.9-9.3-.3-9.3 1.3-9.2 2.9-8.8 4.3-8.4 5.8-7.7 7.1-7 8.2-6 9.1-4.9 9.8-3.9 10.4-2.6 10.7-1.4 10.8 0 10.6 1.1 10.2 2.5 9.7 3.6 8.8 4.7 7.9 5.7 6.7 6.7 5.4 7.3 4 8 2.4 8.4 .8 8.6-.7 8.8-2.4 8.6-4 8.3-5.5 7.9-6.9 7.2-8.1 6.5-9.4 5.6-10.3 4.5-11.1 3.4-11.6 2.2-12 .9-12.1-.3-12-1.7-11.7-2.9-11.1-4.1-10.4-5.2-9.3-6.3-8.3-7.2-6.9-8-5.6-8.7-4-9.1-2.5-9.4-.8-9.6 .8-9.5 2.5-9.2 3.9-8.9 5.4-8.2 6.8-7.5 7.9-6.7 9-5.6 9.7-4.6 10.4-3.3 10.9-2.2 10.9-.8 11 .4 10.7 1.7 10.1 2.9 9.5 4.1 8.6 5.1 7.4 6 6.2 6.9 4.9 7.5 3.3 8 1.8 8.4 .2 8.5-1.4 8.5-3.1 8.3-4.5 7.9-6.1 7.3-7.3 6.7-8.6 5.8-9.7 4.8-10.5 3.7-11.1 2.5-11.6 1.3-11.8 .1-11.8-1.3-11.5-2.5-11.1-3.8-10.4-4.9-9.6-6-8.4-7-7.3-7.9-5.8-8.5-4.4-9.1-2.8-9.5-1.2-9.6 .4-9.7 2-9.5 3.7-9.2 5.1-8.7 6.5-8 7.7-7.1 8.9-6.2 9.8-5.2 10.5-4 10.9-2.8 11.3-1.5 11.3-.2 11.2 1 10.7 2.3 10.2 3.4 9.3 4.6 8.2 5.6 7.1 6.4 5.8 7.2 4.4 7.7 2.8 8.2 1.2 8.3-.4 8.5-2 8.3-3.6 8-5.1 7.5-6.4 6.9-7.8 6.1-8.8 5.2-9.8 4.1-10.6 3-11.1 1.8-11.4 .5-11.4-.8-11.4-2-10.9-3.3-10.4-4.5-9.6-5.6-8.6-6.6-7.4-7.6-6.1-8.3-4.7-8.9-3.1-9.3-1.5-9.7 0-9.7 1.8-9.6 3.3-9.4 4.8-8.9 6.3-8.3 7.6-7.6 8.7-6.6 9.8-5.6 10.6-4.5 11.1-3.4 11.6-2 11.7-.8 11.6 .5 11.3 1.8 10.7 2.9 10.1 4.2 9.1 5.1 8 6.1 6.7 6.9 5.3 7.6 3.8 8 2.3 8.3 .6 8.5-.9 8.4-2.6 8.2-4.1 7.8-5.5 7.3-6.9 6.5-8 5.6-9.1 4.6-9.9 3.6-10.5 2.3-10.9 1.2-11.2-.2-11-1.4-10.8-2.7-10.3-3.9-9.6-5.1-8.7-6.1-7.6-7.1-6.4-7.9-4.9-8.5-3.5-9.1-1.9-9.5-.3-9.6 1.4-9.6 3-9.4 4.5-9 6-8.5 7.4-7.8 8.6-6.9 9.7-6 10.5-4.9 11.3-3.7 11.7-2.4 12-1.2 12 0 11.8 1.4 11.3 2.6 10.7 3.8 9.8 4.8 8.8 5.9 7.6 6.7 6.3 7.4 4.7 8 3.3 8.4 1.6 8.6 .1 8.6-1.6 8.5-3.2 8.1-4.6 7.7-6 7-7.3 6.2-8.3 5.2-9.3 4.2-10 3.1-10.5 1.8-10.8 .6-10.9-.7-10.6-2-10.3-3.2-9.7-4.4-8.8-5.5-7.8-6.5-6.7-7.3-5.3-8.1-3.8-8.7-2.4-9.2-.7-9.3 .9-9.4 2.5-9.3 4.2-9 5.6-8.5 7-7.9 8.4-7.1 9.4-6.2 10.5-5.2 11.2-4 11.8-2.8 12.1-1.5 12.2-.3 12.1 1.1 11.8 2.3 11.2 3.5 10.5 4.6 9.4 5.7 8.4 6.6 7 7.4 5.6 8 4.1 8.5 2.6 8.7 .9 8.9-.7 8.8-2.3 8.5-3.9 8.2-5.2 7.5-6.6 6.8-7.8 5.9-8.7 4.9-9.6 3.9-10.1 2.6-10.5 1.4-10.7 .1-10.7-1.2-10.3-2.4-9.8-3.7-9.1-4.7-8.1-5.8-7-6.8-5.8-7.5-4.4-8.2-2.8-8.7-1.3-9 .3-9.2 1.9-9.1 3.6-8.9 5.1-8.4 6.5-8 7.9-7.1 9.1-6.4 10.2-5.3 11-4.2 11.6-3.1 12.1-1.8 12.3-.5 12.3 .8 12 2 11.5 3.3 10.9 4.4 10 5.6 8.8 6.5 7.7 7.3 6.3 8 4.8 8.6 3.3 8.9 1.6 9.2 0 9.1-1.6 9-3.1 8.6-4.6 8.1-6 7.4-7.3 6.6-8.3 5.6-9.2 4.6-10 3.4-10.4 2.2-10.6 1-10.7-.4-10.5-1.6-10-2.8-9.5-4-8.5-5.1-7.6-6.1-6.3-6.9-5-7.7-3.6-8.2-2-8.6-.4-8.9 1.2-8.8 2.8-8.7 4.4-8.4 5.9-7.9 7.3-7.3 8.5-6.4 9.7-5.5 10.5-4.4 11.4-3.3 11.8-2.1 12.2-.8 12.2 .5 12.1 1.8 11.7 3 11 4.3 10.3 5.3 9.3 6.4 8.1 7.2 6.8 8.1 5.3 8.6 3.9 9.1 2.2 9.3 .6 9.4-1 9.4-2.7 9-4.1 8.6-5.6 8-6.8 7.2-8.1 6.4-9 5.3-9.7 4.1-10.4 3-10.7 1.8-10.9 .4-10.8-.8-10.4-2-9.9-3.3-9.1-4.4-8.2-5.4-7-6.4-5.8-7.1-4.4-7.7-2.9-8.3-1.3-8.5 .4-8.6 1.9-8.6 3.5-8.3 5.1-7.9 6.5-7.3 7.8-6.5 9-5.7 10-4.7 10.8-3.5 11.5-2.4 11.8-1.1 12 .1 11.9 1.5 11.7 2.7 11.1 3.9 10.4 5.1 9.5 6.2 8.4 7.1 7.1 7.9 5.8 8.6 4.2 9.1 2.7 9.5 1 9.6-.6 9.6-2.2 9.4-3.7 9-5.2 8.4-6.6 7.8-7.8 6.9-8.9 6-9.8 4.8-10.4 3.7-10.9 2.5-11.1 1.2-11.1-.1-10.9-1.4-10.4-2.6-9.8-3.7-8.9-4.9-7.8-5.7-6.6-6.7-5.3-7.3-3.9-7.9-2.2-8.3-.7-8.4 .9-8.5 2.6-8.3 4.1-7.9 5.6-7.5 6.9-6.7 8.2-5.9 9.3-5 10.2-3.9 10.9-2.8 11.3-1.5 11.7-.3 11.6 1 11.5 2.3 11.1 3.6 10.4 4.7 9.6 5.8 8.5 6.8 7.4 7.7 6 8.5 4.6 9 3 9.4 1.4 9.7-.2 9.7-1.9 9.6-3.4 9.3-5 8.8-6.3 8.1-7.7 7.4-8.8 6.5-9.7 5.4-10.5 4.3-11.1 3-11.4 1.8-11.4 .6-11.4-.8-11-2-10.4-3.2-9.7-4.3-8.7-5.4-7.5-6.2-6.2-7-4.8-7.7-3.3-8-1.7-8.4-.2-8.4 1.6-8.4 3-8.1 4.6-7.6 6.1-7.1 7.3-6.2 8.5-5.4 9.4-4.4 10.3-3.3 10.8-2 11.2-.8 11.3 .5 11.2 1.7 10.9 3 10.4 4.2 9.6 5.4 8.7 6.4 7.5 7.3 6.3 8.1 4.8 8.8 3.3 9.3 1.8 9.5 .1 9.7-1.5 9.6-3.1 9.4-4.7 9-6.1 8.5-7.5 7.7-8.7 6.8-9.7 5.8-10.5 4.7-11.2 3.6-11.7 2.3-11.8 1-11.8-.3-11.5-1.5-11.1-2.8-10.3-3.9-9.5-5-8.4-6-7.1-6.7-5.8-7.5-4.3-8-2.7-8.3-1.2-8.5 .5-8.6 2.1-8.3 3.6-7.9 5.1-7.4 6.5-6.8 7.6-5.9 8.8-4.9 9.6-3.8 10.2-2.7 10.8-1.5 10.9-.2 11 1.1 10.8 2.3 10.3 3.6 9.6 4.8 8.8 5.8 7.7 6.8 6.5 7.7 5.1 8.4 3.7 8.9 2.1 9.3 .5 9.5-1.1 9.5-2.7 9.4-4.3 9-5.8 8.6-7.3 7.8-8.4 7.1-9.6 6.1-10.5 5-11.3 3.9-11.7 2.7-12.1 1.4-12.1 .1-11.9-1.2-11.6-2.4-11-3.6-10.1-4.7-9.1-5.8-8-6.6-6.6-7.4-5.3-8-3.6-8.4-2.1-8.6-.5-8.7 1.1-8.7 2.7-8.3 4.3-7.9 5.6-7.2 6.9-6.5 8.1-5.5 9-4.6 9.8-3.4 10.3-2.2 10.7-1 10.7 .4 10.7 1.6 10.3 2.8 9.7 4 9 5.2 7.9 6.2 6.9 7.1 5.5 7.8 4.1 8.5 2.6 8.9 1 9.2-.6 9.3-2.3 9.3-3.8 8.9-5.4 8.6-6.8 7.9-8.1 7.2-9.3 6.2-10.3 5.3-11.2 4.1-11.7 3-12.1 1.7-12.3 .4-12.2-.9-11.9-2.1-11.4-3.4-10.7-4.5-9.7-5.6-8.6-6.5-7.4-7.3-6-8-4.5-8.5-2.9-8.9-1.3-9 .4-8.9 1.9-8.8 3.4-8.3 5-7.8 6.3-7.1 7.4-6.3 8.6-5.2 9.3-4.2 10-3 10.5-1.8 10.7-.5 10.6 .8 10.4 2 9.9 3.3 9.2 4.4 8.4 5.5 7.3 6.4 6 7.3 4.7 7.9 3.2 8.5 1.6 8.8 0 9-1.6 9-3.2 8.9-4.7 8.4-6.3 8-7.6 7.2-8.8 6.4-10 5.4-10.8 4.4-11.5 3.2-12 1.9-12.2 .7-12.3-.6-12.1-1.9-11.6-3.1-11-4.4-10.2-5.4-9.1-6.4-7.9-7.3-6.6-8-5.1-8.6-3.6-9-1.9-9.2-.4-9.3 1.3-9.1 2.9-8.8 4.3-8.4 5.8-7.7 7-6.9 8.2-6 9-4.9 9.9-3.8 10.3-2.6 10.7-1.3 10.7-.1 10.6 1.3 10.3 2.4 9.6 3.7 8.8 4.7 7.9 5.8 6.7 6.6 5.3 7.4 4 8 2.4 8.5 .8 8.7-.8 8.7-2.4 8.7-4 8.3-5.5 7.9-6.9 7.3-8.2 6.5-9.4 5.6-10.3 4.6-11.1 3.4-11.7 2.2-12 1-12.2-.3-12-1.6-11.7-2.9-11.2-4-10.3-5.2-9.5-6.3-8.3-7.2-7-8-5.5-8.6-4.1-9.1-2.5-9.4-.8-9.5 .7-9.4 2.4-9.3 3.9-8.8 5.4-8.2 6.7-7.5 7.9-6.6 8.9-5.6 9.7-4.6 10.4-3.3 10.8-2.1 10.9-.8 10.9 .4 10.7 1.7 10.1 2.9 9.4 4.1 8.5 5.1 7.5 6.1 6.1 6.9 4.8 7.5 3.4 8.1 1.7 8.4 .2 8.5-1.5 8.5-3.1 8.3-4.6 8-6.1 7.3-7.4 6.7-8.6 5.8-9.7 4.8-10.5 3.8-11.2 2.5-11.6 1.4-11.9 0-11.8-1.2-11.6-2.5-11.2-3.8-10.4-4.9-9.6-6-8.5-7-7.3-7.8-5.9-8.5-4.4-9.1-2.9-9.4-1.3-9.7 .4-9.6 2-9.5 3.5-9.2 5.1-8.7 6.5-7.9 7.7-7.2 8.8-6.2 9.7-5.2 10.4-4 11-2.7 11.2-1.5 11.2-.3 11.1 1.1 10.7 2.3 10.1 3.4 9.3 4.6 8.2 5.5 7.1 6.5 5.7 7.1 4.3 7.8 2.8 8.1 1.1 8.4-.4 8.5-2.1 8.3-3.6 8-5.1 7.5-6.5 6.9-7.8 6.1-8.9 5.2-9.9 4.1-10.6 3-11.1 1.8-11.4 .5-11.6-.7-11.3-2.1-11.1-3.2-10.4-4.5-9.6-5.6-8.7-6.7-7.4-7.5-6.2-8.3-4.7-8.9-3.2-9.4-1.6-9.6 0-9.7 1.7-9.7 3.2-9.3 4.8-8.9 6.2-8.4 7.6-7.5 8.7-6.7 9.7-5.6 10.5-4.5 11.1-3.4 11.5-2 11.6-.8 11.6 .5 11.2 1.7 10.8 3 9.9 4.1 9.1 5.1 7.9 6.1 6.7 6.9 5.3 7.5 3.8 8 2.2 8.4 .6 8.4-1 8.4-2.6 8.2-4.1 7.8-5.6 7.2-6.9 6.5-8.1 5.6-9.1 4.7-10 3.5-10.5 2.3-11 1.2-11.2-.2-11.1-1.4-10.8-2.7-10.4-4-9.6-5-8.8-6.2-7.6-7.1-6.4-7.9-5-8.6-3.5-9.1-2-9.5-.3-9.6 1.3-9.6 2.9-9.4 4.5-9.1 5.9-8.5 7.4-7.8 8.5-6.9 9.7-6 10.5-4.9 11.2-3.8 11.7-2.5 11.9-1.2 12 0 11.7 1.4 11.3 2.5 10.7 3.8 9.8 4.8 8.7 5.8 7.6 6.7 6.2 7.4 4.7 8 3.3 8.3 1.6 8.6 0 8.6-1.6 8.4-3.2 8.1-4.7 7.7-6 6.9-7.3 6.2-8.4 5.2-9.3 4.2-10.1 3-10.5 1.8-10.8 .6-10.9-.7-10.7-2-10.3-3.3-9.7-4.4-8.9-5.5-7.8-6.5-6.7-7.4-5.3-8.2-3.9-8.7-2.4-9.1-.8-9.4 .9-9.5 2.5-9.3 4.1-9 5.6-8.6 7-7.9 8.3-7.2 9.4-6.2 10.5-5.2 11.1-4 11.8-2.9 12.1-1.5 12.2-.3 12.1 1 11.7 2.2 11.2 3.5 10.5 4.6 9.4 5.6 8.3 6.6 7 7.3 5.6 8 4.1 8.4 2.6 8.7 .9 8.9-.8 8.7-2.3 8.6-3.8 8.1-5.3 7.5-6.6 6.7-7.7 5.9-8.8 4.9-9.6 3.8-10.1 2.5-10.6 1.4-10.7 .1-10.6-1.2-10.4-2.5-9.8-3.7-9.1-4.8-8.1-5.8-7.1-6.8-5.7-7.6-4.4-8.2-2.9-8.8-1.3-9 .3-9.2 1.9-9.1 3.6-9 5-8.5 6.6-7.9 7.9-7.3 9.1-6.3 10.1-5.4 11-4.3 11.7-3.1 12-1.8 12.3-.6 12.3 .7 12 2 11.5 3.3 10.9 4.4 10 5.4 8.9 6.5 7.7 7.3 6.3 8 4.8 8.5 3.2 8.9 1.7 9.1 0 9.1-1.6 8.9-3.1 8.6-4.6 8.1-6 7.3-7.2 6.6-8.4 5.6-9.2 4.5-9.9 3.4-10.4 2.2-10.6 .9-10.7-.4-10.5-1.6-10-2.9-9.4-4-8.6-5.2-7.5-6.1-6.4-7-5-7.7-3.5-8.2-2-8.7-.4-8.8 1.2-8.9 2.8-8.8 4.4-8.4 5.9-8 7.3-7.2 8.6-6.5 9.6-5.5 10.6-4.5 11.4-3.3 11.9-2.1 12.1-.9 12.3 .5 12.1 1.7 11.7 3 11.1 4.2 10.3 5.3 9.3 6.3 8.1 7.2 6.8 8 5.4 8.6 3.9 9 2.2 9.3 .7 9.4-1 9.3-2.6 9-4.1 8.6-5.6 8-6.8 7.2-8 6.3-9 5.2-9.7 4.2-10.3 2.9-10.7 1.8-10.9 .4-10.7-.8-10.4-2.1-9.9-3.3-9.1-4.4-8.1-5.5-7-6.4-5.8-7.1-4.3-7.8-2.9-8.2-1.2-8.6 .3-8.6 2-8.6 3.5-8.4 5.1-7.9 6.6-7.3 7.8-6.6 9-5.7 10.1-4.7 10.8-3.6 11.5-2.4 11.9-1.2 12 .1 12 1.5 11.7 2.6 11.2 3.9 10.4 5.1 9.6 6.1 8.4 7.1 7.2 7.9 5.7 8.6 4.3 9.1 2.7 9.4 1.1 9.6-.5 9.5-2.1 9.4-3.8 9-5.1 8.5-6.6 7.7-7.7 6.9-8.9 5.9-9.7 4.9-10.3 3.6-10.9 2.5-11 1.2-11.1-.1-10.8-1.4-10.4-2.6-9.7-3.8-8.9-4.8-7.8-5.8-6.6-6.7-5.2-7.3-3.8-7.9-2.3-8.3-.6-8.5 1-8.4 2.6-8.3 4.1-8 5.7-7.5 7-6.7 8.2-6 9.3-5 10.2-3.9 11-2.8 11.4-1.5 11.7-.3 11.7 1 11.5 2.3 11.1 3.5 10.5 4.7 9.6 5.8 8.7 6.8 7.4 7.7 6 8.4 4.7 9.1 3 9.4 1.5 9.6-.2 9.7-1.8 9.6-3.4 9.3-4.8 8.8-6.4 8.2-7.6 7.4-8.7 6.4-9.7 5.4-10.4 4.3-11 3.1-11.4 1.8-11.4 .5-11.3-.8-11-2-10.3-3.1-9.6-4.4-8.7-5.3-7.4-6.3-6.2-7-4.8-7.6-3.2-8.1-1.7-8.3-.1-8.4 1.6-8.4 3.1-8.1 4.6-7.6 6.1-7.1 7.4-6.3 8.5-5.3 9.5-4.4 10.3-3.3 10.9-2 11.2-.8 11.4 .5 11.3 1.7 10.9 3 10.5 4.2 9.6 5.4 8.7 6.4 7.6 7.3 6.3 8.2 4.9 8.8 3.4 9.2 1.8 9.6 .2 9.7-1.5 9.6-3 9.4-4.7 9.1-6 8.4-7.4 7.7-8.7 6.8-9.6 5.9-10.5 4.7-11.2 3.6-11.5 2.3-11.8 1-11.8-.2-11.5-1.5-11-2.8-10.3-3.9-9.4-4.9-8.3-6-7.1-6.7-5.8-7.5-4.2-7.9-2.7-8.4-1.1-8.5 .5-8.4 2.1-8.3 3.6-8 5.2-7.4 6.5-6.7 7.7-5.9 8.7-4.9 9.7-3.8 10.3-2.7 10.8-1.4 11-.2 11 1.1 10.8 2.4 10.3 3.6 9.7 4.8 8.8 5.8 7.8 6.8 6.5 7.7 5.2 8.4 3.8 9 2.1 9.3 .6 9.5-1.1 9.6-2.7 9.4-4.3 9.1-5.7 8.5-7.2 7.9-8.4 7.1-9.6 6.2-10.5 5-11.2 4-11.7 2.7-12 1.4-12.1 .1-11.9-1.1-11.5-2.4-10.9-3.6-10.2-4.7-9.1-5.7-7.9-6.6-6.6-7.3-5.2-7.9-3.7-8.4-2-8.6-.5-8.7 1.2-8.6 2.7-8.3 4.3-7.8 5.6-7.3 7-6.4 8-5.5 9.1-4.5 9.8-3.4 10.3-2.2 10.7-.9 10.8 .3 10.7 1.6 10.3 2.9 9.8 4.1 8.9 5.2 8 6.2 6.9 7.1 5.5 7.9 4.2 8.5 2.6 9 1 9.2-.6 9.4-2.2 9.2-3.8 9-5.3 8.6-6.8 8-8.1 7.2-9.3 6.3-10.3 5.3-11.1 4.2-11.7 3-12.1 1.7-12.3 .5-12.2-.8-11.9-2.1-11.4-3.4-10.6-4.4-9.8-5.6-8.6-6.5-7.4-7.3-5.9-7.9-4.5-8.5-2.9-8.8-1.3-8.9 .3-8.9 1.9-8.7 3.5-8.3 5-7.8 6.2-7.1 7.5-6.2 8.5-5.2 9.4-4.1 10-3 10.5-1.7 10.7-.5 10.6 .8 10.4 2.1 9.9 3.3 9.3 4.4 8.3 5.5 7.3 6.5 6 7.3 4.7 8 3.2 8.5 1.6 8.9 .1 9-1.6 9.1-3.2 8.8-4.8 8.5-6.2 8-7.6 7.3-8.9 6.4-9.9 5.5-10.8 4.4-11.6 3.2-12 2-12.2 .7-12.3-.5-12.1-1.9-11.7-3.1-11-4.2-10.1-5.4-9.2-6.4-7.9-7.2-6.6-8-5.1-8.6-3.6-8.9-2-9.2-.4-9.2 1.3-9.1 2.8-8.8 4.4-8.3 5.7-7.7 7-6.8 8.2-6 9-4.9 9.8-3.7 10.4-2.6 10.6-1.3 10.7 0 10.6 1.2 10.2 2.5 9.7 3.7 8.8 4.8 7.8 5.8 6.6 6.7 5.4 7.4 3.9 8.1 2.4 8.4 .8 8.7-.8 8.8-2.4 8.7-4 8.4-5.5 8-7 7.3-8.2 6.5-9.4 5.7-10.4 4.6-11.1 3.4-11.7 2.3-12 1-12.2-.3-12.1-1.5-11.7-2.8-11.2-4.1-10.4-5.2-9.5-6.2-8.3-7.1-7-8-5.7-8.6-4.1-9-2.5-9.4-.9-9.5 .8-9.4 2.3-9.2 3.9-8.8 5.3-8.2 6.6-7.4 7.9-6.6 8.9-5.6 9.7-4.5 10.3-3.4 10.7-2 10.9-.8 10.9 .4 10.6 1.8 10.1 2.9 9.4 4.1 8.5 5.2 7.4 6 6.1 7 4.8 7.5 3.2 8.1 1.8 8.4 .1 8.6-1.5 8.5-3.1 8.3-4.7 8-6.1 7.4-7.4 6.7-8.7 5.8-9.7 4.9-10.6 3.7-11.2 2.6-11.7 1.4-11.9 0-11.9-1.2-11.6-2.5-11.2-3.7-10.5-4.9-9.7-5.9-8.5-7-7.3-7.8-6-8.5-4.5-9.1-2.9-9.4-1.3-9.6 .3-9.7 1.9-9.5 3.5-9.1 5-8.6 6.4-8 7.7-7.2 8.7-6.2 9.7-5.1 10.4-4 10.9-2.8 11.1-1.5 11.3-.2 11 1.1 10.7 2.3 10 3.4 9.2 4.6 8.2 5.6 7 6.4 5.7 7.2 4.2 7.7 2.8 8.2 1.1 8.4-.5 8.4-2.1 8.4-3.7 8-5.1 7.5-6.6 6.9-7.8 6.1-9 5.2-9.9 4.2-10.6 3-11.2 1.7-11.5 .6-11.6-.8-11.4-2-11.1-3.3-10.5-4.5-9.6-5.6-8.7-6.6-7.6-7.5-6.2-8.3-4.8-8.9-3.2-9.4-1.7-9.6 0-9.7 1.6-9.7 3.2-9.3 4.7-9 6.2-8.3 7.5-7.6 8.6-6.6 9.7-5.7 10.4-4.5 11.1-3.3 11.4-2.1 11.6-.8 11.5 .5 11.2 1.7 10.7 2.9 9.9 4.1 9 5.2 7.9 6.1 6.7 6.8 5.2 7.5 3.7 8 2.2 8.4 .6 8.4-1.1 8.4-2.6 8.2-4.2 7.8-5.6 7.2-7 6.4-8.1 5.7-9.1 4.6-10 3.5-10.7 2.3-11 1.2-11.2-.2-11.2-1.5-10.9-2.7-10.4-3.9-9.7-5.1-8.8-6.1-7.6-7.2-6.5-7.9-5.1-8.6-3.5-9.1-2-9.5-.4-9.6 1.2-9.7 2.9-9.4 4.4-9.1 5.9-8.5 7.3-7.9 8.5-6.9 9.6-6.1 10.5-4.9 11.2-3.8 11.6-2.5 11.9-1.3 11.9 .1 11.7 1.3 11.3 2.5 10.6 3.7 9.8 4.8 8.7 5.8 7.5 6.7 6.2 7.4 4.7 7.9 3.2 8.3 1.6 8.5-.1 8.6-1.6 8.4-3.2 8.1-4.7 7.6-6.1 7-7.3 6.1-8.5 5.2-9.3 4.2-10.1 3-10.6 1.8-10.8 .5-10.9-.8-10.8-2-10.3-3.2-9.7-4.5-8.9-5.5-7.9-6.6-6.7-7.4-5.4-8.2-4-8.7-2.3-9.2-.8-9.4 .8-9.5 2.4-9.4 4.1-9.1 5.5-8.6 7-7.9 8.3-7.2 9.4-6.3 10.4-5.2 11.2-4.1 11.7-2.8 12-1.7 12.2-.3 12.1 1 11.7 2.2 11.2 3.4"/>
<g font-family="'Liberation Sans',sans-serif" font-size="9.90" fill="#1a1a1a" text-rendering="geometricPrecision" letter-spacing="0.28">
<g text-anchor="middle">
<text x="548.39" y="314.69">-2</text>
<text x="589.07" y="314.69">-1.5</text>
<text x="629.74" y="314.69">-1</text>
<text x="670.42" y="314.69">-0.5</text>
<text x="711.09" y="314.69">0</text>
<text x="751.77" y="314.69">0.5</text>
<text x="792.44" y="314.69">1</text>
<text x="833.12" y="314.69">1.5</text>
<text x="873.79" y="314.69">2</text>
</g><g text-anchor="end">
<text x="544.10" y="304.82">-2</text>
<text x="544.10" y="272.68">-1.5</text>
<text x="544.10" y="240.54">-1</text>
<text x="544.10" y="208.41">-0.5</text>
<text x="544.10" y="176.27">0</text>
<text x="544.10" y="144.13">0.5</text>
<text x="544.10" y="111.99">1</text>
<text x="544.10" y="79.86">1.5</text>
<text x="544.10" y="47.72">2</text>
</g></g>
<ellipse cx="711.6" cy="172.3" rx="24" ry="14.5" fill="#0072BD"/></g>
<g id="plot-t1000"><g fill="none" stroke="#333" stroke-width="1.00">
<path d="M972.55 42.55H1281.50V286.35M1011.17 42.55v3.40M1281.50 73.03h-3.40M1049.79 42.55v3.40M1281.50 103.50h-3.40M1088.41 42.55v3.40M1281.50 133.98h-3.40M1127.03 42.55v3.40M1281.50 164.45h-3.40M1165.64 42.55v3.40M1281.50 194.93h-3.40M1204.26 42.55v3.40M1281.50 225.40h-3.40M1242.88 42.55v3.40M1281.50 255.88h-3.40" stroke-opacity=".85"/>
<path d="M972.55 42.55V286.35H1281.50M1011.17 286.35v-3.40M972.55 73.03h3.40M1049.79 286.35v-3.40M972.55 103.50h3.40M1088.41 286.35v-3.40M972.55 133.98h3.40M1127.03 286.35v-3.40M972.55 164.45h3.40M1165.64 286.35v-3.40M972.55 194.93h3.40M1204.26 286.35v-3.40M972.55 225.40h3.40M1242.88 286.35v-3.40M972.55 255.88h3.40"/>
</g>
<ellipse cx="1127.03" cy="164.45" rx="155.38" ry="122.80" fill="#0072BD"/>
<g font-family="'Liberation Sans',sans-serif" font-size="9.70" fill="#1a1a1a" text-rendering="geometricPrecision" letter-spacing="0.00">
<g text-anchor="middle">
<text x="972.15" y="300.65">-2</text>
<text x="1010.94" y="300.65">-1.5</text>
<text x="1049.74" y="300.65">-1</text>
<text x="1088.53" y="300.65">-0.5</text>
<text x="1126.93" y="300.65">0</text>
<text x="1165.72" y="300.65">0.5</text>
<text x="1204.51" y="300.65">1</text>
<text x="1243.31" y="300.65">1.5</text>
<text x="1282.10" y="300.65">2</text>
</g><g text-anchor="end">
<text x="968.03" y="292.04">-2</text>
<text x="968.03" y="261.35">-1.5</text>
<text x="968.03" y="230.66">-1</text>
<text x="968.03" y="199.97">-0.5</text>
<text x="968.03" y="169.29">0</text>
<text x="968.03" y="138.60">0.5</text>
<text x="968.03" y="107.91">1</text>
<text x="968.03" y="77.22">1.5</text>
<text x="968.03" y="46.54">2</text>
</g></g>
<g id="t1000-texture"><path fill="#fff" fill-opacity="0.08" d="M1091 52h1v1h-1zm54 1h1v1h-1zm-5 2h1v1h-1zm-5 1h1v1h-1zm-5 1h1v1h-1zm10 1h1v1h-1zm-24 1h1v1h-1zm1 0h1v1h-1zm32 0h1v1h-1zm-19 2h1v1h-1zm9 0h1v1h-1zm14 0h1v1h-1zm-41 1h1v1h-1zm5 1h1v1h-1zm13 2h1v1h-1zm-26 2h1v1h-1zm22 0h1v1h-1zm8 0h1v1h-1zm26 0h1v1h-1zm-64 1h1v1h-1zm21 0h1v1h-1zm38 0h1v1h-1zm-33 1h1v1h-1zm8 0h1v1h-1zm-16 1h1v1h-1zm-9 1h1v1h-1zm72 0h1v1h-1zm-80 1h1v1h-1zm29 0h1v1h-1zm8 0h1v1h-1zm20 0h1v1h-1zm13 0h1v1h-1zm-57 1h1v1h-1zm57 0h1v1h-1zm-65 1h1v1h-1zm20 0h1v1h-1zm73 0h1v1h-1zm-101 1h1v1h-1zm20 0h1v1h-1zm31 0h1v1h-1zm12 0h1v1h-1zm18 0h1v1h-1zm30 0h1v1h-1zm-106 2h1v1h-1zm27 0h1v1h-1zm39 0h1v1h-1zm27 0h1v1h-1zm-32 1h1v1h-1zm-111 1h1v1h-1zm123 0h1v1h-1zm-76 1h1v1h-1zm60 0h1v1h-1zm12 0h1v1h-1zm22 1h1v1h-1zm10 0h1v1h-1zm-143 1h1v1h-1zm76 0h1v1h-1zm77 0h1v1h-1zm-63 1h1v1h-1zm-65 1h1v1h-1zm23 0h1v1h-1zm-73 1h1v1h-1zm18 0h1v1h-1zm37 0h1v1h-1zm42 0h1v1h-1zm7 0h1v1h-1zm29 0h1v1h-1zm37 0h1v1h-1zm-157 1h1v1h-1zm5 0h1v1h-1zm15 0h1v1h-1zm21 0h1v1h-1zm23 0h1v1h-1zm52 0h1v1h-1zm51 0h1v1h-1zm-110 1h1v1h-1zm30 0h1v1h-1zm1 0h1v1h-1zm-98 1h1v1h-1zm121 0h1v1h-1zm37 0h1v1h-1zm5 0h1v1h-1zm-150 1h1v1h-1zm1 0h1v1h-1zm9 0h1v1h-1zm1 0h1v1h-1zm87 0h1v1h-1zm57 0h1v1h-1zm5 0h1v1h-1zm-119 1h1v1h-1zm63 0h1v1h-1zm11 0h1v1h-1zm15 0h1v1h-1zm1 0h1v1h-1zm39 1h1v1h-1zm-197 1h1v1h-1zm127 0h1v1h-1zm10 0h1v1h-1zm47 0h1v1h-1zm-176 1h1v1h-1zm38 0h1v1h-1zm53 0h1v1h-1zm6 0h1v1h-1zm28 0h1v1h-1zm11 0h1v1h-1zm15 0h1v1h-1zm29 0h1v1h-1zm19 0h1v1h-1zm-204 1h1v1h-1zm151 0h1v1h-1zm-98 1h1v1h-1zm-26 1h1v1h-1zm5 0h1v1h-1zm36 0h1v1h-1zm10 0h1v1h-1zm27 0h1v1h-1zm21 0h1v1h-1zm21 0h1v1h-1zm15 0h1v1h-1zm20 0h1v1h-1zm-155 1h1v1h-1zm10 0h1v1h-1zm5 0h1v1h-1zm30 0h1v1h-1zm60 0h1v1h-1zm55 0h1v1h-1zm18 0h1v1h-1zm-214 1h1v1h-1zm8 0h1v1h-1zm18 0h1v1h-1zm45 0h1v1h-1zm134 0h1v1h-1zm-48 1h1v1h-1zm-154 1h1v1h-1zm140 0h1v1h-1zm43 0h1v1h-1zm5 0h1v1h-1zm5 0h1v1h-1zm14 0h1v1h-1zm-184 1h1v1h-1zm4 0h1v1h-1zm1 0h1v1h-1zm14 0h1v1h-1zm34 0h1v1h-1zm1 0h1v1h-1zm53 0h1v1h-1zm10 0h1v1h-1zm29 0h1v1h-1zm24 0h1v1h-1zm19 0h1v1h-1zm-208 1h1v1h-1zm14 0h1v1h-1zm39 0h1v1h-1zm29 0h1v1h-1zm59 0h1v1h-1zm-132 1h1v1h-1zm58 0h1v1h-1zm9 0h1v1h-1zm75 0h1v1h-1zm-156 1h1v1h-1zm33 0h1v1h-1zm29 0h1v1h-1zm28 0h1v1h-1zm81 0h1v1h-1zm4 0h1v1h-1zm5 0h1v1h-1zm5 0h1v1h-1zm5 0h1v1h-1zm19 0h1v1h-1zm-186 1h1v1h-1zm53 0h1v1h-1zm89 0h1v1h-1zm1 0h1v1h-1zm-170 1h1v1h-1zm8 0h1v1h-1zm53 0h1v1h-1zm90 0h1v1h-1zm57 0h1v1h-1zm-190 1h1v1h-1zm57 0h1v1h-1zm23 0h1v1h-1zm35 0h1v1h-1zm-129 1h1v1h-1zm75 0h1v1h-1zm68 0h1v1h-1zm9 0h1v1h-1zm23 0h1v1h-1zm20 0h1v1h-1zm14 0h1v1h-1zm-200 1h1v1h-1zm24 0h1v1h-1zm15 0h1v1h-1zm4 0h1v1h-1zm14 0h1v1h-1zm18 0h1v1h-1zm13 0h1v1h-1zm5 0h1v1h-1zm112 0h1v1h-1zm-210 1h1v1h-1zm14 0h1v1h-1zm5 0h1v1h-1zm48 0h1v1h-1zm55 0h1v1h-1zm13 0h1v1h-1zm22 0h1v1h-1zm-147 1h1v1h-1zm48 0h1v1h-1zm118 0h1v1h-1zm5 0h1v1h-1zm-157 1h1v1h-1zm38 0h1v1h-1zm9 0h1v1h-1zm8 0h1v1h-1zm60 0h1v1h-1zm23 0h1v1h-1zm4 0h1v1h-1zm1 0h1v1h-1zm24 0h1v1h-1zm-186 1h1v1h-1zm14 0h1v1h-1zm25 0h1v1h-1zm18 0h1v1h-1zm148 0h1v1h-1zm-219 1h1v1h-1zm24 0h1v1h-1zm185 0h1v1h-1zm-142 1h1v1h-1zm108 0h1v1h-1zm5 0h1v1h-1zm5 0h1v1h-1zm5 0h1v1h-1zm24 0h1v1h-1zm9 0h1v1h-1zm-179 1h1v1h-1zm4 0h1v1h-1zm23 0h1v1h-1zm86 0h1v1h-1zm13 0h1v1h-1zm5 0h1v1h-1zm24 0h1v1h-1zm41 0h1v1h-1zm-206 1h1v1h-1zm132 0h1v1h-1zm62 0h1v1h-1zm-227 1h1v1h-1zm23 0h1v1h-1zm60 0h1v1h-1zm77 0h1v1h-1zm-142 1h1v1h-1zm1 0h1v1h-1zm164 0h1v1h-1zm29 0h1v1h-1zm19 0h1v1h-1zm-226 1h1v1h-1zm33 0h1v1h-1zm1 0h1v1h-1zm9 0h1v1h-1zm5 0h1v1h-1zm115 0h1v1h-1zm5 0h1v1h-1zm24 0h1v1h-1zm20 1h1v1h-1zm9 0h1v1h-1zm-216 1h1v1h-1zm149 0h1v1h-1zm-110 1h1v1h-1zm133 0h1v1h-1zm29 0h1v1h-1zm-215 1h1v1h-1zm34 0h1v1h-1zm10 0h1v1h-1zm14 0h1v1h-1zm-24 1h1v1h-1zm113 0h1v1h-1zm8 0h1v1h-1zm-83 1h1v1h-1zm90 0h1v1h-1zm22 0h1v1h-1zm5 0h1v1h-1zm20 0h1v1h-1zm-184 1h1v1h-1zm20 0h1v1h-1zm5 0h1v1h-1zm5 0h1v1h-1zm5 0h1v1h-1zm155 0h1v1h-1zm9 0h1v1h-1zm-20 1h1v1h-1zm-173 1h1v1h-1zm198 0h1v1h-1zm-203 1h1v1h-1zm147 0h1v1h-1zm19 0h1v1h-1zm31 0h1v1h-1zm-212 1h1v1h-1zm31 0h1v1h-1zm5 0h1v1h-1zm176 0h1v1h-1zm10 0h1v1h-1zm-222 1h1v1h-1zm26 0h1v1h-1zm-20 1h1v1h-1zm16 0h1v1h-1zm194 0h1v1h-1zm10 0h1v1h-1zm-193 1h1v1h-1zm146 0h1v1h-1zm32 0h1v1h-1zm-178 1h1v1h-1zm156 0h1v1h-1zm-165 1h1v1h-1zm169 0h1v1h-1zm11 0h1v1h-1zm-196 1h1v1h-1zm216 0h1v1h-1zm-189 1h1v1h-1zm1 0h1v1h-1zm162 0h1v1h-1zm11 0h1v1h-1zm10 0h1v1h-1zm-204 1h1v1h-1zm16 0h1v1h-1zm155 0h1v1h-1zm5 1h1v1h-1zm22 0h1v1h-1zm15 0h1v1h-1zm-195 1h1v1h-1zm0 1h1v1h-1zm1 0h1v1h-1zm150 0h1v1h-1zm27 1h1v1h-1zm21 0h1v1h-1zm-212 2h1v1h-1zm161 0h1v1h-1zm23 0h1v1h-1zm-235 1h1v1h-1zm39 0h1v1h-1zm178 0h1v1h-1zm-142 1h1v1h-1zm164 0h1v1h-1zm22 0h1v1h-1zm-226 1h1v1h-1zm1 0h1v1h-1zm18 0h1v1h-1zm155 0h1v1h-1zm-167 1h1v1h-1zm36 0h1v1h-1zm135 0h1v1h-1zm1 0h1v1h-1zm11 0h1v1h-1zm-194 1h1v1h-1zm206 0h1v1h-1zm22 0h1v1h-1zm-221 1h1v1h-1zm19 0h1v1h-1zm-35 1h1v1h-1zm23 0h1v1h-1zm165 0h1v1h-1zm12 0h1v1h-1zm-188 1h1v1h-1zm43 0h1v1h-1zm125 0h1v1h-1zm32 0h1v1h-1zm33 0h1v1h-1zm-264 1h1v1h-1zm204 0h1v1h-1zm-139 1h1v1h-1zm151 0h1v1h-1zm25 0h1v1h-1zm-14 1h1v1h-1zm-178 1h1v1h-1zm196 0h1v1h-1zm-168 1h1v1h-1zm119 1h1v1h-1zm28 0h1v1h-1zm-164 1h1v1h-1zm-65 1h1v1h-1zm20 0h1v1h-1zm6 0h1v1h-1zm207 0h1v1h-1zm7 0h1v1h-1zm-179 1h1v1h-1zm8 0h1v1h-1zm124 0h1v1h-1zm17 0h1v1h-1zm27 1h1v1h-1zm7 0h1v1h-1zm-187 1h1v1h-1zm16 0h1v1h-1zm141 0h1v1h-1zm-4 1h1v1h-1zm-149 1h1v1h-1zm8 0h1v1h-1zm137 1h1v1h-1zm73 0h1v1h-1zm-270 1h1v1h-1zm5 0h1v1h-1zm59 0h1v1h-1zm1 0h1v1h-1zm119 0h1v1h-1zm29 0h1v1h-1zm7 0h1v1h-1zm-179 1h1v1h-1zm8 0h1v1h-1zm143 0h1v1h-1zm35 0h1v1h-1zm-166 1h1v1h-1zm-53 1h1v1h-1zm37 0h1v1h-1zm12 1h1v1h-1zm135 0h1v1h-1zm20 0h1v1h-1zm-163 1h1v1h-1zm171 0h1v1h-1zm30 0h1v1h-1zm-208 1h1v1h-1zm-8 1h1v1h-1zm32 0h1v1h-1zm149 0h1v1h-1zm1 0h1v1h-1zm-170 1h1v1h-1zm-8 1h1v1h-1zm1 0h1v1h-1zm191 0h1v1h-1zm32 1h1v1h-1zm-237 1h1v1h-1zm189 1h1v1h-1zm19 0h1v1h-1zm-226 1h1v1h-1zm203 0h1v1h-1zm12 0h1v1h-1zm-200 1h1v1h-1zm18 0h1v1h-1zm-24 1h1v1h-1zm201 0h1v1h-1zm-4 1h1v1h-1zm11 0h1v1h-1zm-198 1h1v1h-1zm182 0h1v1h-1zm-188 1h1v1h-1zm10 1h1v1h-1zm185 0h1v1h-1zm-206 1h1v1h-1zm26 0h1v1h-1zm176 0h1v1h-1zm46 0h1v1h-1zm-35 1h1v1h-1zm27 0h1v1h-1zm-221 1h1v1h-1zm11 0h1v1h-1zm16 0h1v1h-1zm-42 1h1v1h-1zm205 0h1v1h-1zm21 0h1v1h-1zm-202 2h1v1h-1zm167 0h1v1h-1zm20 0h1v1h-1zm26 0h1v1h-1zm-224 1h1v1h-1zm1 0h1v1h-1zm10 0h1v1h-1zm21 0h1v1h-1zm35 0h1v1h-1zm138 0h1v1h-1zm-210 1h1v1h-1zm41 0h1v1h-1zm5 0h1v1h-1zm21 0h1v1h-1zm143 0h1v1h-1zm-185 1h1v1h-1zm136 0h1v1h-1zm29 0h1v1h-1zm-196 1h1v1h-1zm172 0h1v1h-1zm-177 1h1v1h-1zm15 0h1v1h-1zm150 0h1v1h-1zm47 0h1v1h-1zm10 0h1v1h-1zm10 0h1v1h-1zm-155 1h1v1h-1zm92 0h1v1h-1zm-134 1h1v1h-1zm163 0h1v1h-1zm4 0h1v1h-1zm-198 1h1v1h-1zm10 0h1v1h-1zm25 0h1v1h-1zm41 0h1v1h-1zm74 0h1v1h-1zm29 0h1v1h-1zm10 0h1v1h-1zm-139 1h1v1h-1zm112 0h1v1h-1zm42 0h1v1h-1zm1 0h1v1h-1zm-176 1h1v1h-1zm186 0h1v1h-1zm0 1h1v1h-1zm-206 1h1v1h-1zm10 0h1v1h-1zm25 0h1v1h-1zm39 0h1v1h-1zm103 0h1v1h-1zm24 0h1v1h-1zm1 0h1v1h-1zm-216 1h1v1h-1zm28 0h1v1h-1zm48 0h1v1h-1zm150 0h1v1h-1zm-218 1h1v1h-1zm198 0h1v1h-1zm-42 1h1v1h-1zm23 0h1v1h-1zm5 0h1v1h-1zm29 0h1v1h-1zm10 0h1v1h-1zm-227 1h1v1h-1zm48 0h1v1h-1zm10 0h1v1h-1zm107 0h1v1h-1zm47 0h1v1h-1zm1 0h1v1h-1zm-190 1h1v1h-1zm48 0h1v1h-1zm-57 1h1v1h-1zm160 0h1v1h-1zm29 0h1v1h-1zm15 0h1v1h-1zm-200 1h1v1h-1zm39 0h1v1h-1zm5 0h1v1h-1zm13 0h1v1h-1zm104 0h1v1h-1zm5 0h1v1h-1zm9 0h1v1h-1zm5 0h1v1h-1zm-146 1h1v1h-1zm113 0h1v1h-1zm-85 1h1v1h-1zm8 0h1v1h-1zm68 0h1v1h-1zm1 0h1v1h-1zm66 0h1v1h-1zm-196 1h1v1h-1zm134 0h1v1h-1zm13 0h1v1h-1zm1 0h1v1h-1zm4 0h1v1h-1zm20 0h1v1h-1zm5 0h1v1h-1zm-186 1h1v1h-1zm14 0h1v1h-1zm10 0h1v1h-1zm5 0h1v1h-1zm37 0h1v1h-1zm95 0h1v1h-1zm10 0h1v1h-1zm5 0h1v1h-1zm42 0h1v1h-1zm-227 1h1v1h-1zm33 0h1v1h-1zm171 0h1v1h-1zm-147 1h1v1h-1zm14 0h1v1h-1zm68 0h1v1h-1zm8 0h1v1h-1zm14 0h1v1h-1zm53 0h1v1h-1zm-162 1h1v1h-1zm50 0h1v1h-1zm50 0h1v1h-1zm14 0h1v1h-1zm24 0h1v1h-1zm19 0h1v1h-1zm-200 1h1v1h-1zm14 0h1v1h-1zm10 0h1v1h-1zm5 0h1v1h-1zm5 0h1v1h-1zm4 0h1v1h-1zm1 0h1v1h-1zm95 0h1v1h-1zm37 0h1v1h-1zm-180 1h1v1h-1zm38 0h1v1h-1zm56 0h1v1h-1zm44 0h1v1h-1zm9 0h1v1h-1zm14 0h1v1h-1zm-147 1h1v1h-1zm57 0h1v1h-1zm95 0h1v1h-1zm29 0h1v1h-1zm27 0h1v1h-1zm-226 1h1v1h-1zm27 0h1v1h-1zm30 0h1v1h-1zm14 0h1v1h-1zm75 0h1v1h-1zm33 0h1v1h-1zm-166 1h1v1h-1zm24 0h1v1h-1zm43 0h1v1h-1zm142 0h1v1h-1zm-180 1h1v1h-1zm24 0h1v1h-1zm10 0h1v1h-1zm74 0h1v1h-1zm58 0h1v1h-1zm-190 1h1v1h-1zm44 0h1v1h-1zm48 0h1v1h-1zm93 0h1v1h-1zm14 0h1v1h-1zm-208 1h1v1h-1zm14 0h1v1h-1zm34 0h1v1h-1zm25 0h1v1h-1zm62 0h1v1h-1zm10 0h1v1h-1zm20 0h1v1h-1zm10 0h1v1h-1zm9 0h1v1h-1zm1 0h1v1h-1zm18 0h1v1h-1zm-180 1h1v1h-1zm1 0h1v1h-1zm4 0h1v1h-1zm1 0h1v1h-1zm4 0h1v1h-1zm1 0h1v1h-1zm9 0h1v1h-1zm15 0h1v1h-1zm112 0h1v1h-1zm42 0h1v1h-1zm-154 1h1v1h-1zm10 0h1v1h-1zm72 0h1v1h-1zm54 0h1v1h-1zm-50 1h1v1h-1zm45 0h1v1h-1zm18 0h1v1h-1zm-214 1h1v1h-1zm26 0h1v1h-1zm25 0h1v1h-1zm20 0h1v1h-1zm10 0h1v1h-1zm60 0h1v1h-1zm30 0h1v1h-1zm10 0h1v1h-1zm28 0h1v1h-1zm-196 1h1v1h-1zm18 0h1v1h-1zm5 0h1v1h-1zm10 0h1v1h-1zm89 0h1v1h-1zm70 0h1v1h-1zm-208 1h1v1h-1zm163 0h1v1h-1zm-138 1h1v1h-1zm35 0h1v1h-1zm42 0h1v1h-1zm-97 1h1v1h-1zm7 0h1v1h-1zm18 0h1v1h-1zm25 0h1v1h-1zm20 0h1v1h-1zm82 0h1v1h-1zm26 0h1v1h-1zm28 0h1v1h-1zm-161 1h1v1h-1zm42 0h1v1h-1zm65 0h1v1h-1zm-130 2h1v1h-1zm34 0h1v1h-1zm27 0h1v1h-1zm63 0h1v1h-1zm45 0h1v1h-1zm-164 1h1v1h-1zm5 0h1v1h-1zm15 0h1v1h-1zm5 0h1v1h-1zm16 0h1v1h-1zm21 0h1v1h-1zm40 0h1v1h-1zm22 0h1v1h-1zm20 0h1v1h-1zm1 0h1v1h-1zm5 0h1v1h-1zm5 0h1v1h-1zm23 0h1v1h-1zm-191 1h1v1h-1zm64 0h1v1h-1zm38 0h1v1h-1zm6 0h1v1h-1zm33 0h1v1h-1zm-70 1h1v1h-1zm59 0h1v1h-1zm51 0h1v1h-1zm-121 1h1v1h-1zm52 0h1v1h-1zm44 0h1v1h-1zm15 0h1v1h-1zm-157 1h1v1h-1zm5 0h1v1h-1zm1 0h1v1h-1zm4 0h1v1h-1zm1 0h1v1h-1zm5 0h1v1h-1zm4 0h1v1h-1zm1 0h1v1h-1zm64 0h1v1h-1zm57 0h1v1h-1zm-162 1h1v1h-1zm190 0h1v1h-1zm-35 1h1v1h-1zm-91 1h1v1h-1zm12 0h1v1h-1zm51 0h1v1h-1zm11 0h1v1h-1zm17 0h1v1h-1zm20 0h1v1h-1zm5 0h1v1h-1zm-153 1h1v1h-1zm1 0h1v1h-1zm4 0h1v1h-1zm1 0h1v1h-1zm5 0h1v1h-1zm5 0h1v1h-1zm33 0h1v1h-1zm67 0h1v1h-1zm-84 1h1v1h-1zm31 0h1v1h-1zm41 0h1v1h-1zm17 0h1v1h-1zm-24 1h1v1h-1zm12 0h1v1h-1zm-106 1h1v1h-1zm15 0h1v1h-1zm17 1h1v1h-1zm12 0h1v1h-1zm35 0h1v1h-1zm31 0h1v1h-1zm-19 1h1v1h-1zm29 0h1v1h-1zm-17 1h1v1h-1zm22 0h1v1h-1zm-77 1h1v1h-1zm59 0h1v1h-1zm-77 1h1v1h-1zm82 0h1v1h-1zm-69 1h1v1h-1zm20 0h1v1h-1zm16 0h1v1h-1zm-41 1h1v1h-1zm21 1h1v1h-1zm-13 1h1v1h-1zm17 1h1v1h-1zm8 1h1v1h-1zm35 0h1v1h-1zm-56 1h1v1h-1zm8 0h1v1h-1zm1 0h1v1h-1zm52 0h1v1h-1zm-44 1h1v1h-1zm-4 2h1v1h-1zm8 0h1v1h-1zm5 2h1v1h-1zm-14 2h1v1h-1zm18 0h1v1h-1zm-4 2h1v1h-1zm-28 1h1v1h-1zm33 0h1v1h-1zm-24 1h1v1h-1zm29 0h1v1h-1zm14 0h1v1h-1zm-9 1h1v1h-1zm5 1h1v1h-1zm-10 1h1v1h-1z"/>
<path fill="#fff" fill-opacity="0.16" d="M1121 61h1v1h-1zm5 2h1v1h-1zm-18 1h1v1h-1zm5 2h1v1h-1zm-4 2h1v1h-1zm-8 1h1v1h-1zm17 3h1v1h-1zm54 0h1v1h-1zm-10 2h1v1h-1zm-90 1h1v1h-1zm69 2h1v1h-1zm36 1h1v1h-1zm-40 2h1v1h-1zm-90 2h1v1h-1zm5 0h1v1h-1zm10 0h1v1h-1zm5 0h1v1h-1zm5 0h1v1h-1zm5 1h1v1h-1zm138 0h1v1h-1zm-45 1h1v1h-1zm-115 1h1v1h-1zm5 0h1v1h-1zm26 0h1v1h-1zm-16 1h1v1h-1zm73 0h1v1h-1zm34 0h1v1h-1zm-137 1h1v1h-1zm35 0h1v1h-1zm16 0h1v1h-1zm81 0h1v1h-1zm-92 1h1v1h-1zm87 0h1v1h-1zm21 0h1v1h-1zm-135 1h1v1h-1zm10 0h1v1h-1zm21 0h1v1h-1zm99 0h1v1h-1zm-115 1h1v1h-1zm5 0h1v1h-1zm140 0h1v1h-1zm-135 1h1v1h-1zm96 0h1v1h-1zm-91 1h1v1h-1zm10 0h1v1h-1zm76 0h1v1h-1zm21 0h1v1h-1zm5 0h1v1h-1zm5 0h1v1h-1zm-153 1h1v1h-1zm5 0h1v1h-1zm5 0h1v1h-1zm5 0h1v1h-1zm123 0h1v1h-1zm25 0h1v1h-1zm-168 1h1v1h-1zm30 0h1v1h-1zm15 0h1v1h-1zm93 0h1v1h-1zm-88 1h1v1h-1zm68 0h1v1h-1zm-79 1h1v1h-1zm110 0h1v1h-1zm5 0h1v1h-1zm5 0h1v1h-1zm23 0h1v1h-1zm-178 1h1v1h-1zm10 0h1v1h-1zm30 0h1v1h-1zm80 0h1v1h-1zm15 0h1v1h-1zm5 0h1v1h-1zm-115 1h1v1h-1zm105 0h1v1h-1zm1 0h1v1h-1zm-87 1h1v1h-1zm10 0h1v1h-1zm62 0h1v1h-1zm-82 1h1v1h-1zm35 0h1v1h-1zm72 0h1v1h-1zm5 0h1v1h-1zm-165 1h1v1h-1zm38 0h1v1h-1zm20 0h1v1h-1zm82 0h1v1h-1zm15 0h1v1h-1zm34 0h1v1h-1zm-146 1h1v1h-1zm107 0h1v1h-1zm44 0h1v1h-1zm-166 2h1v1h-1zm104 0h1v1h-1zm28 0h1v1h-1zm-161 1h1v1h-1zm19 0h1v1h-1zm39 0h1v1h-1zm18 0h1v1h-1zm48 0h1v1h-1zm67 0h1v1h-1zm-39 1h1v1h-1zm-128 2h1v1h-1zm5 0h1v1h-1zm5 0h1v1h-1zm147 0h1v1h-1zm-167 1h1v1h-1zm5 0h1v1h-1zm138 0h1v1h-1zm34 0h1v1h-1zm-143 1h1v1h-1zm-57 2h1v1h-1zm33 0h1v1h-1zm5 0h1v1h-1zm5 0h1v1h-1zm5 0h1v1h-1zm87 0h1v1h-1zm55 0h1v1h-1zm-166 1h1v1h-1zm4 0h1v1h-1zm133 0h1v1h-1zm-157 1h1v1h-1zm53 0h1v1h-1zm-43 1h1v1h-1zm170 0h1v1h-1zm-184 1h1v1h-1zm29 0h1v1h-1zm5 0h1v1h-1zm14 0h1v1h-1zm27 0h1v1h-1zm-51 1h1v1h-1zm175 0h1v1h-1zm-194 1h1v1h-1zm199 0h1v1h-1zm-142 1h1v1h-1zm107 0h1v1h-1zm5 0h1v1h-1zm10 0h1v1h-1zm5 0h1v1h-1zm-189 1h1v1h-1zm10 0h1v1h-1zm20 0h1v1h-1zm37 0h1v1h-1zm98 0h1v1h-1zm-140 1h1v1h-1zm135 0h1v1h-1zm38 0h1v1h-1zm-202 1h1v1h-1zm9 0h1v1h-1zm15 0h1v1h-1zm183 0h1v1h-1zm-35 1h1v1h-1zm5 0h1v1h-1zm14 0h1v1h-1zm-186 1h1v1h-1zm10 0h1v1h-1zm20 0h1v1h-1zm161 0h1v1h-1zm5 0h1v1h-1zm0 1h1v1h-1zm15 0h1v1h-1zm-215 1h1v1h-1zm175 0h1v1h-1zm30 0h1v1h-1zm-40 1h1v1h-1zm5 0h1v1h-1zm19 0h1v1h-1zm5 0h1v1h-1zm15 0h1v1h-1zm-204 1h1v1h-1zm10 0h1v1h-1zm16 0h1v1h-1zm167 0h1v1h-1zm5 1h1v1h-1zm11 0h1v1h-1zm-213 1h1v1h-1zm10 0h1v1h-1zm162 0h1v1h-1zm19 1h1v1h-1zm16 0h1v1h-1zm-211 1h1v1h-1zm20 0h1v1h-1zm180 0h1v1h-1zm15 0h1v1h-1zm-41 1h1v1h-1zm30 0h1v1h-1zm-199 1h1v1h-1zm21 0h1v1h-1zm21 0h1v1h-1zm146 0h1v1h-1zm16 0h1v1h-1zm10 0h1v1h-1zm-208 1h1v1h-1zm11 0h1v1h-1zm16 0h1v1h-1zm-37 1h1v1h-1zm223 0h1v1h-1zm-217 1h1v1h-1zm6 2h1v1h-1zm-10 1h1v1h-1zm6 1h1v1h-1zm38 0h1v1h-1zm185 0h1v1h-1zm-217 1h1v1h-1zm-10 1h1v1h-1zm204 0h1v1h-1zm-191 3h1v1h-1zm-11 1h1v1h-1zm3 3h1v1h-1zm-8 5h1v1h-1zm39 9h1v1h-1zm175 2h1v1h-1zm-220 2h1v1h-1zm177 2h1v1h-1zm-182 5h1v1h-1zm205 2h1v1h-1zm-4 1h1v1h-1zm-164 1h1v1h-1zm211 1h1v1h-1zm-225 1h1v1h-1zm4 2h1v1h-1zm223 1h1v1h-1zm-219 1h1v1h-1zm183 1h1v1h-1zm27 0h1v1h-1zm-10 1h1v1h-1zm-213 1h1v1h-1zm22 0h1v1h-1zm187 1h1v1h-1zm-189 2h1v1h-1zm185 0h1v1h-1zm-207 1h1v1h-1zm11 0h1v1h-1zm180 0h1v1h-1zm22 1h1v1h-1zm-15 1h1v1h-1zm21 0h1v1h-1zm-199 1h1v1h-1zm173 0h1v1h-1zm-184 1h1v1h-1zm195 0h1v1h-1zm11 0h1v1h-1zm-202 1h1v1h-1zm16 0h1v1h-1zm5 1h1v1h-1zm-37 1h1v1h-1zm10 0h1v1h-1zm11 0h1v1h-1zm177 0h1v1h-1zm-33 1h1v1h-1zm44 0h1v1h-1zm10 0h1v1h-1zm-204 1h1v1h-1zm20 0h1v1h-1zm19 0h1v1h-1zm125 0h1v1h-1zm25 0h1v1h-1zm-214 1h1v1h-1zm29 0h1v1h-1zm21 0h1v1h-1zm27 0h1v1h-1zm148 0h1v1h-1zm-216 1h1v1h-1zm10 0h1v1h-1zm186 0h1v1h-1zm-166 1h1v1h-1zm137 0h1v1h-1zm5 0h1v1h-1zm19 0h1v1h-1zm30 0h1v1h-1zm-186 1h1v1h-1zm9 0h1v1h-1zm5 0h1v1h-1zm5 0h1v1h-1zm148 1h1v1h-1zm-202 1h1v1h-1zm9 0h1v1h-1zm15 0h1v1h-1zm51 0h1v1h-1zm93 0h1v1h-1zm44 0h1v1h-1zm-183 1h1v1h-1zm144 0h1v1h-1zm19 0h1v1h-1zm-188 1h1v1h-1zm199 1h1v1h-1zm14 0h1v1h-1zm-218 1h1v1h-1zm9 0h1v1h-1zm15 0h1v1h-1zm5 1h1v1h-1zm5 0h1v1h-1zm114 0h1v1h-1zm61 1h1v1h-1zm-190 1h1v1h-1zm56 0h1v1h-1zm57 0h1v1h-1zm-132 1h1v1h-1zm9 0h1v1h-1zm15 0h1v1h-1zm190 0h1v1h-1zm-181 1h1v1h-1zm20 0h1v1h-1zm18 0h1v1h-1zm77 0h1v1h-1zm32 0h1v1h-1zm-137 1h1v1h-1zm24 0h1v1h-1zm138 1h1v1h-1zm-196 1h1v1h-1zm14 0h1v1h-1zm5 0h1v1h-1zm5 1h1v1h-1zm38 0h1v1h-1zm-4 1h1v1h-1zm-5 1h1v1h-1zm76 1h1v1h-1zm18 0h1v1h-1zm19 0h1v1h-1zm20 0h1v1h-1zm19 0h1v1h-1zm-181 1h1v1h-1zm10 0h1v1h-1zm5 0h1v1h-1zm5 0h1v1h-1zm108 0h1v1h-1zm48 0h1v1h-1zm-67 1h1v1h-1zm28 1h1v1h-1zm-97 1h1v1h-1zm73 0h1v1h-1zm34 0h1v1h-1zm-20 1h1v1h-1zm9 2h1v1h-1zm-158 1h1v1h-1zm48 0h1v1h-1zm120 0h1v1h-1zm10 0h1v1h-1zm5 0h1v1h-1zm-150 1h1v1h-1zm115 0h1v1h-1zm-79 1h1v1h-1zm123 0h1v1h-1zm-61 1h1v1h-1zm11 0h1v1h-1zm15 0h1v1h-1zm30 0h1v1h-1zm-20 1h1v1h-1zm10 0h1v1h-1zm5 0h1v1h-1zm-153 1h1v1h-1zm5 0h1v1h-1zm26 0h1v1h-1zm76 0h1v1h-1zm-138 1h1v1h-1zm57 0h1v1h-1zm96 0h1v1h-1zm-85 1h1v1h-1zm63 0h1v1h-1zm27 0h1v1h-1zm5 0h1v1h-1zm-130 2h1v1h-1zm5 0h1v1h-1zm26 0h1v1h-1zm11 0h1v1h-1zm-16 1h1v1h-1zm70 0h1v1h-1zm27 0h1v1h-1zm-102 1h1v1h-1zm107 0h1v1h-1zm25 0h1v1h-1zm-147 1h1v1h-1zm27 0h1v1h-1zm11 0h1v1h-1zm-16 1h1v1h-1zm65 0h1v1h-1zm-70 1h1v1h-1zm17 0h1v1h-1zm46 0h1v1h-1zm35 0h1v1h-1zm10 1h1v1h-1zm5 0h1v1h-1zm5 0h1v1h-1zm-99 2h1v1h-1zm41 0h1v1h-1zm-57 1h1v1h-1zm98 0h1v1h-1zm-86 1h1v1h-1zm49 0h1v1h-1zm31 6h1v1h-1zm5 0h1v1h-1zm-71 1h1v1h-1zm4 3h1v1h-1zm8 1h1v1h-1zm-9 3h1v1h-1zm13 3h1v1h-1zm23 4h1v1h-1zm5 1h1v1h-1zm-19 2h1v1h-1zm5 1h1v1h-1z"/></g></g>
</svg>
<div class="dot" style="left:494px;top:333px"></div>
<div class="dot" style="left:920px;top:318px"></div>
<p class="row" id="l1" style="top:355px"><span style="left:212.50px">t</span> <span style="left:227.61px">=</span> <span style="left:250.15px;letter-spacing:0.57px">10</span> <span style="left:285.09px">s</span></p>
<p class="row" id="l2" style="top:355px"><span style="left:643.55px">t</span> <span style="left:658.71px">=</span> <span style="left:681.45px;letter-spacing:0.57px">100</span> <span style="left:731.04px">s</span></p>
<p class="row" id="l3" style="top:355px"><span style="left:1052.55px">t</span> <span style="left:1067.81px">=</span> <span style="left:1090.71px;letter-spacing:0.57px">1000</span> <span style="left:1154.89px">s</span></p>
<p class="row" id="cap" style="top:392px"><span style="left:434.90px;letter-spacing:0.65px">Figure</span> <span style="left:515.58px;letter-spacing:1.77px">9.</span> <span style="left:543.80px;letter-spacing:0.79px">The</span> <span style="left:595.92px;letter-spacing:1.50px">filling</span> <span style="left:666.77px;letter-spacing:0.64px">increases</span> <span style="left:784.50px;letter-spacing:1.25px">over</span> <span style="left:845.12px;letter-spacing:2.25px">time.</span></p>
</body></html>
